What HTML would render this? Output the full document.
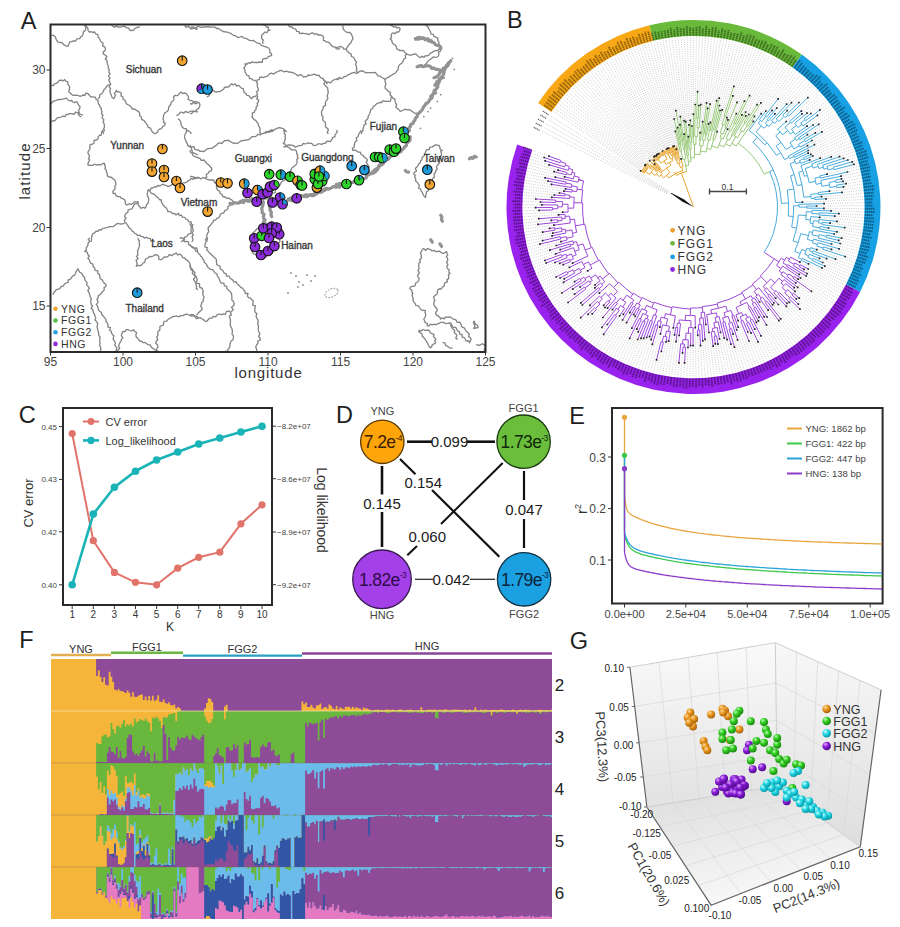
<!DOCTYPE html><html><head><meta charset="utf-8"><style>html,body{margin:0;padding:0;background:#fff;width:900px;height:927px;overflow:hidden}svg{display:block;font-family:"Liberation Sans",sans-serif}</style></head><body>
<svg width="900" height="927" viewBox="0 0 900 927">
<rect width="900" height="927" fill="#fff"/>
<text x="20.7" y="28.6" font-size="23.5" fill="#1e1e1e" text-anchor="start" >A</text>
<text x="507" y="28.2" font-size="23.5" fill="#1e1e1e" text-anchor="start" >B</text>
<text x="18.8" y="422.6" font-size="23.5" fill="#1e1e1e" text-anchor="start" >C</text>
<text x="336" y="423" font-size="23.5" fill="#1e1e1e" text-anchor="start" >D</text>
<text x="569.2" y="423.5" font-size="23.5" fill="#1e1e1e" text-anchor="start" >E</text>
<text x="19.3" y="648.2" font-size="23.5" fill="#1e1e1e" text-anchor="start" >F</text>
<text x="569.8" y="648.6" font-size="23.5" fill="#1e1e1e" text-anchor="start" >G</text>
<defs><clipPath id="mapclip"><rect x="51" y="25" width="434" height="326"/></clipPath></defs>
<g clip-path="url(#mapclip)">
<g fill="none" stroke="#838383" stroke-width="1.3" stroke-linejoin="round"><polyline points="51.3,35.3 53.7,35.4 55.5,37.0 55.9,38.9 56.9,40.5 58.0,42.0 59.7,42.5 61.6,42.4 63.0,43.7 64.3,45.2 66.0,46.0 68.0,46.2 68.9,44.1 69.7,42.0 71.6,41.7 73.5,40.8 75.5,41.2 76.9,38.9 79.7,38.7 80.5,37.1 82.1,36.0 83.0,34.5 83.3,31.9 85.5,30.3 85.8,27.7 84.7,25.3 84.9,23.4 86.3,22.0"/><polyline points="84.7,25.3 86.3,26.6 87.8,28.0 88.0,30.3 89.4,32.0 91.2,31.7 92.8,32.5 94.7,32.0 95.5,33.8 97.9,34.7 98.0,37.0 99.5,38.4 100.2,40.3 101.3,42.0 103.2,43.2 102.5,45.9 104.7,46.8 105.5,48.7 104.9,50.9 103.0,52.0 103.6,54.1 105.5,55.3 106.8,56.8 105.3,58.9 106.9,60.3 107.2,62.0 107.4,64.0 108.2,65.9 108.2,68.0 109.3,69.9 108.8,72.0 110.2,73.9 108.3,76.1 110.0,77.9 108.8,80.1 109.7,82.0 110.7,84.1 109.1,86.6 110.5,88.7 109.8,91.0 110.4,93.2 111.3,95.3 112.1,97.4 113.8,98.7 114.5,97.1 115.4,95.5 114.4,93.4 115.8,92.0 116.3,90.3 117.6,91.9 119.7,92.0 121.4,93.3 121.0,95.9 123.0,97.0 123.0,99.1 124.9,100.2 125.8,101.8 126.3,103.7 128.1,104.7 129.8,105.7 131.3,107.0 132.3,109.1 134.8,109.0 136.3,110.3 138.5,111.3 139.6,113.1 139.6,115.7 141.3,117.0 141.6,119.4 143.8,120.3 145.1,122.0 146.3,123.7 147.5,125.4 148.3,127.4 150.6,128.2 151.3,130.3 152.8,132.3 154.7,134.0"/><polyline points="154.7,134.0 156.1,133.0 157.5,132.1 158.2,130.2 159.5,129.1 161.3,128.7 162.7,126.7 164.7,125.3 165.3,123.4 163.5,122.1 163.7,120.3 163.0,118.7 163.4,116.8 163.8,114.9 164.5,113.2 166.3,112.0 167.9,110.7 168.6,109.0 168.6,106.9 170.1,105.5 170.9,103.9 171.3,102.0 173.1,100.8 174.0,99.2 173.6,96.9 174.7,95.3 176.9,95.6 178.5,94.7 179.8,93.0 181.3,92.0 182.7,93.5 184.7,93.1 186.3,93.7 187.4,95.2 188.6,96.7 188.0,99.1 189.7,100.3 191.8,100.7 193.6,101.7 194.7,103.7 196.7,103.5 198.0,102.0"/><polyline points="176.3,115.3 178.4,114.8 179.6,113.1 181.3,112.0 183.5,113.1 185.9,111.4 188.0,112.8 189.5,111.7 191.2,111.2 193.0,111.2 195.5,111.4 198.0,112.0"/><polyline points="178.0,118.7 179.6,120.0 180.6,121.5 180.9,123.5 181.3,125.3 182.4,127.3 184.0,128.6 186.3,128.7 187.1,130.4 188.9,131.3 190.5,132.2 191.3,134.0"/><polyline points="51.3,85.3 53.5,85.5 54.7,83.7 56.6,83.3 58.0,82.0 59.3,80.3 61.1,80.1 63.3,80.9 64.7,79.5 65.9,81.3 68.0,82.0 67.7,84.0 68.9,85.4 69.7,87.0 69.4,89.5 68.8,92.0 70.7,93.3 72.3,95.0 74.7,95.3 76.9,95.1 79.1,96.0 81.3,96.2 82.8,95.0 84.9,95.5 85.9,93.1 88.0,93.7 89.4,95.2 90.7,96.8 93.0,97.0 95.3,97.1 96.2,99.4 98.0,100.3 98.2,102.1 98.3,103.9 99.7,105.3 100.0,107.1 101.4,108.5 101.3,110.3 102.1,111.9 101.4,114.0 103.0,115.3 102.0,117.6 103.9,119.8 103.0,122.0 104.1,123.6 104.3,125.4 104.5,127.1 103.6,128.8 104.5,130.5 102.8,132.3 103.8,134.0"/><polyline points="98.0,98.7 99.6,97.2 99.8,94.8 101.8,93.7 103.0,92.0 103.7,90.1 105.2,88.7 106.3,87.0 107.6,85.2 109.7,84.5"/><polyline points="51.3,103.7 52.6,101.9 54.2,100.9 56.2,100.3 58.0,99.5 60.3,99.7 62.5,99.1 64.7,98.7 66.6,98.0 67.9,100.0 69.4,100.8 71.3,100.3 72.7,101.8 74.3,102.7 76.9,101.7 78.0,103.7 78.6,105.3 80.1,106.7 79.7,108.7 78.5,110.1 79.3,112.3 78.0,113.7 79.3,115.7 81.3,117.0"/><polyline points="51.3,122.0 52.7,120.6 54.9,120.8 56.1,119.1 57.5,117.6 59.5,117.6 61.3,117.0 62.8,115.9 65.0,116.6 66.1,114.5 68.0,114.3 69.7,113.7 71.8,113.6 73.9,114.4 75.8,112.0 78.0,112.8 79.6,113.9 81.3,114.5 83.0,115.3"/><polyline points="111.3,25.3 112.9,26.3 114.4,27.3 116.4,26.1 118.0,27.0 120.3,27.2 122.5,26.5 124.7,26.2 126.2,27.7 128.7,28.1 129.7,30.3 131.6,30.5 133.4,30.4 134.7,28.7 136.2,27.8 137.9,27.1 139.7,27.0"/><polyline points="184.7,25.3 185.8,27.3 188.4,26.1 189.7,27.8 191.9,27.0 193.9,27.2 195.8,29.2 198.0,28.7"/><polyline points="190.0,28.7 192.1,29.0 194.0,27.9 196.0,28.0 197.8,26.1 200.0,27.0 202.0,27.4 204.0,26.9 206.0,27.0 208.0,26.7 210.0,27.0 211.7,27.2 213.5,27.2 215.3,27.2 216.7,28.5 218.5,28.5 220.0,29.5 221.5,30.6 223.1,31.5 224.8,31.9 226.7,32.0 228.4,32.7 230.3,33.1 231.8,34.2 233.3,35.3 235.0,35.7 236.6,36.5 238.1,37.7 240.0,37.0 241.9,36.4 243.3,37.8 245.0,38.2 246.7,38.7 248.2,39.6 249.8,40.4 251.5,40.6 253.3,40.3 254.9,41.5 256.4,42.6 258.1,43.2 260.0,43.7 261.3,45.3 263.1,45.8 264.8,46.6 266.7,47.0 268.8,48.2 270.0,50.3 269.6,52.3 271.4,53.6 271.7,55.3 269.8,56.2 267.9,56.9 266.7,58.7 264.5,58.5 262.8,59.2 262.2,62.3 260.0,62.0 257.9,62.5 255.8,62.5 253.8,62.3 251.7,62.0 250.2,63.3 248.3,62.7 246.9,64.3 245.0,63.7 245.5,65.9 243.9,68.1 245.0,70.3 245.0,72.2 246.2,73.6 246.7,75.3 248.9,75.6 249.4,78.5 251.7,78.7 253.1,80.2 255.4,80.3 256.7,82.0 257.5,83.6 257.2,85.4 257.5,87.1 258.3,88.7 258.5,90.5 256.4,91.7 257.5,93.8 256.7,95.3 257.7,96.9 256.7,98.9 258.8,100.1 258.3,102.0 257.2,103.5 257.7,105.6 256.1,106.9 256.2,108.9 255.0,110.3 254.4,112.1 252.3,113.2 252.6,115.4 251.7,117.0 253.0,118.1 254.0,119.7 255.8,120.4 256.7,122.0 258.1,123.4 258.3,125.2 259.2,126.8 260.1,128.4 260.0,130.3 259.8,132.6 261.7,134.0"/><polyline points="263.3,25.3 265.4,24.8 266.4,27.2 268.3,27.0 268.2,29.2 270.0,30.3 268.2,30.4 267.0,32.6 265.0,32.0 263.3,33.7 261.7,35.3 261.7,38.7 263.3,40.0 262.5,42.1 263.3,43.7"/><polyline points="288.3,25.3 289.7,26.9 292.0,27.0 293.3,28.7 295.7,28.9 296.6,31.3 298.9,31.6 300.0,33.7 302.2,33.2 304.4,33.6 306.7,33.7 308.7,34.7 310.7,33.3 312.7,32.8 314.7,34.4 316.7,33.7 318.1,35.0 320.0,34.8 321.7,35.3 323.3,36.6 323.5,38.4 323.3,40.3 325.1,40.9 326.6,42.1 328.6,42.2 330.0,43.7 331.2,45.4 332.9,46.6 335.0,47.0 336.3,48.6 338.0,49.0 340.0,48.7"/><polyline points="256.7,82.0 257.1,79.9 259.3,79.6 259.7,77.5 261.7,77.0 263.6,77.6 265.1,76.8 266.8,76.4 268.3,75.3 269.7,73.9 271.3,73.0 273.6,74.1 275.1,72.9 276.7,72.0 278.5,71.4 280.0,70.3 282.1,70.7 284.0,71.9 286.3,71.2 288.3,72.0 290.1,71.9 291.8,72.5 293.5,72.8 295.0,73.7 296.5,74.6 298.0,75.9 300.4,74.7 302.1,75.3 303.3,77.0 305.0,76.6 306.8,76.6 308.1,75.0 310.0,75.3 312.2,74.8 314.4,74.2 316.7,75.3 318.9,75.1 320.0,77.0 321.5,78.2 323.3,78.7 324.1,80.5 326.3,81.5 326.7,83.7 327.9,81.9 330.5,83.0 331.7,81.3 333.3,80.3 334.9,79.3 336.9,79.1 338.6,78.3 340.0,77.0"/><polyline points="323.3,78.7 323.7,80.3 325.2,81.7 323.8,83.9 325.0,85.3 326.5,86.7 327.7,88.2 327.8,90.2 328.3,92.0 327.8,94.1 327.2,96.1 327.9,98.4 326.7,100.3 325.5,101.8 325.3,103.7 325.5,105.6 323.2,106.7 323.3,108.7 322.2,110.1 321.5,111.8 321.6,113.6 321.7,115.3 323.1,116.7 322.7,119.0 323.3,120.8 325.0,122.0 325.6,123.7 325.4,125.7 325.9,127.4 327.9,128.6 328.3,130.3 327.2,132.2 328.3,134.0"/><polyline points="206.7,97.0 208.8,96.0 209.8,94.1 209.4,91.3 211.7,90.3 213.5,90.5 214.9,91.7 216.7,92.0 218.4,91.7 220.2,91.5 221.7,90.3 223.5,89.5 224.5,87.4 226.7,87.0 228.9,86.8 230.1,84.9 231.7,83.7 233.1,85.0 235.2,83.8 236.4,86.1 238.3,85.3 239.9,86.6 241.3,88.1 243.3,88.7 243.6,90.6 244.1,92.4 246.1,93.5 246.7,95.3 248.9,95.6 250.1,97.4 251.7,98.7 252.9,96.9 255.1,96.5 256.7,95.3"/><polyline points="190.0,103.7 191.9,104.0 193.2,102.5 194.8,101.5 196.7,102.0 199.2,102.8 200.0,105.3 199.3,107.1 198.3,108.7 196.6,109.5 195.6,111.7 193.1,111.3 192.0,113.3 190.0,113.7"/><polyline points="265.0,134.0 266.1,132.0 269.0,132.4 270.0,130.3 271.7,130.0 273.6,130.5 275.0,129.1 276.7,128.7 278.9,127.7 281.1,128.0 283.3,128.7 285.1,130.2 286.7,132.0"/><polyline points="342.8,25.4 343.0,27.2 343.2,29.0 344.4,30.4 345.9,31.9 347.7,32.5 349.8,32.4 351.2,33.8 351.9,35.5 352.6,37.1 352.9,38.9 351.8,40.6 351.1,42.6 349.5,44.0 348.3,45.6 347.3,47.4 346.1,49.0 343.9,49.2 342.8,47.3 340.5,46.5 338.3,47.1 336.0,47.3"/><polyline points="346.1,49.0 346.9,50.8 348.3,52.0 349.5,53.2 351.2,54.1 351.3,56.5 353.7,57.3 354.6,59.2 355.3,60.8 356.6,62.2 355.4,64.3 356.3,65.9 356.5,67.7 356.9,69.3 356.3,71.3 358.0,72.7 359.4,71.4 361.1,70.9 363.0,71.0 364.5,72.1 366.2,72.9 368.1,72.7 370.6,72.6 373.2,72.7 375.3,72.5 376.7,74.1 377.9,75.9 379.9,76.1 381.6,77.2 383.4,78.2 385.0,79.4 386.5,78.1 388.5,77.4 390.1,76.1 391.9,75.0 393.7,73.9 395.7,73.0 396.8,71.0 398.2,69.6 398.2,67.5 398.8,65.6 400.2,64.2 401.9,62.9 403.1,61.3 403.6,59.2 405.6,58.1 405.2,55.4 406.9,54.1 409.2,55.0 411.5,55.1 413.7,54.1 415.9,54.0 417.3,55.4 418.6,56.9 420.5,57.5 421.9,56.2 424.0,57.4 425.4,55.6 427.2,55.8 429.2,55.0 430.3,53.1 432.3,52.4 433.8,51.2 435.4,50.6 437.4,50.7 439.0,49.0 440.7,47.3"/><polyline points="336.0,79.4 337.8,79.5 339.2,77.9 341.2,78.6 342.8,77.7 344.3,76.5 346.3,76.4 347.7,74.9 349.5,74.4 351.1,73.3 352.7,72.8 354.4,72.3 356.4,73.5 358.0,72.7"/><polyline points="385.0,79.4 385.2,81.7 385.9,83.9 385.0,86.2 385.3,88.4 386.9,89.8 388.4,91.3 390.5,92.3 390.1,94.9 391.7,96.3 391.0,97.9 390.8,99.7 390.1,101.4 387.5,101.4 385.0,101.4 383.0,100.7 381.7,102.5 379.8,102.3 378.2,103.1 376.4,103.9 375.0,105.6 373.2,106.5 372.7,108.3 370.9,109.6 370.3,111.4 369.8,113.2 369.0,115.0 368.1,116.6 367.9,118.6 366.4,120.0 365.1,121.4 366.2,123.8 364.0,124.9 363.8,126.8 363.0,128.4 363.1,130.5 361.7,132.1 361.3,134.0"/><polyline points="391.7,96.3 392.7,98.1 394.9,99.1 395.1,101.4 395.6,103.1 396.8,104.6 395.7,106.6 396.8,108.1 398.8,109.5 400.2,111.5 401.8,110.7 403.4,110.0 405.0,109.2 406.9,109.8 408.9,109.7 410.6,110.1 412.0,111.5 413.6,112.4 415.1,113.5 417.1,113.2"/><polyline points="390.1,25.4 392.1,25.6 393.4,27.1 395.4,26.5 396.8,28.0 398.7,27.4 400.2,28.8 399.6,30.6 398.5,32.1 396.7,31.9 395.3,33.7 393.3,32.9 391.7,33.8 391.1,35.5 391.6,37.5 390.1,38.9 391.7,40.2 392.1,42.4 393.4,44.0 395.4,45.1 396.3,46.9 396.8,49.0 398.5,49.6 400.0,50.6 401.9,50.3 403.6,50.7 405.0,52.7 406.9,54.1"/><polyline points="425.5,25.4 427.8,26.3 428.5,28.5 429.7,30.2 430.6,32.1 431.1,34.1 433.4,34.4 433.9,36.4 435.7,37.2 437.8,38.2 437.9,40.6 439.0,42.3 438.7,44.3 439.5,45.9 440.7,47.3 440.1,49.0 440.7,50.9 438.4,52.1 439.0,54.1 438.1,56.5 435.7,57.5 433.6,56.9 432.1,57.9 430.6,59.2 428.5,60.5 427.2,62.5 425.5,64.2 423.8,65.9 421.6,66.8 419.3,66.3 417.1,65.9"/><polyline points="103.0,130.0 101.8,131.5 101.5,133.2 101.3,135.0 99.3,135.4 98.2,136.8 98.0,139.2 96.3,140.0 94.1,140.5 94.0,143.0 92.5,144.2 90.2,144.5 89.7,146.7 90.1,148.5 89.1,150.1 88.1,151.6 88.0,153.3 89.0,154.9 89.4,156.5 88.5,158.5 89.7,160.0 88.8,161.6 88.0,163.1 88.0,165.0 90.3,165.4 92.6,165.4 94.7,164.2 96.7,165.0 98.7,164.6 100.8,164.9 102.7,163.5 104.7,163.3 104.6,165.1 105.5,166.7 104.8,168.6 106.3,170.0 106.4,171.8 107.3,173.3 107.2,175.1 108.0,176.7 109.9,177.0 111.7,177.5 113.1,178.9 114.7,180.0 115.6,182.2 115.9,184.4 114.7,186.7 115.2,188.6 113.9,190.0 112.8,191.5 113.0,193.3 115.3,193.5 116.1,195.8 118.0,196.7 120.1,196.6 121.3,198.4 123.2,198.7 124.7,200.0 125.4,201.6 125.3,203.5 126.3,205.0 127.9,204.4 129.6,203.9 131.5,204.3 133.0,203.3 134.4,201.9 136.2,201.9 138.0,201.7 138.1,203.5 138.3,205.3 139.7,206.7 141.0,208.4 143.2,207.2 144.7,208.3 146.0,206.8 146.5,204.7 148.0,203.3 148.5,201.1 148.9,198.9 148.0,196.7 147.1,194.4 147.6,192.2 148.0,190.0 150.2,190.1 151.2,188.0 153.1,187.8 154.7,186.7 156.5,187.0 157.9,185.3 159.8,186.1 161.3,185.0 163.3,184.2 164.8,185.4 166.5,185.4 168.0,186.7 169.6,185.9 171.2,185.1 172.7,184.3 174.7,185.0 176.5,185.3 177.8,183.4 179.7,183.9 181.3,183.3 183.1,182.8 185.0,182.8 186.7,182.1 188.1,180.9 189.7,180.0 191.0,178.6 193.2,179.3 194.3,177.1 196.7,178.3 198.0,176.7"/><polyline points="148.0,190.0 150.0,191.3 151.3,193.3 153.3,193.9 155.1,195.0 156.3,196.7 158.1,197.6 159.3,199.5 161.3,200.0 161.4,202.1 162.4,203.6 163.3,205.3 164.7,206.7 166.3,208.0 167.3,209.8 168.0,211.7 169.8,211.6 171.4,212.3 172.8,213.8 174.7,213.3 176.0,215.0 178.3,213.2 179.4,215.7 181.3,215.0 182.4,217.1 184.7,217.4 186.0,219.1 188.0,220.0 188.7,221.8 191.1,221.9 191.5,224.0 193.0,225.0 191.4,226.4 191.2,228.1 190.8,229.8 191.3,231.7 190.8,233.7 188.5,233.8 187.6,235.4 186.3,236.7 184.3,237.3 184.4,239.9 182.5,240.6 181.3,242.0"/><polyline points="138.0,201.7 137.4,203.6 135.0,203.6 133.9,205.0 133.0,206.7 132.0,208.8 129.9,209.3 128.0,210.0 128.0,212.1 126.0,213.2 125.2,214.9 124.7,216.7 126.1,218.1 124.4,220.3 124.8,221.9 126.3,223.3 127.6,224.9 128.4,226.8 129.7,228.3 131.2,229.3 132.0,231.0 133.6,231.9 134.7,233.3 136.4,234.0 137.7,235.6 140.0,235.1 141.3,236.7 143.1,236.6 144.5,238.1 146.5,237.2 148.0,238.3 150.2,238.3 150.8,241.1 153.4,240.3 154.7,242.0"/><polyline points="91.3,242.0 91.4,240.2 91.5,238.4 91.7,236.7 92.3,235.0 93.0,233.3 94.7,232.8 96.0,231.1 98.0,231.4 99.2,229.6 101.3,230.0 102.7,228.4 104.4,228.2 106.1,227.7 107.9,227.4 109.5,226.7 111.3,226.7 113.4,226.6 114.8,225.4 116.3,224.1 118.0,223.3 120.2,224.0 122.4,223.8 124.7,223.3"/><polyline points="186.3,130.0 186.4,132.2 185.2,134.1 184.5,136.1 184.7,138.3 185.6,140.0 186.1,142.0 187.4,143.5 187.7,145.6 189.7,146.7 191.4,148.0 191.8,150.3 192.5,152.4 194.7,153.3 196.3,154.2 198.0,155.0"/><polyline points="190.0,145.0 191.1,147.1 193.9,146.7 194.7,149.2 196.7,150.0 198.5,149.8 199.8,151.4 201.7,151.1 203.3,151.7 205.0,150.9 206.4,149.4 208.1,148.6 210.0,148.3 212.1,148.3 213.5,147.0 215.1,146.1 216.7,145.0 217.9,143.3 219.8,142.9 222.2,143.5 223.3,141.7 224.8,140.4 226.7,140.6 228.3,140.0 229.7,141.5 231.7,142.2 233.3,143.3 235.0,143.0 237.0,143.6 238.5,142.8 240.0,141.7 241.5,140.6 243.3,140.7 245.0,140.2 246.7,140.0 248.5,139.6 250.2,138.7 251.4,137.0 253.3,136.7 255.1,136.7 256.6,135.7 258.0,134.2 260.0,135.0 261.4,133.7 263.3,133.3 264.9,132.5 266.4,131.5 268.3,131.7 270.1,131.5 272.1,131.7 273.3,130.0"/><polyline points="190.0,150.0 190.4,152.3 192.2,153.5 193.0,155.5 195.0,156.7 196.7,157.2 198.3,158.0 200.0,158.3 201.1,160.4 204.0,160.0 205.2,161.8 206.7,163.3 208.1,164.4 209.4,165.6 210.5,167.0 211.7,168.3 211.5,170.6 209.1,171.4 208.3,173.3 206.3,174.4 206.7,177.0 205.0,178.3"/><polyline points="190.0,176.7 191.9,176.3 193.4,177.1 194.8,178.6 196.7,178.3 198.8,177.6 200.8,179.0 202.9,177.5 205.0,178.3 206.6,179.0 208.2,179.7 209.9,180.0 211.7,180.0 213.8,179.9 214.5,182.7 216.3,183.3 218.3,183.3 217.8,185.0 216.4,186.4 216.7,188.3 217.6,190.1 219.6,191.2 220.0,193.3 221.8,194.4 222.9,196.5 225.1,197.0 226.7,198.3 228.8,198.1 230.4,199.3 232.0,200.1 233.3,201.7 234.9,202.3 236.6,202.8 238.4,202.8 240.0,203.3 241.6,202.7 243.6,203.6 244.9,201.7 246.7,201.7 249.2,202.1 251.7,201.7"/><polyline points="283.3,130.0 284.5,131.5 284.1,133.3 285.4,134.8 285.0,136.7 285.5,138.6 284.6,140.1 284.7,141.9 283.3,143.3 285.2,144.3 286.4,146.1 288.3,147.2 290.0,148.3 291.3,149.8 293.4,149.9 295.5,149.9 296.7,151.7 296.5,153.5 297.7,154.9 297.3,156.8 298.3,158.3 296.7,159.6 297.2,161.6 296.7,163.3 295.9,165.0 294.4,166.1 292.9,167.1 291.7,168.3 290.9,170.3 290.3,172.2 288.3,173.3 287.7,175.1 286.3,176.5 285.1,178.0 285.0,180.0 283.3,180.8 281.8,181.8 280.7,183.2 280.0,185.0 278.5,186.8 276.7,188.3 275.3,189.8 275.4,192.3 273.3,193.3"/><polyline points="283.3,146.7 285.2,147.0 286.8,146.3 288.2,144.8 290.0,145.0 291.7,145.3 293.5,145.3 294.8,147.0 296.7,146.7 298.3,145.7 300.3,145.6 302.1,145.1 303.3,143.3 305.6,144.0 307.8,143.0 310.0,143.3 311.8,143.4 313.1,145.2 314.8,145.6 316.7,145.0 318.1,143.8 319.9,143.8 321.8,144.4 323.3,143.3 325.2,143.3 326.5,141.5 328.3,141.2 330.4,141.7 331.7,140.0 332.6,137.6 335.0,136.7 334.9,134.9 336.2,133.4 337.2,131.9 336.7,130.0"/><polyline points="230.0,203.3 230.2,205.5 227.8,206.4 227.9,208.5 226.7,210.0 224.7,210.7 223.8,213.0 221.7,213.3 220.2,214.4 219.8,216.4 218.7,217.9 216.7,218.3 215.8,220.0 213.6,220.2 213.1,222.3 211.7,223.3 210.8,225.0 209.4,226.3 208.1,227.8 208.3,230.0 208.7,231.8 207.4,233.4 206.9,235.0 206.7,236.8 207.5,238.6 207.0,240.3 206.7,242.0"/><polyline points="190.0,223.3 190.2,225.3 192.2,226.4 192.5,228.3 193.3,230.0 192.8,231.7 192.0,233.3 193.3,235.2 192.0,236.8 192.8,238.7 192.8,240.4 191.7,242.0"/><polyline points="361.3,130.0 360.5,131.7 359.3,133.2 358.5,134.9 358.0,136.8 356.1,137.9 357.0,140.5 355.4,141.8 354.6,143.5 354.2,145.2 354.3,147.0 352.3,148.3 352.9,150.3 354.9,150.0 356.5,150.8 358.0,152.0 360.3,152.1 361.1,154.5 363.0,155.3 364.4,157.3 366.4,158.7 367.5,160.2 366.2,162.4 367.3,163.9 368.1,165.5 369.2,167.0 367.9,169.1 368.5,170.8 369.8,172.2"/><polyline points="437.4,145.2 439.4,145.7 439.9,147.7 440.4,149.8 442.4,150.3 440.7,151.6 441.5,153.7 441.3,155.5 439.1,156.7 440.1,158.9 439.0,160.4 439.6,162.5 438.5,164.0 437.4,165.5 436.4,167.0 437.3,169.2 435.7,170.5 435.5,172.4 434.0,173.7 434.3,175.7 434.2,177.6 432.3,178.8 432.3,180.7 431.8,182.4 430.5,183.9 430.3,185.8 428.9,187.1 428.9,189.1 428.2,190.8 426.5,192.1 426.2,193.9 425.7,195.7 425.5,197.6 423.8,195.9 423.0,194.2 422.4,192.4 421.0,190.9 420.5,189.1 418.5,188.0 419.3,185.2 418.1,183.7 417.0,182.0 415.4,180.7 415.8,178.8 414.7,177.3 415.3,175.3 413.7,173.9 414.5,172.2 416.5,171.1 415.3,168.4 416.8,167.0 418.1,165.6 418.8,163.8 420.3,162.7 420.5,160.9 421.9,159.7 421.9,157.7 423.4,156.6 424.5,155.3 424.9,153.6 425.5,152.0 426.5,149.7 429.1,149.7 429.8,147.2 432.3,146.9 433.8,145.9 435.4,144.9 437.4,145.2"/><polyline points="89.7,238.0 88.2,239.4 89.9,241.6 88.1,242.9 88.0,244.7 87.4,246.4 86.1,247.9 86.4,250.1 84.7,251.3 87.2,252.1 88.0,254.7 89.4,256.1 87.9,258.2 89.3,259.7 89.7,261.3 90.7,263.2 92.9,264.1 93.0,266.6 94.7,268.0 95.1,270.3 97.8,270.9 97.9,273.4 99.7,274.7 99.7,276.7 100.2,278.6 102.0,279.7 103.0,281.3 104.4,283.3 106.3,284.7 105.8,286.5 104.0,287.7 104.3,289.9 103.0,291.3 101.5,292.8 100.2,294.5 98.3,295.6 98.0,298.0 96.9,299.5 98.1,301.6 97.5,303.2 96.3,304.7 97.5,306.2 98.2,307.9 98.3,309.9 99.7,311.3 101.4,312.6 102.0,314.8 103.5,316.3 104.7,318.0 105.9,319.4 106.0,321.5 107.3,322.9 108.0,324.7 107.8,326.9 110.5,327.6 109.6,330.1 111.3,331.3 111.6,333.1 112.5,334.6 114.0,336.0 113.2,338.1 113.4,339.9 114.7,341.3 115.4,343.0 114.8,344.9 115.6,346.5 117.0,348.1 116.3,350.0 115.4,352.3 116.3,354.7"/><polyline points="53.0,294.7 53.7,292.7 55.2,291.3 56.3,289.7 58.4,289.1 60.2,288.2 61.3,286.3 63.5,286.0 64.5,283.8 66.3,283.0 68.2,282.4 68.2,279.9 70.2,279.3 71.3,278.0 72.4,276.2 74.6,275.2 75.5,273.3 76.3,271.3 78.0,268.8 78.8,270.5 79.6,272.1 81.3,273.0 82.5,274.5 83.1,276.3 84.7,277.6 84.7,279.7 85.8,281.2 87.0,282.7 86.6,284.9 88.0,286.3 89.3,288.2 87.8,290.7 89.0,292.6 89.7,294.7 90.1,296.6 91.3,298.5 90.8,300.6 90.8,302.7 91.3,304.7 92.6,306.1 91.0,308.3 92.9,309.6 93.0,311.3 93.7,312.9 94.6,314.5 95.0,316.2 95.8,317.8 94.9,319.9 96.3,321.3 97.7,323.2 97.3,325.3 97.1,327.4 97.7,329.3 98.0,331.3 98.8,333.3 98.7,335.3 100.1,337.2 99.8,339.3 99.7,341.3 100.1,343.2 99.5,345.2 100.6,347.0 100.8,348.9 100.5,350.9 101.6,352.7 101.3,354.7"/><polyline points="138.0,238.0 138.3,239.7 139.6,241.1 139.0,243.1 139.7,244.7 139.2,246.7 138.6,248.6 137.7,250.5 137.6,252.5 138.0,254.7 136.5,256.4 138.1,258.6 136.0,260.3 137.0,262.5 136.9,264.4 136.3,266.3 137.9,265.4 140.1,265.6 141.8,264.8 143.0,263.0 144.8,262.3 145.1,260.1 146.1,258.6 148.0,258.0 149.3,256.5 151.5,256.7 153.2,256.0 154.7,254.7 157.0,255.0 158.7,256.2 158.9,259.4 161.3,259.7 162.8,258.5 164.2,257.0 166.3,257.1 168.0,256.3 169.3,254.7 171.6,255.7 173.0,254.4 174.8,253.9 176.3,253.0 177.5,254.9 180.1,254.2 181.7,255.4 182.6,257.6 184.7,258.0 185.7,259.4 187.3,260.4 188.7,261.5 189.7,263.0 190.1,264.8 190.0,266.7 190.6,268.4 191.4,270.1 193.0,271.3 192.2,273.5 194.6,275.2 195.2,277.1 193.5,279.5 194.7,281.3 195.9,282.8 195.9,284.7 196.7,286.3 196.2,288.4 198.0,289.7"/><polyline points="158.0,354.7 157.6,352.8 156.6,351.0 156.6,349.0 158.0,346.9 157.6,345.0 155.7,343.3 156.3,341.3 157.8,339.5 156.7,337.3 157.9,335.4 157.8,333.4 158.0,331.3 159.7,330.4 159.9,328.5 159.9,326.4 161.9,325.7 163.5,324.7 163.5,322.6 164.7,321.3 166.7,321.2 167.9,319.5 169.5,318.5 171.2,317.7 172.7,316.6 174.7,316.3 176.7,316.0 178.9,316.8 180.7,315.6 182.8,315.7 184.7,314.7 186.8,314.2 188.7,315.0 190.6,315.9 192.7,315.7 194.7,316.3 196.9,316.1 198.0,318.0"/><polyline points="116.3,354.7 117.8,353.3 116.6,351.0 118.4,349.8 119.7,348.4 118.6,346.2 119.1,344.5 119.8,342.9 120.9,341.4 121.3,339.7 122.9,337.8 121.3,335.3 122.0,333.3 123.0,331.3 125.0,331.7 126.2,329.7 128.0,329.7 129.6,330.5 131.2,331.0 133.3,329.7 134.7,331.3 136.6,332.5 135.8,335.0 136.2,336.8 137.6,338.2 138.9,339.6 139.7,341.3 141.7,341.1 143.0,342.7 145.0,342.4 146.5,343.6 148.0,344.7 150.4,345.0 151.3,347.2 153.0,348.4 154.7,349.7 156.7,350.5 158.4,351.6 160.3,352.5 161.3,354.7"/><polyline points="179.7,238.0 181.9,237.8 183.4,238.8 184.1,241.6 186.3,241.3 188.5,241.8 188.6,244.4 190.4,245.3 191.5,246.8 193.0,248.0 194.9,248.7 195.7,251.2 198.0,251.3"/><polyline points="206.7,238.0 205.5,239.5 206.1,241.4 205.6,243.0 205.0,244.7 204.9,246.8 207.4,247.6 206.7,250.1 208.3,251.3 209.5,252.9 210.9,254.1 212.3,255.4 213.5,256.8 215.0,258.0 216.4,259.4 216.4,261.2 216.6,262.9 216.7,264.7 218.5,265.5 220.1,266.6 220.3,269.0 222.1,269.9 223.3,271.3 224.2,273.1 226.2,273.8 226.6,276.1 229.1,276.2 230.0,278.0 231.4,279.1 232.9,280.1 233.7,281.9 236.1,281.7 236.9,283.6 238.3,284.7 239.7,285.9 240.8,287.6 242.8,288.2 243.6,290.1 245.0,291.3 245.2,293.5 248.0,293.5 247.4,296.2 248.5,297.6 250.7,298.2 251.7,299.7 253.3,300.9 253.0,303.0 252.6,305.1 255.5,305.9 255.0,308.0 254.7,310.1 255.0,312.1 256.9,313.8 256.1,316.0 256.7,318.0 257.9,319.9 258.3,321.8 257.6,324.0 258.5,325.9 258.3,328.0 258.3,330.1 258.9,332.0 260.0,333.9 258.6,336.2 260.0,338.0 260.3,340.2 257.7,341.0 258.0,343.2 256.7,344.7 255.7,346.7 256.4,348.7 256.8,350.7 257.4,352.7 256.7,354.7"/><polyline points="190.0,244.7 191.3,246.3 192.9,247.1 194.5,248.2 196.7,248.0 197.3,249.8 197.4,251.8 198.3,253.4 200.0,254.7 200.6,256.3 202.2,257.3 202.6,259.1 204.1,260.2 204.1,262.2 205.6,263.3 206.7,264.7 207.4,266.7 208.8,268.1 210.4,269.3 212.7,269.7 213.9,271.3 215.0,273.0 216.9,274.1 217.4,276.1 218.7,277.6 219.4,279.4 220.0,281.3 221.2,283.2 223.9,283.1 224.4,285.9 226.7,286.3 226.9,288.6 228.3,290.0 230.0,291.3 231.2,292.8 231.6,294.5 231.8,296.3 231.9,298.1 231.8,300.0 233.3,301.3 234.2,303.5 233.7,305.5 231.5,307.2 233.2,309.5 231.7,311.3 230.3,312.8 231.6,314.9 229.3,316.0 230.0,318.0 230.4,320.0 230.4,322.0 230.2,324.1 230.5,326.1 231.7,328.0 232.2,330.0 232.4,332.0 232.0,334.1 233.6,335.9 233.3,338.0 233.1,339.8 231.1,341.0 230.4,342.6 229.9,344.4 230.0,346.3 229.2,348.0 228.1,349.4 227.4,351.1 224.9,351.4 225.3,354.0 223.3,354.7"/><polyline points="190.0,314.7 192.0,314.6 193.8,314.9 195.0,316.6 196.2,318.5 198.3,318.0 200.4,317.7 201.9,318.8 203.5,319.5 204.8,321.1 206.7,321.3 208.1,319.8 209.5,318.2 212.0,318.0 213.3,316.3 215.6,316.9 217.3,314.7 219.4,314.0 221.7,314.7 223.2,313.8 225.4,314.3 226.3,311.6 228.0,311.2 230.0,311.3"/><polyline points="190.0,264.7 190.5,266.5 191.1,268.3 192.6,269.6 193.3,271.3 195.0,272.6 194.3,274.7 195.9,276.0 196.6,277.7 197.2,279.3 196.7,281.3 196.7,283.4 199.4,283.6 199.6,285.6 199.8,287.5 202.1,288.1 202.6,289.8 203.3,291.3 202.6,293.3 203.2,295.3 204.1,297.3 203.2,299.3 203.3,301.3 201.6,302.6 201.5,304.4 200.6,306.0 202.2,308.4 201.6,310.0 200.0,311.3 198.3,313.0 196.7,314.7"/><polyline points="422.1,249.8 423.7,248.4 425.7,250.5 427.2,248.7 428.9,249.0 430.6,249.6 432.0,250.9 434.0,250.3 435.5,251.6 437.4,251.5 439.2,251.1 440.8,252.2 442.3,253.3 444.1,253.2 446.6,251.5 446.9,253.2 447.8,254.8 446.4,256.7 447.5,258.3 447.8,260.3 446.5,262.3 448.0,264.4 446.7,266.4 447.5,268.4 449.2,269.7 448.8,272.0 450.0,273.5 448.4,274.8 448.7,276.8 448.7,278.6 446.8,279.9 447.5,281.9 445.4,282.4 444.4,283.9 444.2,286.2 442.4,287.0 441.3,289.0 438.9,289.0 437.4,290.4 437.5,292.4 437.0,294.2 435.2,295.4 433.6,296.7 434.0,298.8 434.9,300.4 433.9,302.3 433.9,304.1 434.2,305.8 435.7,307.3 437.0,308.7 437.2,310.5 435.6,312.5 435.9,314.2 437.4,315.7 439.6,316.8 440.7,319.1 442.2,317.9 444.2,318.8 445.6,316.8 447.5,317.4 449.4,316.9 451.1,317.4 452.5,318.8 454.2,319.1 456.1,320.1 457.1,322.3 459.8,322.2 461.0,324.1 461.4,326.2 462.7,327.4 464.6,328.2 465.3,329.9 466.3,331.5 467.8,332.6 469.4,333.9 468.5,336.5 470.4,337.6 471.1,339.4 470.3,341.0 469.4,342.7 468.8,340.8 466.1,341.0 465.2,339.3 464.4,337.7 462.2,337.1 462.1,334.5 459.8,334.1 459.4,331.9 457.6,330.9 456.7,329.2 455.8,327.3 453.0,327.4 452.1,325.7 450.9,324.1 449.4,323.0 447.5,323.4 445.6,323.7 444.1,322.5 442.3,322.3 440.6,322.3 439.1,323.4 437.4,323.9 435.8,324.8 434.0,324.1 432.3,324.8 430.4,324.2 429.0,325.8 427.2,325.8 427.4,323.6 425.2,322.6 424.6,320.8 423.8,319.1 424.9,317.5 425.5,315.9 425.7,314.2 425.0,312.3 425.5,310.6 423.8,310.2 421.9,310.4 420.5,308.9 419.3,307.6 418.5,305.8 416.1,305.7 415.4,303.9 414.3,302.4 413.0,300.9 413.3,298.9 412.6,297.1 412.0,295.4 412.9,293.5 411.8,292.0 412.0,290.2 409.9,288.8 410.3,287.0 412.0,286.3 413.9,286.3 415.4,285.3 415.6,283.0 417.8,282.0 418.8,280.2 419.1,278.3 417.6,276.4 418.0,274.5 419.5,272.6 417.9,270.7 419.1,268.8 418.6,266.9 418.8,265.0 418.9,263.3 420.4,261.9 419.6,259.9 421.2,258.5 421.4,256.8 421.2,254.9 420.4,253.0 421.4,251.4 422.1,249.8"/><polyline points="418.8,330.1 420.9,331.2 423.0,329.5 425.1,330.3 427.2,330.1 429.3,330.5 430.3,332.7 432.0,333.6 434.0,334.3 433.4,336.2 434.4,337.7 435.9,339.2 434.6,341.2 435.7,342.7 434.3,343.9 432.3,344.5 431.8,346.5 430.6,347.8 429.1,346.4 428.2,344.5 427.2,342.7 426.1,340.9 425.1,339.1 423.7,337.5 422.1,336.0 422.1,334.0 420.5,333.0 419.0,331.9 418.8,330.1"/><polyline points="474.5,320.8 474.6,322.9 475.7,324.4 477.8,325.5 477.9,327.5 475.8,328.0 473.7,328.4 474.8,326.6 474.3,324.6 473.4,322.6 474.5,320.8"/><polyline points="476.2,344.4 478.2,345.3 480.3,345.0 482.3,343.7 484.3,344.9 486.3,344.4 485.1,345.9 485.5,347.8 484.2,349.3 484.9,351.2 484.6,352.9"/><polyline points="442.4,342.7 444.8,342.8 445.6,345.3 447.5,346.1 448.9,347.5 450.5,348.2 452.6,347.8"/><polyline points="450.9,322.5 450.8,324.4 450.9,326.2 451.8,327.8 453.2,329.2 454.7,330.6 454.2,332.6 455.8,333.9 456.9,335.5 455.8,338.1 457.6,339.4"/><polyline points="254.0,232.0 252.6,233.3 252.6,235.1 252.9,237.1 251.3,238.3 251.0,240.0 250.4,242.1 251.5,244.0 252.1,246.0 251.3,248.1 252.0,250.0 252.2,252.3 253.5,253.9 256.0,254.5 256.8,256.4 258.0,258.0 260.0,257.4 261.9,256.6 264.0,257.4 266.0,257.0 267.3,255.4 269.2,254.6 271.3,254.1 272.5,252.3 274.0,251.0 276.0,250.0 275.4,247.4 276.3,245.8 277.1,244.0 279.0,243.0 280.0,241.5 279.5,239.5 279.8,237.8 281.3,236.4 282.7,235.0 282.0,233.0 282.0,231.2 281.9,229.4 281.2,227.8 279.7,226.6 279.0,225.0 277.0,225.3 275.5,223.6 273.4,224.5 271.6,224.5 270.0,223.0 268.4,223.8 266.5,223.4 264.9,224.2 263.4,225.2 261.9,226.4 260.0,226.0 259.1,228.1 256.8,228.8 255.5,230.5 254.0,232.0"/></g>
<g fill="none" stroke="#939393" stroke-width="3.2" stroke-linejoin="round" stroke-linecap="round"><polyline points="415.4,38.9 417.5,39.1 419.7,38.9 421.7,38.0 423.8,38.0 425.2,39.6 427.7,38.7 429.1,40.1 431.1,40.5 432.3,42.3 434.2,42.7 435.3,44.6 437.1,45.4 439.0,45.6 440.7,46.9 440.7,49.0"/><polyline points="417.1,66.8 419.1,66.1 421.1,65.5 423.2,66.7 425.2,65.9 427.2,65.9 429.1,65.8 430.7,66.7 432.0,68.5 434.0,68.0 435.5,69.2 437.4,69.3 439.0,70.0 440.7,70.1 442.4,70.7 444.1,71.0 445.0,69.1 445.7,67.2 447.5,65.9 448.6,64.2 449.3,62.3 450.9,60.9"/><polyline points="444.1,72.7 443.3,74.6 442.5,76.5 440.7,77.7 439.0,79.0 439.2,81.2 438.9,83.1 437.4,84.5 437.9,86.6 436.9,88.1 435.7,89.6 434.0,90.8 434.3,93.1 432.8,94.4 432.3,96.3 431.7,98.4 429.7,99.5 428.9,101.4 427.7,102.7 426.0,103.5 425.1,105.1 423.8,106.5 423.0,108.3 422.0,110.1 420.5,111.5 419.1,113.1 417.5,114.4 417.1,116.6 415.6,118.0 414.9,120.0 413.7,121.7 412.9,123.6 410.6,124.5 410.3,126.7 408.7,128.2 409.4,130.7 407.4,132.0 406.9,134.0"/><polyline points="230.0,203.3 232.2,204.1 234.0,202.6 236.1,203.0 238.2,203.2 240.0,201.7 241.9,200.9 243.9,200.3 245.9,200.1 248.1,201.0 250.0,200.0 251.9,198.8 254.0,199.4 256.2,200.1 257.9,197.9 260.0,198.3 262.1,198.2 264.2,197.6 266.5,198.2 268.3,196.7 270.0,197.4 271.7,198.0 273.0,199.6 274.8,199.9 276.7,200.0 278.5,199.6 279.8,201.6 281.7,201.0 283.3,201.7 285.5,201.9 287.2,201.0 288.3,199.2 290.0,198.3 292.0,197.8 293.9,197.0 295.9,196.8 297.9,196.3 300.0,196.7 301.9,195.5 304.1,196.6 305.8,194.6 308.0,195.6 310.0,195.0 311.7,194.7 313.5,194.4 315.1,193.5 317.0,193.8 318.2,191.7 320.0,191.7 321.2,189.9 323.4,190.2 324.7,188.7 326.7,188.3 328.6,189.1 330.3,188.5 331.8,187.5 333.3,186.7 335.4,186.6 336.4,184.4 338.3,184.1 340.0,183.3"/><polyline points="263.3,201.7 263.2,203.4 262.9,205.1 262.4,206.7 261.7,208.3 262.1,210.4 262.1,212.6 264.1,214.4 263.3,216.7 263.7,218.4 265.1,219.8 263.4,222.0 265.0,223.3 265.3,225.0 265.6,226.7 266.7,228.2 266.7,230.0"/><polyline points="271.7,200.0 270.7,202.0 270.3,204.1 269.4,206.0 270.0,208.3 270.2,210.5 271.4,212.4 270.9,214.6 271.7,216.7"/><polyline points="336.0,187.4 337.5,186.4 339.7,187.2 340.8,184.9 342.6,184.8 344.4,184.4 346.1,184.1 348.1,184.7 349.4,182.7 351.1,182.5 352.9,182.4 354.4,181.3 356.4,182.5 357.8,180.6 359.8,181.9 361.3,180.7 362.5,179.2 364.2,178.5 366.1,178.0 366.6,175.7 368.4,175.1 369.8,173.9 371.7,172.9 373.3,171.5 374.7,169.9 376.5,168.9 378.1,167.8 378.9,165.8 380.0,164.2 381.1,162.6 383.3,162.1 385.1,161.0 386.8,159.7 388.8,158.9 390.1,157.0 391.4,155.4 393.6,155.7 395.1,154.4 396.8,153.6 398.5,152.4 400.7,151.8 401.9,149.9 403.6,148.6 404.7,146.8 406.4,145.4 406.7,143.0 408.6,141.8 410.1,140.4 409.8,138.5 410.3,136.8"/><polyline points="405.3,170.5 406.7,172.0 408.6,172.2"/><polyline points="469.4,158.7 470.9,157.5 473.0,158.4 474.3,156.4 476.2,157.0"/><polyline points="440.7,215.3 442.0,217.1 441.4,219.4 442.4,221.2"/><polyline points="430.6,239.7 432.3,242.2"/><polyline points="439.9,243.9 441.6,246.4"/><polyline points="434.0,77.7 436.0,77.1 437.6,76.0 438.9,74.5 439.9,72.7 441.3,71.3 442.9,70.3 443.5,68.0 445.8,67.6 446.4,65.4 448.3,64.2"/><polyline points="434.8,85.3 436.0,83.8 436.8,81.7 439.0,81.1 440.4,79.1 442.4,77.7"/><polyline points="430.6,96.3 432.3,95.2 433.5,93.4 435.7,92.9"/><polyline points="415.4,38.9 417.4,37.9 419.5,37.4 421.7,38.2 423.8,38.0 425.2,39.6 427.3,39.6 428.7,41.0 430.6,41.4"/><polyline points="369.8,173.9 371.7,173.6 373.5,172.9 375.2,172.0 376.5,170.5 377.9,169.2 378.4,167.0 380.0,165.9 381.6,164.7 383.3,163.8"/><polyline points="391.7,155.3 393.3,154.1 395.2,153.9 396.8,152.8 398.5,152.0"/><polyline points="306.7,196.7 308.2,195.6 309.7,194.8 311.9,195.6 313.7,195.6 315.2,194.4 316.7,193.3 318.0,191.8 320.2,192.4 322.0,191.9 323.4,190.6 325.1,190.2 326.7,189.2"/><polyline points="290.0,200.0 292.1,200.6 294.0,199.3 296.1,199.5 297.9,197.9 300.0,198.3"/></g>
<g fill="#8a8a8a"><circle cx="291" cy="273" r="0.9"/><circle cx="296" cy="276" r="0.9"/><circle cx="299" cy="282" r="0.9"/><circle cx="303" cy="285" r="0.9"/><circle cx="307" cy="275" r="0.9"/><circle cx="311" cy="281" r="0.9"/><circle cx="315" cy="276" r="0.9"/><circle cx="288" cy="293" r="0.9"/><circle cx="298" cy="287" r="0.9"/><circle cx="452.55405405405406" cy="58.317567567567565" r="0.9"/><circle cx="454.2432432432432" cy="69.29729729729729" r="0.9"/><circle cx="447.48648648648646" cy="62.54054054054054" r="0.9"/><circle cx="440.72972972972974" cy="94.63513513513513" r="0.9"/><circle cx="437.35135135135135" cy="101.39189189189189" r="0.9"/><circle cx="430.5945945945946" cy="108.14864864864865" r="0.9"/><circle cx="428.06081081081084" cy="111.52702702702703" r="0.9"/><circle cx="423.8378378378378" cy="116.5945945945946" r="0.9"/><circle cx="420.4594594594595" cy="128.4189189189189" r="0.9"/><circle cx="450.8648648648649" cy="60.00675675675676" r="0.9"/><circle cx="444.1081081081081" cy="77.74324324324324" r="0.9"/></g>
<ellipse cx="331.5" cy="293" rx="7" ry="4" transform="rotate(-25 331.5 293)" fill="none" stroke="#8a8a8a" stroke-width="1" stroke-dasharray="1.5 1.5"/>
<text x="143.8" y="73.0" font-size="10" fill="#383838" text-anchor="middle" stroke="#383838" stroke-width="0.35">Sichuan</text>
<text x="127.2" y="148.8" font-size="10" fill="#383838" text-anchor="middle" stroke="#383838" stroke-width="0.35">Yunnan</text>
<text x="253.3" y="161.5" font-size="10" fill="#383838" text-anchor="middle" stroke="#383838" stroke-width="0.35">Guangxi</text>
<text x="327.4" y="160.9" font-size="10" fill="#383838" text-anchor="middle" stroke="#383838" stroke-width="0.35">Guangdong</text>
<text x="383.4" y="129.9" font-size="10" fill="#383838" text-anchor="middle" stroke="#383838" stroke-width="0.35">Fujian</text>
<text x="439.3" y="162.2" font-size="10" fill="#383838" text-anchor="middle" stroke="#383838" stroke-width="0.35">Taiwan</text>
<text x="199" y="205.9" font-size="10" fill="#383838" text-anchor="middle" stroke="#383838" stroke-width="0.35">Vietnam</text>
<text x="162" y="246.5" font-size="10" fill="#383838" text-anchor="middle" stroke="#383838" stroke-width="0.35">Laos</text>
<text x="297" y="249.1" font-size="10" fill="#383838" text-anchor="middle" stroke="#383838" stroke-width="0.35">Hainan</text>
<text x="144.7" y="311.5" font-size="10" fill="#383838" text-anchor="middle" stroke="#383838" stroke-width="0.35">Thailand</text>
<circle cx="182.2" cy="60.7" r="4.8" fill="#F2A531" stroke="#111" stroke-width="1.1"/>
<line x1="182.2" y1="60.7" x2="182.2" y2="55.900000000000006" stroke="#1a1a1a" stroke-width="1.1"/>
<circle cx="201.7" cy="88.7" r="4.8" fill="#8C2BD9" stroke="#111" stroke-width="1.1"/>
<path d="M201.7,88.7L201.7,83.9A4.8,4.8 0 1 1 197.8,91.5Z" fill="#1E9BDB" stroke="#1a1a1a" stroke-width="0.5"/>
<line x1="201.7" y1="88.7" x2="201.7" y2="83.9" stroke="#1a1a1a" stroke-width="1.1"/>
<circle cx="207.5" cy="89.5" r="4.8" fill="#1E9BDB" stroke="#111" stroke-width="1.1"/>
<line x1="207.5" y1="89.5" x2="207.5" y2="84.7" stroke="#1a1a1a" stroke-width="1.1"/>
<circle cx="162.4" cy="149" r="4.8" fill="#F2A531" stroke="#111" stroke-width="1.1"/>
<line x1="162.4" y1="149" x2="162.4" y2="144.2" stroke="#1a1a1a" stroke-width="1.1"/>
<circle cx="152" cy="163.6" r="4.8" fill="#F2A531" stroke="#111" stroke-width="1.1"/>
<line x1="152" y1="163.6" x2="152" y2="158.79999999999998" stroke="#1a1a1a" stroke-width="1.1"/>
<circle cx="152" cy="171.6" r="4.8" fill="#F2A531" stroke="#111" stroke-width="1.1"/>
<line x1="152" y1="171.6" x2="152" y2="166.79999999999998" stroke="#1a1a1a" stroke-width="1.1"/>
<circle cx="164" cy="170" r="4.8" fill="#F2A531" stroke="#111" stroke-width="1.1"/>
<line x1="164" y1="170" x2="164" y2="165.2" stroke="#1a1a1a" stroke-width="1.1"/>
<circle cx="164" cy="177" r="4.8" fill="#F2A531" stroke="#111" stroke-width="1.1"/>
<line x1="164" y1="177" x2="164" y2="172.2" stroke="#1a1a1a" stroke-width="1.1"/>
<circle cx="176.4" cy="181" r="4.8" fill="#F2A531" stroke="#111" stroke-width="1.1"/>
<line x1="176.4" y1="181" x2="176.4" y2="176.2" stroke="#1a1a1a" stroke-width="1.1"/>
<circle cx="180" cy="188" r="4.8" fill="#F2A531" stroke="#111" stroke-width="1.1"/>
<line x1="180" y1="188" x2="180" y2="183.2" stroke="#1a1a1a" stroke-width="1.1"/>
<circle cx="220.8" cy="182.5" r="4.8" fill="#F2A531" stroke="#111" stroke-width="1.1"/>
<line x1="220.8" y1="182.5" x2="220.8" y2="177.7" stroke="#1a1a1a" stroke-width="1.1"/>
<circle cx="227.5" cy="183.3" r="4.8" fill="#F2A531" stroke="#111" stroke-width="1.1"/>
<line x1="227.5" y1="183.3" x2="227.5" y2="178.5" stroke="#1a1a1a" stroke-width="1.1"/>
<circle cx="207.6" cy="211.6" r="4.8" fill="#F2A531" stroke="#111" stroke-width="1.1"/>
<line x1="207.6" y1="211.6" x2="207.6" y2="206.79999999999998" stroke="#1a1a1a" stroke-width="1.1"/>
<circle cx="244.2" cy="183.7" r="4.8" fill="#F2A531" stroke="#111" stroke-width="1.1"/>
<path d="M244.2,183.7L244.2,178.89999999999998A4.8,4.8 0 0 1 244.2,188.5Z" fill="#1E9BDB" stroke="#1a1a1a" stroke-width="0.5"/>
<line x1="244.2" y1="183.7" x2="244.2" y2="178.89999999999998" stroke="#1a1a1a" stroke-width="1.1"/>
<circle cx="257.5" cy="190" r="4.8" fill="#F2A531" stroke="#111" stroke-width="1.1"/>
<path d="M257.5,190L257.5,185.2A4.8,4.8 0 0 1 261.4,192.8Z" fill="#1E9BDB" stroke="#1a1a1a" stroke-width="0.5"/>
<line x1="257.5" y1="190" x2="257.5" y2="185.2" stroke="#1a1a1a" stroke-width="1.1"/>
<circle cx="269.2" cy="174.2" r="4.8" fill="#2CD42A" stroke="#111" stroke-width="1.1"/>
<line x1="269.2" y1="174.2" x2="269.2" y2="169.39999999999998" stroke="#1a1a1a" stroke-width="1.1"/>
<circle cx="280.8" cy="174.7" r="4.8" fill="#2CD42A" stroke="#111" stroke-width="1.1"/>
<path d="M280.8,174.7L280.8,169.89999999999998A4.8,4.8 0 0 1 280.8,179.5Z" fill="#1E9BDB" stroke="#1a1a1a" stroke-width="0.5"/>
<line x1="280.8" y1="174.7" x2="280.8" y2="169.89999999999998" stroke="#1a1a1a" stroke-width="1.1"/>
<circle cx="290" cy="176.7" r="4.8" fill="#2CD42A" stroke="#111" stroke-width="1.1"/>
<line x1="290" y1="176.7" x2="290" y2="171.89999999999998" stroke="#1a1a1a" stroke-width="1.1"/>
<circle cx="297.5" cy="180.8" r="4.8" fill="#F2A531" stroke="#111" stroke-width="1.1"/>
<path d="M297.5,180.8L297.5,176.0A4.8,4.8 0 1 1 294.7,184.7Z" fill="#2CD42A" stroke="#1a1a1a" stroke-width="0.5"/>
<line x1="297.5" y1="180.8" x2="297.5" y2="176.0" stroke="#1a1a1a" stroke-width="1.1"/>
<circle cx="300.8" cy="185" r="4.8" fill="#2CD42A" stroke="#111" stroke-width="1.1"/>
<line x1="300.8" y1="185" x2="300.8" y2="180.2" stroke="#1a1a1a" stroke-width="1.1"/>
<circle cx="247.5" cy="193" r="4.8" fill="#8C2BD9" stroke="#111" stroke-width="1.1"/>
<line x1="247.5" y1="193" x2="247.5" y2="188.2" stroke="#1a1a1a" stroke-width="1.1"/>
<circle cx="256.7" cy="201.7" r="4.8" fill="#8C2BD9" stroke="#111" stroke-width="1.1"/>
<line x1="256.7" y1="201.7" x2="256.7" y2="196.89999999999998" stroke="#1a1a1a" stroke-width="1.1"/>
<circle cx="262.5" cy="194.2" r="4.8" fill="#8C2BD9" stroke="#111" stroke-width="1.1"/>
<line x1="262.5" y1="194.2" x2="262.5" y2="189.39999999999998" stroke="#1a1a1a" stroke-width="1.1"/>
<circle cx="267.5" cy="192.5" r="4.8" fill="#8C2BD9" stroke="#111" stroke-width="1.1"/>
<line x1="267.5" y1="192.5" x2="267.5" y2="187.7" stroke="#1a1a1a" stroke-width="1.1"/>
<circle cx="270" cy="186.7" r="4.8" fill="#8C2BD9" stroke="#111" stroke-width="1.1"/>
<path d="M270,186.7L270,181.89999999999998A4.8,4.8 0 0 1 274.6,185.2Z" fill="#1E9BDB" stroke="#1a1a1a" stroke-width="0.5"/>
<line x1="270" y1="186.7" x2="270" y2="181.89999999999998" stroke="#1a1a1a" stroke-width="1.1"/>
<circle cx="274.2" cy="185" r="4.8" fill="#8C2BD9" stroke="#111" stroke-width="1.1"/>
<path d="M274.2,185L274.2,180.2A4.8,4.8 0 0 1 278.1,187.8Z" fill="#2CD42A" stroke="#1a1a1a" stroke-width="0.5"/>
<line x1="274.2" y1="185" x2="274.2" y2="180.2" stroke="#1a1a1a" stroke-width="1.1"/>
<circle cx="280" cy="197.5" r="4.8" fill="#8C2BD9" stroke="#111" stroke-width="1.1"/>
<path d="M280,197.5L280,192.7A4.8,4.8 0 0 1 284.6,199.0Z" fill="#1E9BDB" stroke="#1a1a1a" stroke-width="0.5"/>
<line x1="280" y1="197.5" x2="280" y2="192.7" stroke="#1a1a1a" stroke-width="1.1"/>
<circle cx="282.5" cy="204.2" r="4.8" fill="#8C2BD9" stroke="#111" stroke-width="1.1"/>
<path d="M282.5,204.2L282.5,199.39999999999998A4.8,4.8 0 0 1 287.3,204.2Z" fill="#1E9BDB" stroke="#1a1a1a" stroke-width="0.5"/>
<line x1="282.5" y1="204.2" x2="282.5" y2="199.39999999999998" stroke="#1a1a1a" stroke-width="1.1"/>
<circle cx="272.5" cy="202.5" r="4.8" fill="#8C2BD9" stroke="#111" stroke-width="1.1"/>
<line x1="272.5" y1="202.5" x2="272.5" y2="197.7" stroke="#1a1a1a" stroke-width="1.1"/>
<circle cx="296.7" cy="198.3" r="4.8" fill="#8C2BD9" stroke="#111" stroke-width="1.1"/>
<line x1="296.7" y1="198.3" x2="296.7" y2="193.5" stroke="#1a1a1a" stroke-width="1.1"/>
<circle cx="302" cy="185.5" r="4.8" fill="#2CD42A" stroke="#111" stroke-width="1.1"/>
<line x1="302" y1="185.5" x2="302" y2="180.7" stroke="#1a1a1a" stroke-width="1.1"/>
<circle cx="316.9" cy="187.6" r="4.8" fill="#F2A531" stroke="#111" stroke-width="1.1"/>
<path d="M316.9,187.6L316.9,182.79999999999998A4.8,4.8 0 0 1 321.5,186.1Z" fill="#2CD42A" stroke="#1a1a1a" stroke-width="0.5"/>
<line x1="316.9" y1="187.6" x2="316.9" y2="182.79999999999998" stroke="#1a1a1a" stroke-width="1.1"/>
<circle cx="314.8" cy="179.2" r="4.8" fill="#2CD42A" stroke="#111" stroke-width="1.1"/>
<line x1="314.8" y1="179.2" x2="314.8" y2="174.39999999999998" stroke="#1a1a1a" stroke-width="1.1"/>
<circle cx="322.2" cy="181.3" r="4.8" fill="#2CD42A" stroke="#111" stroke-width="1.1"/>
<line x1="322.2" y1="181.3" x2="322.2" y2="176.5" stroke="#1a1a1a" stroke-width="1.1"/>
<circle cx="314.8" cy="173.9" r="4.8" fill="#2CD42A" stroke="#111" stroke-width="1.1"/>
<line x1="314.8" y1="173.9" x2="314.8" y2="169.1" stroke="#1a1a1a" stroke-width="1.1"/>
<circle cx="324.3" cy="176" r="4.8" fill="#2CD42A" stroke="#111" stroke-width="1.1"/>
<path d="M324.3,176L324.3,171.2A4.8,4.8 0 0 1 327.1,179.9Z" fill="#1E9BDB" stroke="#1a1a1a" stroke-width="0.5"/>
<line x1="324.3" y1="176" x2="324.3" y2="171.2" stroke="#1a1a1a" stroke-width="1.1"/>
<circle cx="320" cy="170.7" r="4.8" fill="#F2A531" stroke="#111" stroke-width="1.1"/>
<path d="M320,170.7L320,165.89999999999998A4.8,4.8 0 0 1 322.8,174.6Z" fill="#1E9BDB" stroke="#1a1a1a" stroke-width="0.5"/>
<line x1="320" y1="170.7" x2="320" y2="165.89999999999998" stroke="#1a1a1a" stroke-width="1.1"/>
<circle cx="318" cy="184" r="4.8" fill="#2CD42A" stroke="#111" stroke-width="1.1"/>
<line x1="318" y1="184" x2="318" y2="179.2" stroke="#1a1a1a" stroke-width="1.1"/>
<circle cx="319" cy="176.5" r="4.8" fill="#2CD42A" stroke="#111" stroke-width="1.1"/>
<line x1="319" y1="176.5" x2="319" y2="171.7" stroke="#1a1a1a" stroke-width="1.1"/>
<circle cx="346.4" cy="184" r="4.8" fill="#2CD42A" stroke="#111" stroke-width="1.1"/>
<line x1="346.4" y1="184" x2="346.4" y2="179.2" stroke="#1a1a1a" stroke-width="1.1"/>
<circle cx="359" cy="180.2" r="4.8" fill="#2CD42A" stroke="#111" stroke-width="1.1"/>
<path d="M359,180.2L359,175.39999999999998A4.8,4.8 0 0 1 362.9,177.4Z" fill="#1E9BDB" stroke="#1a1a1a" stroke-width="0.5"/>
<line x1="359" y1="180.2" x2="359" y2="175.39999999999998" stroke="#1a1a1a" stroke-width="1.1"/>
<circle cx="351.7" cy="166" r="4.8" fill="#1E9BDB" stroke="#111" stroke-width="1.1"/>
<line x1="351.7" y1="166" x2="351.7" y2="161.2" stroke="#1a1a1a" stroke-width="1.1"/>
<circle cx="364.4" cy="170" r="4.8" fill="#1E9BDB" stroke="#111" stroke-width="1.1"/>
<line x1="364.4" y1="170" x2="364.4" y2="165.2" stroke="#1a1a1a" stroke-width="1.1"/>
<circle cx="375" cy="157" r="4.8" fill="#2CD42A" stroke="#111" stroke-width="1.1"/>
<line x1="375" y1="157" x2="375" y2="152.2" stroke="#1a1a1a" stroke-width="1.1"/>
<circle cx="379.2" cy="157" r="4.8" fill="#2CD42A" stroke="#111" stroke-width="1.1"/>
<line x1="379.2" y1="157" x2="379.2" y2="152.2" stroke="#1a1a1a" stroke-width="1.1"/>
<circle cx="382.3" cy="158" r="4.8" fill="#2CD42A" stroke="#111" stroke-width="1.1"/>
<path d="M382.3,158L382.3,153.2A4.8,4.8 0 0 1 383.8,162.6Z" fill="#1E9BDB" stroke="#1a1a1a" stroke-width="0.5"/>
<line x1="382.3" y1="158" x2="382.3" y2="153.2" stroke="#1a1a1a" stroke-width="1.1"/>
<circle cx="389.7" cy="149.6" r="4.8" fill="#2CD42A" stroke="#111" stroke-width="1.1"/>
<line x1="389.7" y1="149.6" x2="389.7" y2="144.79999999999998" stroke="#1a1a1a" stroke-width="1.1"/>
<circle cx="394" cy="151.7" r="4.8" fill="#2CD42A" stroke="#111" stroke-width="1.1"/>
<line x1="394" y1="151.7" x2="394" y2="146.89999999999998" stroke="#1a1a1a" stroke-width="1.1"/>
<circle cx="396" cy="148.6" r="4.8" fill="#2CD42A" stroke="#111" stroke-width="1.1"/>
<line x1="396" y1="148.6" x2="396" y2="143.79999999999998" stroke="#1a1a1a" stroke-width="1.1"/>
<circle cx="403.4" cy="131.7" r="4.8" fill="#2CD42A" stroke="#111" stroke-width="1.1"/>
<path d="M403.4,131.7L403.4,126.89999999999999A4.8,4.8 0 0 1 406.2,135.6Z" fill="#1E9BDB" stroke="#1a1a1a" stroke-width="0.5"/>
<line x1="403.4" y1="131.7" x2="403.4" y2="126.89999999999999" stroke="#1a1a1a" stroke-width="1.1"/>
<circle cx="404.5" cy="138" r="4.8" fill="#2CD42A" stroke="#111" stroke-width="1.1"/>
<line x1="404.5" y1="138" x2="404.5" y2="133.2" stroke="#1a1a1a" stroke-width="1.1"/>
<circle cx="427.3" cy="169.7" r="4.8" fill="#1E9BDB" stroke="#111" stroke-width="1.1"/>
<line x1="427.3" y1="169.7" x2="427.3" y2="164.89999999999998" stroke="#1a1a1a" stroke-width="1.1"/>
<circle cx="429.8" cy="184.4" r="4.8" fill="#F2A531" stroke="#111" stroke-width="1.1"/>
<line x1="429.8" y1="184.4" x2="429.8" y2="179.6" stroke="#1a1a1a" stroke-width="1.1"/>
<circle cx="137.2" cy="292.7" r="4.8" fill="#1E9BDB" stroke="#111" stroke-width="1.1"/>
<line x1="137.2" y1="292.7" x2="137.2" y2="287.9" stroke="#1a1a1a" stroke-width="1.1"/>
<circle cx="254.2" cy="238.3" r="4.8" fill="#8C2BD9" stroke="#111" stroke-width="1.1"/>
<line x1="254.2" y1="238.3" x2="254.2" y2="233.5" stroke="#1a1a1a" stroke-width="1.1"/>
<circle cx="255" cy="247" r="4.8" fill="#8C2BD9" stroke="#111" stroke-width="1.1"/>
<line x1="255" y1="247" x2="255" y2="242.2" stroke="#1a1a1a" stroke-width="1.1"/>
<circle cx="261" cy="255" r="4.8" fill="#8C2BD9" stroke="#111" stroke-width="1.1"/>
<line x1="261" y1="255" x2="261" y2="250.2" stroke="#1a1a1a" stroke-width="1.1"/>
<circle cx="268" cy="251" r="4.8" fill="#8C2BD9" stroke="#111" stroke-width="1.1"/>
<line x1="268" y1="251" x2="268" y2="246.2" stroke="#1a1a1a" stroke-width="1.1"/>
<circle cx="274.4" cy="246" r="4.8" fill="#8C2BD9" stroke="#111" stroke-width="1.1"/>
<line x1="274.4" y1="246" x2="274.4" y2="241.2" stroke="#1a1a1a" stroke-width="1.1"/>
<circle cx="279.2" cy="234.2" r="4.8" fill="#8C2BD9" stroke="#111" stroke-width="1.1"/>
<line x1="279.2" y1="234.2" x2="279.2" y2="229.39999999999998" stroke="#1a1a1a" stroke-width="1.1"/>
<circle cx="261.7" cy="235.8" r="4.8" fill="#2CD42A" stroke="#111" stroke-width="1.1"/>
<line x1="261.7" y1="235.8" x2="261.7" y2="231.0" stroke="#1a1a1a" stroke-width="1.1"/>
<circle cx="263.3" cy="228.3" r="4.8" fill="#8C2BD9" stroke="#111" stroke-width="1.1"/>
<line x1="263.3" y1="228.3" x2="263.3" y2="223.5" stroke="#1a1a1a" stroke-width="1.1"/>
<circle cx="271.7" cy="226.7" r="4.8" fill="#8C2BD9" stroke="#111" stroke-width="1.1"/>
<line x1="271.7" y1="226.7" x2="271.7" y2="221.89999999999998" stroke="#1a1a1a" stroke-width="1.1"/>
<circle cx="276.7" cy="227.5" r="4.8" fill="#8C2BD9" stroke="#111" stroke-width="1.1"/>
<line x1="276.7" y1="227.5" x2="276.7" y2="222.7" stroke="#1a1a1a" stroke-width="1.1"/>
<circle cx="271.7" cy="233.3" r="4.8" fill="#8C2BD9" stroke="#111" stroke-width="1.1"/>
<line x1="271.7" y1="233.3" x2="271.7" y2="228.5" stroke="#1a1a1a" stroke-width="1.1"/>
<circle cx="269" cy="238" r="4.8" fill="#8C2BD9" stroke="#111" stroke-width="1.1"/>
<line x1="269" y1="238" x2="269" y2="233.2" stroke="#1a1a1a" stroke-width="1.1"/>
</g>
<rect x="50.5" y="24.5" width="435" height="327.5" fill="none" stroke="#2a2a2a" stroke-width="2"/>
<line x1="50.5" y1="352" x2="50.5" y2="355.5" stroke="#333" stroke-width="1"/>
<text x="50.5" y="365.5" font-size="12" fill="#444" text-anchor="middle" >95</text>
<line x1="123.0" y1="352" x2="123.0" y2="355.5" stroke="#333" stroke-width="1"/>
<text x="123.0" y="365.5" font-size="12" fill="#444" text-anchor="middle" >100</text>
<line x1="195.5" y1="352" x2="195.5" y2="355.5" stroke="#333" stroke-width="1"/>
<text x="195.5" y="365.5" font-size="12" fill="#444" text-anchor="middle" >105</text>
<line x1="268.0" y1="352" x2="268.0" y2="355.5" stroke="#333" stroke-width="1"/>
<text x="268.0" y="365.5" font-size="12" fill="#444" text-anchor="middle" >110</text>
<line x1="340.5" y1="352" x2="340.5" y2="355.5" stroke="#333" stroke-width="1"/>
<text x="340.5" y="365.5" font-size="12" fill="#444" text-anchor="middle" >115</text>
<line x1="413.0" y1="352" x2="413.0" y2="355.5" stroke="#333" stroke-width="1"/>
<text x="413.0" y="365.5" font-size="12" fill="#444" text-anchor="middle" >120</text>
<line x1="485.5" y1="352" x2="485.5" y2="355.5" stroke="#333" stroke-width="1"/>
<text x="485.5" y="365.5" font-size="12" fill="#444" text-anchor="middle" >125</text>
<line x1="46.5" y1="306" x2="50.5" y2="306" stroke="#333" stroke-width="1"/>
<text x="45.5" y="310.3" font-size="12" fill="#444" text-anchor="end" >15</text>
<line x1="46.5" y1="227.5" x2="50.5" y2="227.5" stroke="#333" stroke-width="1"/>
<text x="45.5" y="231.8" font-size="12" fill="#444" text-anchor="end" >20</text>
<line x1="46.5" y1="148.5" x2="50.5" y2="148.5" stroke="#333" stroke-width="1"/>
<text x="45.5" y="152.8" font-size="12" fill="#444" text-anchor="end" >25</text>
<line x1="46.5" y1="70" x2="50.5" y2="70" stroke="#333" stroke-width="1"/>
<text x="45.5" y="74.3" font-size="12" fill="#444" text-anchor="end" >30</text>
<text x="268.5" y="378" font-size="15" fill="#333" text-anchor="middle" letter-spacing="0.8">longitude</text>
<text x="0" y="0" font-size="15" fill="#333" text-anchor="middle" letter-spacing="1.1" transform="translate(30 171) rotate(-90)">latitude</text>
<circle cx="55.5" cy="308.8" r="2.3" fill="#F2A531"/>
<text x="61" y="312.6" font-size="10.5" fill="#333" text-anchor="start" letter-spacing="0.6">YNG</text>
<circle cx="55.5" cy="320.5" r="2.3" fill="#5DBB4A"/>
<text x="61" y="324.3" font-size="10.5" fill="#333" text-anchor="start" letter-spacing="0.6">FGG1</text>
<circle cx="55.5" cy="332.2" r="2.3" fill="#2A9FDD"/>
<text x="61" y="336.0" font-size="10.5" fill="#333" text-anchor="start" letter-spacing="0.6">FGG2</text>
<circle cx="55.5" cy="343.9" r="2.3" fill="#8C2BD9"/>
<text x="61" y="347.7" font-size="10.5" fill="#333" text-anchor="start" letter-spacing="0.6">HNG</text>
<path d="M538.1,103.0 A187.0,187.0 0 0 1 649.5,25.2 L653.3,40.8 A171.0,171.0 0 0 0 551.4,111.9 Z" fill="#F7A814"/>
<path d="M649.5,25.2 A187.0,187.0 0 0 1 801.8,54.6 L792.6,67.6 A171.0,171.0 0 0 0 653.3,40.8 Z" fill="#69BA3A"/>
<path d="M801.8,54.6 A187.0,187.0 0 0 1 860.1,291.9 L845.9,284.6 A171.0,171.0 0 0 0 792.6,67.6 Z" fill="#17A0E4"/>
<path d="M860.1,291.9 A187.0,187.0 0 0 1 517.2,144.6 L532.3,149.9 A171.0,171.0 0 0 0 845.9,284.6 Z" fill="#9A22EE"/>
<path d="M551.8,110.3L544.3,105.1M553.6,107.8L545.8,102.2M555.4,105.3L547.5,99.5M557.3,102.8L549.1,96.6M559.2,100.4L551.6,94.4M561.1,98.0L553.2,91.5M563.1,95.6L557.7,91.0M565.1,93.3L558.6,87.6M567.2,91.0L559.6,84.0M569.3,88.8L562.6,82.4M571.4,86.5L564.2,79.4M573.6,84.4L568.4,79.1M575.8,82.2L569.9,76.0M578.1,80.1L572.8,74.3M580.4,78.1L574.5,71.4M582.7,76.1L576.9,69.2M585.1,74.1L580.6,68.6M587.5,72.2L582.7,66.1M589.9,70.3L585.1,63.9M592.4,68.5L586.4,60.2M594.9,66.7L589.4,58.7M597.5,64.9L593.2,58.6M600.0,63.2L594.7,55.0M602.6,61.6L598.7,55.2M605.3,59.9L600.5,52.1M607.9,58.4L604.2,51.9M610.6,56.9L607.2,50.7M613.3,55.4L608.6,46.5M616.1,54.0L612.6,47.1M618.8,52.6L615.4,45.6M621.6,51.3L617.2,41.8M624.4,50.0L620.4,40.8M627.2,48.8L624.2,41.4M630.1,47.6L626.3,38.0M633.0,46.5L629.8,38.2M635.9,45.5L632.7,36.6M638.8,44.5L636.3,37.1M641.7,43.5L638.6,33.7M644.7,42.6L642.0,33.6M647.6,41.7L644.8,31.7M650.6,41.0L648.1,31.1M653.6,40.2L651.7,32.4M656.6,39.5L654.8,31.4M659.6,38.9L658.1,31.4M662.6,38.3L661.3,30.9M665.7,37.8L664.5,30.6M668.7,37.3L667.6,29.3M671.8,36.9L670.6,27.8M674.8,36.5L674.1,29.5M677.9,36.2L677.1,26.9M681.0,36.0L680.4,27.8M684.1,35.8L683.6,27.7M687.1,35.6L686.8,25.8M690.2,35.5L690.1,26.9M693.3,35.5L693.3,27.4M696.4,35.5L696.5,26.8M699.5,35.6L699.8,26.1M702.6,35.7L702.9,28.5M705.6,35.9L706.4,25.5M708.7,36.2L709.3,29.1M711.8,36.5L712.8,26.9M714.8,36.8L716.1,27.0M717.9,37.2L718.9,30.3M720.9,37.7L722.5,28.1M724.0,38.2L725.4,30.1M727.0,38.8L728.8,30.0M730.0,39.4L731.5,32.6M733.0,40.1L734.7,33.1M736.0,40.9L737.9,33.5M739.0,41.6L741.7,31.7M742.0,42.5L744.1,35.1M744.9,43.4L747.8,34.2M747.8,44.3L751.1,34.6M750.8,45.3L754.2,35.6M753.7,46.4L756.5,38.7M756.5,47.5L759.6,39.8M759.4,48.7L762.8,40.5M762.2,49.9L766.1,41.0M765.0,51.1L768.1,44.4M767.8,52.4L772.0,43.8M770.6,53.8L775.0,45.1M773.3,55.2L778.0,46.4M776.1,56.7L779.5,50.4M778.7,58.2L783.9,49.2M781.4,59.7L785.2,53.5M784.0,61.3L788.4,54.4M786.6,63.0L791.6,55.3M789.2,64.7L794.9,56.2M791.8,66.4L796.5,59.7M794.3,68.2L800.3,59.9M796.7,70.1L802.1,62.9M799.2,71.9L804.2,65.6M801.6,73.9L806.7,67.6M804.0,75.8L808.9,70.0M806.3,77.8L811.1,72.4M808.6,79.9L813.7,74.3M810.9,82.0L817.3,75.1M813.1,84.1L820.4,76.6M815.3,86.3L820.7,80.9M817.5,88.5L822.6,83.5M819.6,90.7L827.3,83.6M821.6,93.0L828.3,87.1M823.7,95.3L830.1,89.9M825.7,97.7L831.7,92.7M827.6,100.1L834.7,94.4M829.5,102.5L837.3,96.5M831.4,105.0L838.3,99.9M833.2,107.5L840.1,102.6M834.9,110.0L840.9,105.9M836.7,112.6L845.2,106.9M838.3,115.1L844.3,111.3M840.0,117.8L847.4,113.2M841.5,120.4L850.1,115.4M843.1,123.1L849.6,119.4M844.6,125.8L853.0,121.3M846.0,128.5L855.2,123.8M847.4,131.3L855.6,127.2M848.7,134.0L857.5,129.9M850.0,136.8L856.7,133.8M851.2,139.7L859.1,136.3M852.4,142.5L859.4,139.7M853.5,145.4L862.8,141.8M854.6,148.3L862.2,145.5M855.7,151.2L863.8,148.4M856.6,154.1L866.6,150.9M857.6,157.0L867.1,154.1M858.4,160.0L868.5,157.1M859.3,163.0L867.6,160.8M860.0,166.0L868.5,163.9M860.7,169.0L870.0,166.8M861.4,172.0L869.9,170.2M862.0,175.0L869.9,173.5M862.5,178.0L870.8,176.6M863.0,181.1L870.5,179.9M863.5,184.1L871.7,183.0M863.9,187.2L874.2,186.0M864.2,190.2L874.5,189.2M864.5,193.3L873.6,192.6M864.7,196.4L873.4,195.9M864.8,199.5L873.0,199.1M864.9,202.6L872.3,202.4M865.0,205.6L872.9,205.6M865.0,208.7L874.7,208.8M864.9,211.8L875.0,212.1M864.8,214.9L873.1,215.3M864.6,218.0L874.4,218.6M864.4,221.0L874.1,221.8M864.1,224.1L873.5,225.0M863.8,227.2L873.1,228.3M863.4,230.2L873.0,231.5M863.0,233.3L871.1,234.5M862.5,236.3L871.8,237.9M861.9,239.4L869.8,240.9M861.3,242.4L869.8,244.2M860.6,245.4L870.1,247.6M859.9,248.4L869.1,250.7M859.2,251.4L866.9,253.5M858.3,254.3L868.2,257.2M857.5,257.3L866.3,260.0M856.5,260.2L865.1,263.0M855.5,263.2L862.2,265.5M854.5,266.1L862.9,269.1M853.4,268.9L860.8,271.8M852.3,271.8L860.9,275.3M851.1,274.7L859.0,278.1M849.8,277.5L858.8,281.5M848.6,280.3L856.9,284.2M847.2,283.1L856.0,287.4M845.8,285.8L853.1,289.6M844.4,288.5L852.5,292.9M842.9,291.2L851.2,295.9M841.4,293.9L849.9,298.9M839.8,296.5L846.8,300.8M838.1,299.2L846.5,304.5M836.5,301.7L844.8,307.3M834.7,304.3L842.5,309.6M833.0,306.8L841.4,312.9M831.1,309.3L839.4,315.5M829.3,311.8L836.3,317.2M827.4,314.2L834.3,319.7M825.4,316.6L831.3,321.4M823.4,318.9L831.0,325.4M821.4,321.3L829.1,328.1M819.3,323.5L825.7,329.4M817.2,325.8L824.0,332.3M815.1,328.0L821.8,334.7M812.9,330.1L819.5,337.0M810.6,332.3L815.8,337.8M808.4,334.4L814.9,341.6M806.0,336.4L812.0,343.2M803.7,338.4L809.7,345.6M801.3,340.4L806.7,347.0M798.9,342.3L804.6,349.5M796.5,344.2L802.3,351.9M794.0,346.0L799.4,353.5M791.5,347.8L796.9,355.6M788.9,349.5L792.9,355.4M786.3,351.2L790.4,357.6M783.7,352.8L788.2,360.1M781.1,354.4L785.8,362.4M778.4,356.0L782.3,362.7M775.7,357.5L780.2,365.7M773.0,358.9L777.3,367.1M770.3,360.4L773.5,366.7M767.5,361.7L771.2,369.5M764.7,363.0L768.0,370.1M761.9,364.3L764.8,370.9M759.1,365.5L761.9,372.4M756.2,366.6L759.2,374.2M753.3,367.7L756.0,374.9M750.4,368.8L753.0,376.0M747.5,369.8L749.7,376.5M744.6,370.7L747.1,379.0M741.6,371.6L744.0,379.6M738.7,372.4L741.1,381.3M735.7,373.2L737.9,382.0M732.7,374.0L734.5,381.6M729.7,374.6L731.8,384.6M726.6,375.3L728.0,382.1M723.6,375.8L725.1,384.1M720.6,376.3L721.8,384.2M717.5,376.8L718.7,385.2M714.5,377.2L715.4,384.6M711.4,377.6L712.4,387.4M708.3,377.9L709.1,386.1M705.3,378.1L705.8,385.2M702.2,378.3L702.7,387.4M699.1,378.4L699.4,385.7M696.0,378.5L696.2,387.4M692.9,378.5L692.9,386.7M689.9,378.5L689.7,387.5M686.8,378.4L686.4,388.7M683.7,378.2L683.1,388.1M680.6,378.0L680.0,386.5M677.6,377.8L676.6,387.6M674.5,377.4L673.5,386.6M671.4,377.1L670.4,385.3M668.4,376.6L667.3,384.1M665.3,376.2L663.8,385.1M662.3,375.6L660.7,384.5M659.3,375.0L657.2,385.2M656.2,374.4L654.0,384.5M653.2,373.7L651.1,382.6M650.3,373.0L648.2,380.9M647.3,372.2L644.6,381.9M644.3,371.3L642.3,378.0M641.4,370.4L639.1,377.4M638.4,369.4L635.6,377.9M635.5,368.4L632.4,377.0M632.6,367.3L630.0,374.3M629.8,366.2L626.3,374.8M626.9,365.0L623.0,374.4M624.1,363.8L620.7,371.4M621.3,362.6L617.7,370.3M618.5,361.2L615.1,368.2M615.7,359.9L612.1,367.0M613.0,358.4L608.1,367.6M610.3,357.0L606.2,364.2M607.6,355.4L602.4,364.4M605.0,353.9L599.7,362.6M602.3,352.3L597.5,360.0M599.7,350.6L595.4,357.2M597.2,348.9L591.3,357.5M594.6,347.1L589.6,354.3M592.1,345.3L587.1,352.2M589.7,343.5L584.7,349.9M587.2,341.6L580.7,349.8M584.8,339.7L579.3,346.4M582.5,337.7L577.3,343.8M580.1,335.7L574.4,342.2M577.8,333.6L572.8,339.1M575.6,331.5L569.3,338.2M573.3,329.4L567.4,335.5M571.2,327.2L565.4,332.8M569.0,325.0L562.0,331.7M566.9,322.7L559.6,329.4M564.9,320.4L559.6,325.1M562.8,318.1L556.1,323.8M560.9,315.7L554.7,320.8M558.9,313.3L550.9,319.7M557.0,310.9L549.3,316.8M555.2,308.4L548.9,313.1M553.4,305.9L546.9,310.5M551.6,303.4L545.4,307.6M549.9,300.8L541.2,306.5M548.3,298.2L541.5,302.5M546.7,295.6L538.8,300.3M545.1,292.9L537.6,297.3M543.6,290.3L535.5,294.8M542.1,287.6L534.0,291.8M540.7,284.8L532.1,289.2M539.3,282.1L532.6,285.3M538.0,279.3L529.2,283.3M536.7,276.5L529.3,279.7M535.5,273.6L527.3,277.1M534.3,270.8L526.7,273.8M533.2,267.9L525.7,270.8M532.1,265.0L523.8,268.0M531.1,262.1L522.9,264.9M530.1,259.2L522.3,261.7M529.2,256.2L520.0,259.0M528.4,253.3L519.6,255.7M527.6,250.3L520.7,252.1M526.8,247.3L519.1,249.2M526.1,244.3L517.7,246.2M525.5,241.3L515.5,243.3M524.9,238.3L514.9,240.1M524.3,235.2L515.6,236.7M523.9,232.2L516.9,233.2M523.4,229.1L513.8,230.4M523.1,226.1L514.6,227.0M522.7,223.0L513.8,223.8M522.5,219.9L513.0,220.6M522.3,216.9L513.1,217.4M522.1,213.8L513.5,214.1M522.0,210.7L511.9,210.9M522.0,207.6L513.7,207.6M522.0,204.5L513.6,204.4M522.1,201.4L512.1,201.1M522.2,198.4L514.5,198.0M522.4,195.3L514.4,194.7M522.6,192.2L512.8,191.4M522.9,189.1L515.7,188.4M523.3,186.1L513.4,184.9M523.7,183.0L514.3,181.7M524.1,180.0L515.7,178.6M524.7,176.9L516.8,175.5M525.2,173.9L515.7,172.0M525.8,170.9L515.9,168.7M526.5,167.9L519.2,166.2M527.3,164.9L518.8,162.8M528.0,161.9L519.4,159.6M528.9,158.9L520.5,156.5M529.8,156.0L522.0,153.6M530.7,153.1L523.6,150.7M531.7,150.1L523.2,147.1" stroke="#000" stroke-opacity="0.42" stroke-width="1.9" stroke-dasharray="1.5 0.45"/>
<path d="M539.6,130.3L533.3,127.1M541.6,126.3L535.5,123.0M543.8,122.3L537.7,118.9M546.1,118.4L540.1,114.8M548.4,114.6L542.5,110.8" stroke="#666" stroke-width="1.3" stroke-dasharray="1.2 0.6"/>
<path d="M762.4,112.1L793.4,69.4M767.1,109.4L795.8,71.3M779.3,97.3L798.3,73.1M773.3,108.7L800.7,75.0M778.1,106.6L803.0,77.0M776.2,112.3L805.3,79.0M788.0,102.7L807.6,81.0M792.8,101.2L809.9,83.1M788.6,109.3L812.1,85.2M800.3,101.1L814.2,87.3M809.3,96.3L816.4,89.5M787.7,120.1L818.5,91.7M802.8,109.7L820.5,94.0M803.5,112.6L822.5,96.3M808.5,111.8L824.5,98.6M812.4,112.2L826.4,101.0M821.4,108.7L828.3,103.4M819.0,114.1L830.1,105.9M808.7,124.9L831.9,108.3M814.7,123.9L833.7,110.8M820.3,123.3L835.4,113.4M809.2,133.6L837.1,115.9M817.1,131.7L838.7,118.5M823.7,130.8L840.2,121.2M813.7,139.5L841.8,123.8M809.3,144.7L843.2,126.5M816.3,143.8L844.7,129.2M810.1,149.6L846.0,131.9M810.0,152.3L847.4,134.7M812.7,153.6L848.6,137.5M814.7,155.3L849.9,140.3M811.5,159.1L851.0,143.1M822.1,157.5L852.2,145.9M833.2,156.1L853.2,148.8M841.4,156.1L854.2,151.7M845.6,157.7L855.2,154.6M849.8,159.4L856.1,157.5M854.2,161.2L857.0,160.4M855.9,163.9L857.8,163.4M829.0,173.6L858.6,166.3M849.4,171.5L859.3,169.3M843.1,175.8L859.9,172.3M843.4,178.5L860.5,175.3M845.0,181.0L861.1,178.3M848.1,183.4L861.5,181.3M845.5,186.5L862.0,184.3M831.4,191.0L862.4,187.4M844.1,192.2L862.7,190.4M823.7,196.6L863.0,193.4M828.0,198.7L863.2,196.5M804.5,202.1L863.3,199.5M826.2,203.6L863.4,202.6M818.7,206.0L863.5,205.7M825.9,208.3L863.5,208.7M833.2,210.9L863.4,211.8M841.0,213.8L863.3,214.8M836.8,216.2L863.2,217.9M821.7,217.5L862.9,220.9M839.0,221.6L862.7,224.0M832.1,223.4L862.3,227.0M846.7,228.0L861.9,230.0M830.6,228.3L861.5,233.1M839.0,232.2L861.0,236.1M836.1,234.4L860.4,239.1M843.6,238.6L859.8,242.1M840.7,240.8L859.2,245.1M842.3,244.0L858.5,248.0M833.4,244.5L857.7,251.0M841.0,249.4L856.9,253.9M833.4,249.9L856.0,256.9M847.2,257.2L855.1,259.8M818.7,250.4L854.1,262.7M837.5,259.8L853.1,265.5M828.5,259.3L852.0,268.4M821.4,259.2L850.9,271.2M824.5,263.3L849.7,274.1M826.7,267.0L848.5,276.9M823.9,268.6L847.2,279.6M810.3,264.8L845.9,282.4M553.3,176.8L527.3,171.2M562.7,176.4L528.0,168.2M552.2,171.2L528.7,165.3M556.1,169.6L529.5,162.3M547.2,164.3L530.3,159.4M543.2,160.2L531.2,156.4M542.2,156.9L532.1,153.5M547.1,155.5L533.1,150.6M561.9,190.8L524.8,186.3M563.5,188.7L525.2,183.2M549.5,184.0L525.6,180.2M546.1,180.8L526.1,177.2M543.2,177.4L526.7,174.2M560.7,212.3L523.6,213.7M537.1,210.4L523.5,210.7M533.5,207.6L523.5,207.6M539.8,204.8L523.5,204.6M538.4,202.0L523.6,201.5M533.7,198.9L523.7,198.4M549.7,197.2L523.9,195.4M552.3,194.8L524.1,192.3M557.4,192.8L524.4,189.3M559.0,242.1L529.0,249.9M538.0,244.6L528.3,247.0M540.6,241.1L527.6,244.0M550.1,236.3L526.9,241.0M550.8,233.5L526.3,238.0M540.7,232.5L525.8,235.0M547.6,228.7L525.3,232.0M551.8,225.4L524.9,228.9M536.0,224.6L524.6,225.9M549.3,220.5L524.2,222.9M536.7,218.9L524.0,219.8M556.5,214.9L523.8,216.8M570.7,264.1L539.3,278.6M561.5,265.5L538.1,275.9M557.9,264.2L536.9,273.1M553.1,263.3L535.7,270.2M544.3,263.7L534.6,267.4M542.9,261.1L533.5,264.5M553.8,254.4L532.5,261.6M558.3,250.2L531.6,258.7M547.9,250.6L530.7,255.8M554.3,246.0L529.8,252.9M586.0,271.9L547.9,294.8M561.8,283.3L546.4,292.2M562.5,279.8L544.9,289.5M558.3,278.9L543.4,286.8M554.2,277.9L542.0,284.1M567.7,268.3L540.6,281.4M580.8,306.3L566.0,319.4M579.3,304.1L564.0,317.1M593.3,289.2L562.0,314.8M593.5,286.0L560.1,312.4M566.5,303.7L558.2,310.0M573.0,295.4L556.4,307.5M578.5,288.2L554.6,305.1M571.0,290.2L552.9,302.5M560.2,294.1L551.2,300.0M572.8,282.8L549.5,297.4M606.3,309.6L583.4,336.5M603.6,309.0L581.1,334.5M602.3,306.8L578.8,332.5M590.9,315.3L576.6,330.4M586.8,315.7L574.4,328.3M579.4,319.1L572.2,326.1M588.3,306.7L570.1,323.9M597.9,294.4L568.0,321.7M621.5,321.7L603.1,351.0M622.3,316.0L600.6,349.3M618.4,317.6L598.0,347.6M602.5,336.0L595.5,345.9M606.2,326.1L593.0,344.1M600.7,328.9L590.6,342.3M611.2,311.2L588.1,340.4M601.7,319.0L585.8,338.5M634.3,318.3L613.7,357.1M632.8,316.3L611.0,355.6M625.6,324.4L608.4,354.1M628.8,314.3L605.7,352.6M648.9,338.5L638.9,368.0M646.0,339.3L636.0,367.0M642.9,340.2L633.2,365.9M640.2,340.2L630.3,364.8M636.9,341.3L627.5,363.7M637.4,333.6L624.7,362.5M636.0,330.9L621.9,361.2M628.7,340.2L619.2,359.9M630.9,329.9L616.4,358.5M673.1,329.8L665.6,374.7M668.3,343.1L662.6,374.2M665.6,343.9L659.6,373.6M660.9,353.4L656.6,372.9M656.1,361.8L653.6,372.3M659.9,335.9L650.6,371.5M659.3,329.1L647.7,370.7M651.8,346.2L644.7,369.9M650.6,341.5L641.8,369.0M695.3,329.7L696.0,377.0M693.0,347.7L693.0,377.0M690.5,347.6L689.9,377.0M687.9,349.5L686.8,376.9M684.5,364.9L683.8,376.7M682.4,354.8L680.7,376.5M678.8,364.8L677.7,376.3M678.9,337.5L674.7,376.0M675.8,343.6L671.6,375.6M674.3,336.9L668.6,375.2M706.0,326.5L711.3,376.1M705.2,341.4L708.2,376.4M702.8,342.9L705.2,376.6M700.6,347.7L702.1,376.8M697.8,337.3L699.1,376.9M738.9,329.0L752.8,366.3M737.4,331.9L749.9,367.4M738.2,341.7L747.0,368.4M733.8,336.1L744.1,369.3M735.0,349.1L741.2,370.2M731.4,346.0L738.3,371.0M727.6,341.6L735.3,371.8M724.7,340.1L732.3,372.5M721.0,334.5L729.4,373.2M719.9,341.0L726.4,373.8M718.3,346.1L723.4,374.4M715.7,345.8L720.3,374.9M713.5,348.1L717.3,375.3M709.2,334.4L714.3,375.7M768.2,318.6L788.1,348.3M765.3,318.6L785.5,349.9M767.5,326.6L782.9,351.6M760.1,319.1L780.3,353.2M759.4,322.7L777.7,354.7M757.4,324.0L775.0,356.2M761.9,337.7L772.3,357.6M755.6,331.0L769.6,359.0M758.9,343.6L766.9,360.4M751.9,334.9L764.1,361.7M748.7,333.8L761.3,362.9M749.7,342.9L758.5,364.1M738.9,322.5L755.7,365.2M773.9,306.4L800.4,339.2M781.9,320.5L798.0,341.1M780.0,322.2L795.6,343.0M769.3,311.8L793.1,344.8M760.8,303.7L790.6,346.5M795.8,288.9L826.2,313.3M796.6,292.7L824.3,315.6M800.7,299.4L822.3,318.0M797.8,300.2L820.3,320.3M799.8,305.5L818.2,322.5M801.4,310.6L816.1,324.7M790.8,303.8L814.0,326.9M788.3,304.8L811.8,329.1M787.7,307.7L809.6,331.2M777.0,299.6L807.4,333.2M779.6,306.0L805.1,335.3M775.3,304.5L802.7,337.3M801.7,263.0L844.5,285.1M810.0,270.0L843.1,287.8M805.8,270.3L841.6,290.5M808.8,274.7L840.1,293.1M807.8,277.0L838.5,295.8M800.9,275.4L836.9,298.4M802.3,279.1L835.2,300.9M799.9,280.3L833.5,303.4M813.1,292.6L831.7,305.9M797.4,284.2L829.9,308.4M799.3,288.6L828.1,310.9M754.5,119.7L790.9,67.7M746.7,114.1L778.0,59.5M749.8,112.8L780.6,61.0M758.2,102.9L783.2,62.6M761.9,101.2L785.8,64.3M755.6,114.7L788.4,65.9M737.2,111.7L764.4,52.5M745.3,99.3L767.2,53.8M750.4,93.9L769.9,55.1M742.9,113.0L772.6,56.5M746.6,110.2L775.3,58.0M734.5,84.4L747.4,45.8M733.5,94.0L750.3,46.8M727.7,115.8L753.1,47.8M728.7,118.0L756.0,48.9M737.8,100.6L758.8,50.0M728.4,127.3L761.6,51.2M720.6,108.5L738.6,43.1M722.7,107.9L741.5,43.9M717.8,129.7L744.5,44.8M710.8,120.4L726.7,40.3M717.1,98.8L729.7,40.9M719.7,96.2L732.7,41.6M720.0,103.5L735.6,42.3M700.3,130.6L708.6,37.7M702.9,119.7L711.6,38.0M706.8,100.8L714.6,38.3M708.0,106.4L717.7,38.7M710.5,102.3L720.7,39.2M708.9,121.8L723.7,39.7M693.4,112.1L693.3,37.0M695.3,102.5L696.4,37.0M697.6,89.7L699.4,37.1M699.0,103.5L702.5,37.2M700.9,102.7L705.5,37.4M688.2,134.7L681.1,37.5M688.9,122.9L684.1,37.3M690.2,118.4L687.2,37.1M691.9,124.0L690.3,37.0M683.9,132.1L672.0,38.4M683.8,118.7L675.0,38.0M685.5,119.6L678.0,37.7M674.9,129.4L653.9,41.7M673.7,117.0L656.9,41.0M677.1,125.7L659.9,40.4M675.5,108.7L662.9,39.8M679.6,122.6L665.9,39.3M680.0,114.7L668.9,38.8M639.0,169.8L553.1,111.2M639.7,168.8L554.8,108.7M640.4,167.9L556.6,106.2M641.1,166.9L558.5,103.7M641.8,166.0L560.3,101.3M642.5,165.0L562.3,98.9M643.3,164.1L564.2,96.6M644.1,163.2L566.2,94.3M644.9,162.4L568.3,92.0M645.7,161.5L570.4,89.8M649.0,163.1L572.5,87.6M651.3,163.8L574.7,85.4M648.4,159.1L576.9,83.3M653.2,162.7L579.1,81.3M650.0,157.4L581.4,79.2M652.8,158.9L583.7,77.2M651.8,155.9L586.0,75.3M652.7,155.1L588.4,73.4M653.6,154.4L590.8,71.5M655.1,154.4L593.3,69.7M655.6,153.0L595.8,67.9M656.5,152.3L598.3,66.2M657.7,151.9L600.8,64.5M658.5,151.0L603.4,62.8M659.5,150.4L606.0,61.2M660.6,149.8L608.7,59.7M661.6,149.2L611.3,58.2M662.6,148.7L614.0,56.7M663.7,148.1L616.7,55.3M664.8,147.6L619.5,54.0M665.8,147.1L622.2,52.7M666.9,146.6L625.0,51.4M668.0,146.1L627.8,50.2M669.1,145.7L630.7,49.0M670.2,145.2L633.5,47.9M671.3,144.8L636.4,46.9M672.4,144.4L639.3,45.9M673.6,144.1L642.2,44.9M675.7,147.2L645.1,44.0M675.9,143.5L648.0,43.2M680.5,156.8L651.0,42.4M666.7,193.6L541.4,131.1M667.0,192.9L543.4,127.2M667.4,192.2L545.5,123.3M667.8,191.5L547.8,119.4M668.2,190.9L550.1,115.7" stroke="#9a9a9a" stroke-width="0.55" stroke-dasharray="0.9 1.4" fill="none"/>
<path d="M644.1,173.3L640.6,170.9M644.6,172.3L641.3,170.0M645.2,171.4L642.0,169.0M644.6,172.3A60.0,60.0 0 0 1 645.2,171.4M644.9,171.9L644.9,171.9M645.8,170.6L642.7,168.1M644.9,171.9A60.0,60.0 0 0 1 645.8,170.6M645.4,171.2L645.4,171.2M646.5,169.7L643.4,167.2M645.4,171.2A60.0,60.0 0 0 1 646.5,169.7M645.9,170.4L645.9,170.4M647.2,168.9L644.1,166.3M647.9,168.0L644.8,165.4M647.2,168.9A60.0,60.0 0 0 1 647.9,168.0M647.5,168.4L647.5,168.4M645.9,170.4A60.0,60.0 0 0 1 647.5,168.4M646.8,169.5L646.7,169.4M644.1,173.3A59.8,59.8 0 0 1 646.8,169.5M649.5,174.4L645.4,171.4M649.8,168.3L645.6,164.6M650.5,167.5L646.4,163.7M649.8,168.3A58.4,58.4 0 0 1 650.5,167.5M652.8,170.3L650.1,167.9M649.5,174.4A54.8,54.8 0 0 1 652.8,170.3M654.9,175.4L651.1,172.3M655.7,171.0L647.1,162.9M656.4,170.4L650.4,164.5M655.7,171.0A52.2,52.2 0 0 1 656.4,170.4M657.7,172.3L656.0,170.7M654.9,175.4A49.8,49.8 0 0 1 657.7,172.3M659.4,176.6L656.3,173.9M658.2,170.9L652.7,165.2M658.9,170.3L649.7,160.6M658.2,170.9A50.5,50.5 0 0 1 658.9,170.3M660.2,172.3L658.5,170.6M661.1,171.4L654.5,164.2M660.2,172.3A48.1,48.1 0 0 1 661.1,171.4M662.3,173.6L660.7,171.9M659.4,176.6A45.7,45.7 0 0 1 662.3,173.6M663.6,177.8L660.8,175.1M660.2,169.1L651.3,158.9M660.9,168.5L654.1,160.4M660.2,169.1A50.5,50.5 0 0 1 660.9,168.5M662.7,171.2L660.5,168.8M655.6,160.5L653.0,157.4M656.4,159.8L653.9,156.7M657.3,159.2L654.9,156.0M656.4,159.8A60.0,60.0 0 0 1 657.3,159.2M656.8,159.5L656.8,159.5M655.6,160.5A60.0,60.0 0 0 1 656.8,159.5M656.6,160.5L656.2,160.0M658.1,158.5L656.3,156.0M659.0,157.9L656.7,154.6M659.9,157.3L657.7,154.0M659.0,157.9A60.0,60.0 0 0 1 659.9,157.3M659.5,157.6L659.5,157.6M660.8,156.7L658.8,153.6M659.5,157.6A60.0,60.0 0 0 1 660.8,156.7M660.1,157.1L660.1,157.1M658.1,158.5A60.0,60.0 0 0 1 660.1,157.1M659.5,158.4L659.1,157.8M656.6,160.5A59.3,59.3 0 0 1 659.5,158.4M660.8,163.2L658.1,159.4M661.7,156.1L659.6,152.7M662.6,155.6L660.6,152.1M661.7,156.1A60.0,60.0 0 0 1 662.6,155.6M662.2,155.8L662.2,155.8M663.6,155.0L661.6,151.5M662.2,155.8A60.0,60.0 0 0 1 663.6,155.0M662.9,155.4L662.9,155.4M664.5,154.5L662.6,151.0M662.9,155.4A60.0,60.0 0 0 1 664.5,154.5M663.7,154.9L663.7,154.9M665.4,154.0L663.6,150.4M663.7,154.9A60.0,60.0 0 0 1 665.4,154.0M667.1,159.1L664.6,154.4M660.8,163.2A54.7,54.7 0 0 1 667.1,159.1M666.1,164.4L663.9,161.0M666.4,153.5L664.6,149.9M667.4,153.0L665.6,149.4M666.4,153.5A60.0,60.0 0 0 1 667.4,153.0M667.4,154.3L666.9,153.2M668.9,153.7L666.7,148.9M667.4,154.3A58.8,58.8 0 0 1 668.9,153.7M670.6,159.1L668.1,154.0M669.7,153.0L667.7,148.4M670.7,152.6L668.8,148.0M669.7,153.0A59.0,59.0 0 0 1 670.7,152.6M671.6,155.9L670.2,152.8M672.9,155.3L669.8,147.5M671.6,155.9A55.6,55.6 0 0 1 672.9,155.3M673.2,157.9L672.3,155.6M670.6,159.1A53.1,53.1 0 0 1 673.2,157.9M672.9,160.7L671.9,158.5M666.1,164.4A50.6,50.6 0 0 1 672.9,160.7M671.0,165.4L669.4,162.5M662.7,171.2A47.2,47.2 0 0 1 671.0,165.4M669.8,172.6L666.7,168.1M663.6,177.8A41.8,41.8 0 0 1 669.8,172.6M669.0,177.9L666.6,175.1M676.0,160.6L670.9,147.1M675.3,155.9L672.0,146.7M676.2,155.6L673.1,146.3M675.3,155.9A54.2,54.2 0 0 1 676.2,155.6M677.3,160.2L675.7,155.8M676.0,160.6A49.6,49.6 0 0 1 677.3,160.2M677.8,163.7L676.6,160.4M678.2,158.6L674.2,146.0M677.6,153.5L676.3,149.2M678.6,153.2L676.4,145.4M677.6,153.5A55.8,55.8 0 0 1 678.6,153.2M679.5,158.2L678.1,153.3M678.2,158.6A50.7,50.7 0 0 1 679.5,158.2M680.2,162.9L678.8,158.4M677.8,163.7A46.1,46.1 0 0 1 680.2,162.9M680.4,167.5L679.0,163.3M683.1,166.7L681.0,158.8M680.4,167.5A41.6,41.6 0 0 1 683.1,166.7M682.8,170.5L681.7,167.1M669.0,177.9A38.0,38.0 0 0 1 682.8,170.5M676.4,175.3L674.6,171.8M676.4,175.3A36.0,36.0 0 0 1 686.7,171.6M693.5,207.0L681.4,173.1" stroke="#E8A530" stroke-width="1.0" fill="none"/>
<path d="M738.2,143.1L753.4,121.4M764.2,174.1L769.7,171.6M738.2,143.1A78.0,78.0 0 0 1 764.2,174.1M734.3,135.8L745.7,115.8M744.1,122.3L748.7,114.5M745.6,123.2L757.1,104.6M744.1,122.3A98.6,98.6 0 0 1 745.6,123.2M740.3,130.1L744.8,122.8M746.1,125.7L760.9,102.9M747.6,126.6L754.5,116.3M746.1,125.7A96.9,96.9 0 0 1 747.6,126.6M743.1,131.9L746.8,126.1M740.3,130.1A90.0,90.0 0 0 1 743.1,131.9M737.5,137.7L741.7,131.0M734.3,135.8A82.1,82.1 0 0 1 737.5,137.7M731.9,143.3L735.9,136.7M736.1,146.0L738.2,143.1M731.9,143.3A74.4,74.4 0 0 1 736.1,146.0M728.9,129.9L736.4,113.6M733.7,123.5L744.4,101.2M735.2,124.2L749.5,95.7M733.7,123.5A92.7,92.7 0 0 1 735.2,124.2M730.9,130.9L734.4,123.9M728.9,129.9A84.8,84.8 0 0 1 730.9,130.9M726.1,138.5L729.9,130.4M731.2,135.3L742.0,114.8M732.5,136.0L745.7,112.0M731.2,135.3A81.1,81.1 0 0 1 732.5,136.0M729.4,140.2L731.9,135.6M726.1,138.5A75.8,75.8 0 0 1 729.4,140.2M725.5,143.8L727.7,139.3M730.1,146.4L731.9,143.3M725.5,143.8A70.8,70.8 0 0 1 730.1,146.4M723.9,115.9L733.8,86.3M725.6,116.5L732.8,95.9M723.9,115.9A96.0,96.0 0 0 1 725.6,116.5M721.9,124.4L724.8,116.2M724.1,125.2L727.0,117.7M721.9,124.4A87.3,87.3 0 0 1 724.1,125.2M720.1,132.9L723.0,124.8M724.9,127.6L727.9,119.8M726.3,128.2L737.0,102.4M724.9,127.6A85.3,85.3 0 0 1 726.3,128.2M723.1,134.0L725.6,127.9M720.1,132.9A78.8,78.8 0 0 1 723.1,134.0M720.0,137.7L721.6,133.4M723.2,139.0L727.6,129.1M720.0,137.7A74.2,74.2 0 0 1 723.2,139.0M719.0,144.8L721.6,138.3M723.8,147.0L725.5,143.8M719.0,144.8A67.2,67.2 0 0 1 723.8,147.0M714.7,130.1L720.1,110.5M716.0,130.5L722.1,109.8M714.7,130.1A79.7,79.7 0 0 1 716.0,130.5M712.8,139.3L715.3,130.3M714.6,139.9L717.2,131.6M712.8,139.3A70.3,70.3 0 0 1 714.6,139.9M711.7,146.1L713.7,139.6M717.6,148.1L719.0,144.8M711.7,146.1A63.6,63.6 0 0 1 717.6,148.1M708.7,130.7L710.4,122.4M710.1,131.0L716.7,100.7M708.7,130.7A77.8,77.8 0 0 1 710.1,131.0M707.5,139.7L709.4,130.9M711.6,130.4L719.3,98.1M713.0,130.7L719.5,105.5M711.6,130.4A78.7,78.7 0 0 1 713.0,130.7M710.0,140.2L712.3,130.6M707.5,139.7A68.8,68.8 0 0 1 710.0,140.2M706.8,148.5L708.7,139.9M710.7,149.5L711.7,146.1M706.8,148.5A60.0,60.0 0 0 1 710.7,149.5M699.4,140.6L700.1,132.6M700.6,140.7L702.6,121.7M699.4,140.6A66.6,66.6 0 0 1 700.6,140.7M699.5,145.7L700.0,140.7M702.7,133.8L706.6,102.8M704.0,134.0L707.7,108.3M702.7,133.8A73.8,73.8 0 0 1 704.0,134.0M702.5,140.2L703.3,133.9M705.1,135.2L710.2,104.2M706.4,135.4L708.5,123.8M705.1,135.2A72.7,72.7 0 0 1 706.4,135.4M704.9,140.6L705.8,135.3M702.5,140.2A67.4,67.4 0 0 1 704.9,140.6M702.8,146.1L703.7,140.4M699.5,145.7A61.6,61.6 0 0 1 702.8,146.1M700.5,151.0L701.2,145.9M706.0,152.0L706.8,148.5M700.5,151.0A56.4,56.4 0 0 1 706.0,152.0M693.4,144.4L693.4,114.1M694.7,136.3L695.2,104.5M696.6,118.7L697.5,91.7M698.2,118.8L698.9,105.5M696.6,118.7A88.4,88.4 0 0 1 698.2,118.8M697.0,127.7L697.4,118.7M699.1,127.8L700.8,104.7M697.0,127.7A79.4,79.4 0 0 1 699.1,127.8M697.5,136.5L698.0,127.7M694.7,136.3A70.7,70.7 0 0 1 697.5,136.5M695.8,144.5L696.1,136.4M693.4,144.4A62.6,62.6 0 0 1 695.8,144.5M694.4,154.2L694.6,144.4M700.1,154.6L700.5,151.0M694.4,154.2A52.8,52.8 0 0 1 700.1,154.6M689.3,149.7L688.4,136.7M689.9,142.4L689.0,124.9M690.9,137.8L690.3,120.4M692.2,137.7L692.0,126.0M690.9,137.8A69.3,69.3 0 0 1 692.2,137.7M691.7,142.3L691.6,137.8M689.9,142.4A64.7,64.7 0 0 1 691.7,142.3M691.1,149.6L690.8,142.4M689.3,149.7A57.5,57.5 0 0 1 691.1,149.6M690.7,157.9L690.2,149.6M694.4,157.8L694.4,154.2M690.7,157.9A49.2,49.2 0 0 1 694.4,157.8M687.0,156.1L684.2,134.1M687.0,147.8L684.0,120.6M688.1,147.7L685.7,121.6M687.0,147.8A59.6,59.6 0 0 1 688.1,147.7M688.4,155.9L687.6,147.7M687.0,156.1A51.3,51.3 0 0 1 688.4,155.9M688.3,161.7L687.7,156.0M690.9,161.5L690.7,157.9M688.3,161.7A45.6,45.6 0 0 1 690.9,161.5M680.2,151.4L675.4,131.3M679.9,145.1L674.1,119.0M681.0,144.9L677.5,127.6M679.9,145.1A63.4,63.4 0 0 1 681.0,144.9M681.7,151.1L680.4,145.0M680.2,151.4A57.2,57.2 0 0 1 681.7,151.1M682.8,159.4L681.0,151.2M681.5,141.2L675.9,110.6M682.6,141.0L680.0,124.6M681.5,141.2A66.9,66.9 0 0 1 682.6,141.0M683.6,149.7L682.0,141.1M685.1,149.5L680.3,116.6M683.6,149.7A58.1,58.1 0 0 1 685.1,149.5M685.8,158.8L684.3,149.6M682.8,159.4A48.8,48.8 0 0 1 685.8,158.8M685.6,165.8L684.3,159.1M688.7,165.3L688.3,161.7M685.6,165.8A42.0,42.0 0 0 1 688.7,165.3M686.7,171.6L685.6,165.8" stroke="#98C97A" stroke-width="1.0" fill="none"/>
<path d="M749.1,130.4L761.2,113.7M759.4,119.6L765.9,111.0M764.8,115.9L778.1,98.9M766.4,117.2L772.0,110.3M764.8,115.9A115.6,115.6 0 0 1 766.4,117.2M761.7,121.5L765.6,116.6M759.4,119.6A109.4,109.4 0 0 1 761.7,121.5M758.3,123.4L760.5,120.5M767.0,119.7L776.8,108.1M768.6,121.0L774.9,113.8M767.0,119.7A114.2,114.2 0 0 1 768.6,121.0M765.3,123.3L767.8,120.3M771.6,120.8L786.6,104.2M776.2,119.0L791.4,102.7M782.9,115.2L787.2,110.7M787.0,114.4L798.9,102.5M788.6,116.1L807.9,97.6M787.0,114.4A131.6,131.6 0 0 1 788.6,116.1M785.3,117.6L787.8,115.2M782.9,115.2A128.1,128.1 0 0 1 785.3,117.6M778.9,121.6L784.1,116.4M776.2,119.0A120.8,120.8 0 0 1 778.9,121.6M774.5,123.4L777.5,120.3M771.6,120.8A116.4,116.4 0 0 1 774.5,123.4M768.9,126.5L773.0,122.1M765.3,123.3A110.2,110.2 0 0 1 768.9,126.5M764.1,128.2L767.1,124.9M758.3,123.4A105.8,105.8 0 0 1 764.1,128.2M756.1,131.9L761.3,125.8M777.7,129.3L786.2,121.5M789.4,121.7L801.3,111.1M790.9,123.4L802.0,113.9M789.4,121.7A128.4,128.4 0 0 1 790.9,123.4M784.9,127.2L790.2,122.6M794.7,123.3L807.0,113.1M804.3,118.7L810.8,113.5M805.8,120.7L819.9,109.9M804.3,118.7A141.7,141.7 0 0 1 805.8,120.7M800.8,123.0L805.1,119.7M803.0,125.9L817.4,115.3M800.8,123.0A136.3,136.3 0 0 1 803.0,125.9M798.0,127.5L801.9,124.5M794.7,123.3A131.3,131.3 0 0 1 798.0,127.5M791.4,129.3L796.4,125.4M795.3,134.5L807.1,126.1M791.4,129.3A125.0,125.0 0 0 1 795.3,134.5M790.4,134.1L793.4,131.9M784.9,127.2A121.3,121.3 0 0 1 790.4,134.1M782.5,134.8L787.7,130.6M777.7,129.3A114.6,114.6 0 0 1 782.5,134.8M775.8,135.8L780.1,132.0M794.5,137.7L813.0,125.0M798.6,137.7L818.7,124.4M799.8,139.6L807.5,134.7M798.6,137.7A125.9,125.9 0 0 1 799.8,139.6M796.3,140.5L799.2,138.6M794.5,137.7A122.5,122.5 0 0 1 796.3,140.5M790.1,142.7L795.4,139.1M804.0,139.7L815.4,132.8M805.2,141.7L822.0,131.8M804.0,139.7A129.4,129.4 0 0 1 805.2,141.7M798.4,144.4L804.6,140.7M800.1,147.2L812.0,140.5M798.4,144.4A122.2,122.2 0 0 1 800.1,147.2M793.9,148.9L799.2,145.8M790.1,142.7A116.1,116.1 0 0 1 793.9,148.9M785.9,149.5L792.1,145.7M775.8,135.8A108.8,108.8 0 0 1 785.9,149.5M776.2,146.1L781.1,142.5M788.3,156.1L807.6,145.7M793.4,155.6L814.5,144.7M794.3,157.4L808.3,150.5M793.4,155.6A112.4,112.4 0 0 1 794.3,157.4M789.6,158.6L793.9,156.5M788.3,156.1A107.6,107.6 0 0 1 789.6,158.6M784.6,159.6L788.9,157.3M776.2,146.1A102.7,102.7 0 0 1 784.6,159.6M776.5,155.3L780.6,152.7M756.1,131.9A97.8,97.8 0 0 1 776.5,155.3M764.9,144.8L767.2,142.8M749.1,130.4A94.7,94.7 0 0 1 764.9,144.8M752.9,142.1L757.4,137.2M794.2,159.7L808.2,153.1M803.4,157.7L810.9,154.4M804.2,159.7L812.9,156.0M803.4,157.7A120.4,120.4 0 0 1 804.2,159.7M799.6,160.6L803.8,158.7M800.8,163.5L809.6,159.9M799.6,160.6A115.8,115.8 0 0 1 800.8,163.5M796.1,163.8L800.2,162.0M794.2,159.7A111.3,111.3 0 0 1 796.1,163.8M790.2,163.9L795.2,161.7M800.9,165.7L820.2,158.2M811.7,163.9L831.3,156.8M817.5,164.3L839.5,156.7M822.7,165.1L843.7,158.3M827.1,166.3L847.8,160.0M833.4,167.1L852.3,161.8M834.1,169.7L853.9,164.4M833.4,167.1A145.5,145.5 0 0 1 834.1,169.7M828.1,169.9L833.8,168.4M827.1,166.3A139.6,139.6 0 0 1 828.1,169.9M823.9,169.2L827.6,168.1M822.7,165.1A135.8,135.8 0 0 1 823.9,169.2M818.9,168.5L823.3,167.2M817.5,164.3A131.2,131.2 0 0 1 818.9,168.5M813.1,168.1L818.2,166.4M811.7,163.9A125.8,125.8 0 0 1 813.1,168.1M805.2,168.5L812.4,166.0M819.8,175.9L827.0,174.1M820.3,178.1L847.5,172.0M819.8,175.9A130.1,130.1 0 0 1 820.3,178.1M814.9,178.2L820.1,177.0M820.8,180.4L841.2,176.2M835.4,180.1L841.4,178.9M835.8,182.6L843.1,181.4M835.4,180.1A144.4,144.4 0 0 1 835.8,182.6M829.1,182.5L835.6,181.3M836.5,185.1L846.1,183.7M836.9,187.7L843.6,186.8M836.5,185.1A144.7,144.7 0 0 1 836.9,187.7M829.9,187.4L836.7,186.4M829.1,182.5A137.8,137.8 0 0 1 829.9,187.4M821.9,186.2L829.5,184.9M820.8,180.4A130.1,130.1 0 0 1 821.9,186.2M816.1,184.3L821.4,183.3M814.9,178.2A124.7,124.7 0 0 1 816.1,184.3M809.2,182.6L815.5,181.3M805.2,168.5A118.2,118.2 0 0 1 809.2,182.6M804.4,176.3L807.4,175.5M800.9,165.7A115.0,115.0 0 0 1 804.4,176.3M798.7,172.3L802.7,171.0M818.3,192.5L829.4,191.2M818.5,194.7L842.1,192.4M818.3,192.5A125.6,125.6 0 0 1 818.5,194.7M810.8,194.4L818.4,193.6M814.5,197.3L821.7,196.7M814.7,199.5L826.0,198.8M814.5,197.3A121.4,121.4 0 0 1 814.7,199.5M811.1,198.6L814.6,198.4M810.8,194.4A117.9,117.9 0 0 1 811.1,198.6M803.8,197.2L811.0,196.5M798.7,172.3A110.8,110.8 0 0 1 803.8,197.2M797.2,185.6L802.0,184.6M790.2,163.9A105.9,105.9 0 0 1 797.2,185.6M790.6,175.8L794.3,174.5M795.4,202.5L802.5,202.2M790.6,175.8A102.0,102.0 0 0 1 795.4,202.5M787.3,190.2L793.9,189.0M798.9,204.3L824.2,203.6M806.7,206.1L816.7,206.0M806.7,208.1L823.9,208.3M806.7,206.1A113.2,113.2 0 0 1 806.7,208.1M799.0,207.1L806.7,207.1M798.9,204.3A105.5,105.5 0 0 1 799.0,207.1M793.7,205.8L799.0,205.7M812.1,210.3L831.2,210.9M819.3,212.8L839.0,213.7M819.1,215.0L834.8,216.1M819.3,212.8A125.9,125.9 0 0 1 819.1,215.0M811.9,213.5L819.2,213.9M812.1,210.3A118.6,118.6 0 0 1 811.9,213.5M806.3,211.7L812.0,211.9M810.8,216.6L819.7,217.4M818.9,219.6L837.0,221.4M822.3,222.3L830.2,223.2M822.0,224.6L844.8,227.7M822.3,222.3A129.7,129.7 0 0 1 822.0,224.6M818.5,222.9L822.1,223.4M818.9,219.6A126.0,126.0 0 0 1 818.5,222.9M813.5,220.7L818.7,221.3M819.8,226.6L828.6,228.0M819.5,228.9L837.0,231.9M819.8,226.6A127.8,127.8 0 0 1 819.5,228.9M812.6,226.6L819.6,227.7M813.5,220.7A120.7,120.7 0 0 1 812.6,226.6M810.1,223.2L813.1,223.6M810.8,216.6A117.7,117.7 0 0 1 810.1,223.2M805.7,219.4L810.5,219.9M806.3,211.7A112.9,112.9 0 0 1 805.7,219.4M798.5,215.0L806.1,215.5M813.1,230.0L834.2,234.0M826.7,235.1L841.7,238.2M826.2,237.5L838.8,240.4M826.7,235.1A136.2,136.2 0 0 1 826.2,237.5M819.2,234.7L826.5,236.3M818.4,238.1L840.3,243.5M819.2,234.7A128.7,128.7 0 0 1 818.4,238.1M812.0,234.8L818.8,236.4M813.1,230.0A121.8,121.8 0 0 1 812.0,234.8M809.4,231.7L812.6,232.4M813.5,239.1L831.5,244.0M817.9,242.7L839.1,248.8M823.5,246.9L831.4,249.3M822.7,249.2L845.3,256.6M823.5,246.9A136.0,136.0 0 0 1 822.7,249.2M816.9,246.1L823.1,248.0M817.9,242.7A129.4,129.4 0 0 1 816.9,246.1M812.4,242.9L817.4,244.4M813.5,239.1A124.2,124.2 0 0 1 812.4,242.9M807.4,239.4L813.0,241.0M809.4,231.7A118.5,118.5 0 0 1 807.4,239.4M800.8,233.7L808.5,235.6M810.6,247.6L816.8,249.7M812.9,250.8L835.6,259.1M812.1,252.9L826.6,258.6M812.9,250.8A127.2,127.2 0 0 1 812.1,252.9M809.4,250.7L812.5,251.9M810.6,247.6A123.9,123.9 0 0 1 809.4,250.7M807.0,248.1L810.0,249.2M809.3,254.3L819.5,258.4M813.1,258.4L822.7,262.5M812.2,260.5L824.8,266.2M813.1,258.4A130.2,130.2 0 0 1 812.2,260.5M807.9,257.4L812.6,259.4M809.3,254.3A125.0,125.0 0 0 1 807.9,257.4M804.7,254.1L808.6,255.8M807.0,248.1A120.7,120.7 0 0 1 804.7,254.1M801.9,249.5L805.9,251.1M802.2,258.4L822.1,267.8M801.3,260.3L808.5,263.9M802.2,258.4A120.2,120.2 0 0 1 801.3,260.3M798.3,257.7L801.7,259.4M801.9,249.5A116.4,116.4 0 0 1 798.3,257.7M794.8,251.3L800.2,253.6M800.8,233.7A110.6,110.6 0 0 1 794.8,251.3M793.1,240.9L798.2,242.6M798.5,215.0A105.3,105.3 0 0 1 793.1,240.9M791.7,227.1L796.6,228.1M793.7,205.8A100.2,100.2 0 0 1 791.7,227.1M788.3,216.0L793.3,216.5M787.3,190.2A95.3,95.3 0 0 1 788.3,216.0M781.4,203.4L788.7,203.0M752.9,142.1A88.0,88.0 0 0 1 781.4,203.4M769.7,171.6L773.3,169.9M769.7,171.6A84.0,84.0 0 0 1 764.2,252.4" stroke="#4AABDC" stroke-width="1.0" fill="none"/>
<path d="M578.1,182.2L555.2,177.2M573.4,178.9L564.7,176.8M566.2,174.8L554.1,171.7M566.8,172.5L558.0,170.1M566.2,174.8A131.3,131.3 0 0 1 566.8,172.5M571.3,174.9L566.5,173.6M568.2,170.4L549.1,164.8M564.6,166.9L545.1,160.8M560.0,162.8L544.1,157.5M560.8,160.4L548.9,156.2M560.0,162.8A140.6,140.6 0 0 1 560.8,160.4M565.8,163.4L560.4,161.6M564.6,166.9A135.0,135.0 0 0 1 565.8,163.4M569.4,166.5L565.2,165.1M568.2,170.4A130.5,130.5 0 0 1 569.4,166.5M572.7,169.7L568.8,168.5M571.3,174.9A126.4,126.4 0 0 1 572.7,169.7M574.9,173.1L572.0,172.3M573.4,178.9A123.4,123.4 0 0 1 574.9,173.1M579.3,177.3L574.1,176.0M578.1,182.2A118.0,118.0 0 0 1 579.3,177.3M582.6,180.7L578.7,179.7M572.0,192.1L563.9,191.1M572.3,189.9L565.5,188.9M572.0,192.1A122.4,122.4 0 0 1 572.3,189.9M576.7,191.6L572.2,191.0M571.3,187.5L551.4,184.3M565.8,184.3L548.1,181.1M566.2,182.0L545.2,177.8M565.8,184.3A129.7,129.7 0 0 1 566.2,182.0M571.9,184.2L566.0,183.1M571.3,187.5A123.7,123.7 0 0 1 571.9,184.2M577.4,186.9L571.6,185.9M576.7,191.6A117.9,117.9 0 0 1 577.4,186.9M581.8,189.9L577.0,189.2M583.6,180.9L578.7,179.7M581.8,189.9A113.0,113.0 0 0 1 583.6,180.9M568.1,212.0L562.7,212.2M552.6,210.0L539.1,210.3M552.6,207.5L535.5,207.6M552.6,210.0A140.9,140.9 0 0 1 552.6,207.5M557.8,208.7L552.6,208.8M557.8,205.0L541.8,204.8M557.8,208.7A135.7,135.7 0 0 1 557.8,205.0M562.3,206.9L557.8,206.9M555.6,202.5L540.4,202.0M555.7,200.1L535.7,199.0M555.6,202.5A137.9,137.9 0 0 1 555.7,200.1M562.4,201.6L555.7,201.3M562.3,206.9A131.2,131.2 0 0 1 562.4,201.6M568.0,204.3L562.3,204.2M568.1,212.0A125.5,125.5 0 0 1 568.0,204.3M573.8,208.1L568.0,208.2M569.6,198.5L551.7,197.3M564.7,195.9L554.3,195.0M564.9,193.5L559.4,193.0M564.7,195.9A129.3,129.3 0 0 1 564.9,193.5M569.9,195.2L564.8,194.7M569.6,198.5A124.2,124.2 0 0 1 569.9,195.2M574.2,197.2L569.7,196.9M573.8,208.1A119.7,119.7 0 0 1 574.2,197.2M581.6,202.9L573.8,202.7M582.8,190.1L581.8,189.9M581.6,202.9A112.0,112.0 0 0 1 582.8,190.1M567.1,240.0L561.0,241.6M560.7,239.1L539.9,244.1M560.2,236.7L542.5,240.6M560.7,239.1A136.6,136.6 0 0 1 560.2,236.7M566.3,236.6L560.4,237.9M567.1,240.0A130.6,130.6 0 0 1 566.3,236.6M573.2,236.7L566.7,238.3M565.9,233.0L552.0,235.9M562.1,231.4L552.8,233.1M554.9,230.1L542.6,232.2M554.5,227.6L549.5,228.4M554.9,230.1A140.5,140.5 0 0 1 554.5,227.6M561.5,227.8L554.7,228.9M562.1,231.4A133.6,133.6 0 0 1 561.5,227.8M565.2,229.0L561.8,229.6M565.9,233.0A130.2,130.2 0 0 1 565.2,229.0M571.8,229.9L565.5,231.0M573.2,236.7A123.9,123.9 0 0 1 571.8,229.9M576.6,232.4L572.4,233.3M570.3,223.0L553.8,225.2M558.0,222.2L538.0,224.4M557.7,219.7L551.3,220.3M558.0,222.2A136.4,136.4 0 0 1 557.7,219.7M562.0,220.5L557.8,220.9M561.7,217.0L538.7,218.7M562.0,220.5A132.1,132.1 0 0 1 561.7,217.0M565.3,218.4L561.9,218.7M565.0,214.4L558.5,214.8M565.3,218.4A128.7,128.7 0 0 1 565.0,214.4M569.6,216.1L565.1,216.4M570.3,223.0A124.2,124.2 0 0 1 569.6,216.1M574.5,219.1L569.9,219.6M576.6,232.4A119.6,119.6 0 0 1 574.5,219.1M583.9,224.4L575.3,225.8M582.6,203.0L581.6,202.9M583.9,224.4A111.0,111.0 0 0 1 582.6,203.0M587.9,256.1L572.5,263.2M570.5,261.5L563.3,264.7M569.5,259.3L559.7,263.4M570.5,261.5A134.6,134.6 0 0 1 569.5,259.3M573.4,258.9L570.0,260.4M567.2,257.6L554.9,262.5M562.3,256.9L546.1,263.0M561.4,254.5L544.8,260.5M562.3,256.9A140.4,140.4 0 0 1 561.4,254.5M565.9,254.2L561.9,255.7M567.2,257.6A136.0,136.0 0 0 1 565.9,254.2M571.4,254.0L566.5,255.9M573.4,258.9A130.8,130.8 0 0 1 571.4,254.0M576.2,254.9L572.4,256.5M573.5,247.7L555.7,253.8M576.2,254.9A126.7,126.7 0 0 1 573.5,247.7M579.2,249.7L574.8,251.3M570.8,246.2L560.2,249.6M570.1,244.0L549.8,250.1M570.8,246.2A128.8,128.8 0 0 1 570.1,244.0M573.8,244.0L570.4,245.1M572.9,240.8L556.2,245.5M573.8,244.0A125.3,125.3 0 0 1 572.9,240.8M576.4,241.5L573.3,242.4M579.2,249.7A122.0,122.0 0 0 1 576.4,241.5M583.0,243.9L577.7,245.6M587.9,256.1A116.5,116.5 0 0 1 583.0,243.9M591.3,247.7L585.3,250.0M584.9,224.3L583.9,224.4M591.3,247.7A110.0,110.0 0 0 1 584.9,224.3M592.0,268.2L587.7,270.8M581.3,272.0L563.5,282.3M574.7,273.0L564.2,278.8M568.0,273.8L560.1,278.0M566.8,271.5L556.0,277.0M568.0,273.8A142.2,142.2 0 0 1 566.8,271.5M572.9,269.8L567.4,272.7M574.7,273.0A135.9,135.9 0 0 1 572.9,269.8M579.3,268.4L573.8,271.4M581.3,272.0A129.7,129.7 0 0 1 579.3,268.4M585.0,267.6L580.2,270.2M581.8,261.4L569.5,267.4M585.0,267.6A124.2,124.2 0 0 1 581.8,261.4M588.4,261.9L583.4,264.5M592.0,268.2A118.6,118.6 0 0 1 588.4,261.9M598.5,260.4L590.1,265.1M592.2,247.3L591.3,247.7M598.5,260.4A109.0,109.0 0 0 1 592.2,247.3M600.1,289.4L582.3,305.0M598.6,287.7L580.9,302.8M600.1,289.4A124.6,124.6 0 0 1 598.6,287.7M602.7,285.6L599.3,288.5M600.6,283.1L594.8,287.9M602.7,285.6A120.1,120.1 0 0 1 600.6,283.1M604.7,281.8L601.7,284.4M600.1,280.8L595.1,284.8M585.9,288.9L568.1,302.5M584.5,287.0L574.6,294.2M585.9,288.9A135.2,135.2 0 0 1 584.5,287.0M590.8,283.7L585.2,287.9M588.8,280.9L580.2,287.0M590.8,283.7A128.2,128.2 0 0 1 588.8,280.9M592.3,280.5L589.8,282.3M585.9,280.1L572.7,289.1M581.1,280.5L561.9,293.0M579.8,278.4L574.5,281.7M581.1,280.5A134.3,134.3 0 0 1 579.8,278.4M583.9,277.2L580.4,279.5M585.9,280.1A130.1,130.1 0 0 1 583.9,277.2M589.1,275.9L584.9,278.7M592.3,280.5A125.1,125.1 0 0 1 589.1,275.9M595.6,274.8L590.6,278.3M600.1,280.8A119.1,119.1 0 0 1 595.6,274.8M600.2,276.1L597.8,277.9M604.7,281.8A116.1,116.1 0 0 1 600.2,276.1M608.8,274.0L602.4,279.0M599.3,259.9L598.5,260.4M608.8,274.0A108.0,108.0 0 0 1 599.3,259.9M616.1,298.0L607.6,308.1M609.8,302.0L604.9,307.5M608.1,300.4L603.7,305.3M609.8,302.0A126.6,126.6 0 0 1 608.1,300.4M611.2,298.7L609.0,301.2M596.4,309.5L592.3,313.9M594.6,307.7L588.2,314.3M596.4,309.5A141.2,141.2 0 0 1 594.6,307.7M600.0,304.0L595.5,308.6M597.4,301.4L580.8,317.7M600.0,304.0A134.7,134.7 0 0 1 597.4,301.4M602.4,299.0L598.7,302.7M599.5,296.1L589.8,305.3M602.4,299.0A129.5,129.5 0 0 1 599.5,296.1M605.4,293.1L600.9,297.5M611.2,298.7A123.2,123.2 0 0 1 605.4,293.1M610.9,293.3L608.3,296.0M616.1,298.0A119.5,119.5 0 0 1 610.9,293.3M617.4,291.3L613.5,295.7M609.7,283.6L599.4,293.1M617.4,291.3A113.6,113.6 0 0 1 609.7,283.6M618.1,282.9L613.4,287.6M609.5,273.3L608.8,274.0M618.1,282.9A107.0,107.0 0 0 1 609.5,273.3M633.0,303.3L622.6,320.0M631.3,302.2L623.4,314.4M633.0,303.3A113.7,113.7 0 0 1 631.3,302.2M633.9,300.1L632.2,302.8M624.7,308.4L619.6,315.9M616.6,316.1L603.6,334.4M614.6,314.7L607.4,324.5M616.6,316.1A133.5,133.5 0 0 1 614.6,314.7M619.2,310.3L615.6,315.4M616.5,308.2L601.9,327.3M619.2,310.3A127.2,127.2 0 0 1 616.5,308.2M620.6,305.5L617.8,309.3M624.7,308.4A122.5,122.5 0 0 1 620.6,305.5M625.9,302.4L622.6,307.0M617.3,303.5L612.4,309.7M615.6,302.1L603.0,317.5M617.3,303.5A123.0,123.0 0 0 1 615.6,302.1M620.2,298.1L616.4,302.8M625.9,302.4A117.0,117.0 0 0 1 620.2,298.1M626.9,295.2L623.0,300.3M633.9,300.1A110.5,110.5 0 0 1 626.9,295.2M632.9,294.0L630.3,297.7M618.8,282.2L618.1,282.9M632.9,294.0A106.0,106.0 0 0 1 618.8,282.2M639.3,308.9L635.3,316.5M637.5,307.9L633.8,314.6M639.3,308.9A115.4,115.4 0 0 1 637.5,307.9M640.3,305.0L638.4,308.4M635.4,307.4L626.6,322.7M633.6,306.3L629.8,312.6M635.4,307.4A116.0,116.0 0 0 1 633.6,306.3M636.8,303.0L634.5,306.9M640.3,305.0A111.5,111.5 0 0 1 636.8,303.0M641.7,298.4L638.5,304.0M633.5,293.2L632.9,294.0M641.7,298.4A105.0,105.0 0 0 1 633.5,293.2M656.7,315.7L649.6,336.6M652.5,321.2L646.6,337.5M650.5,320.4L643.6,338.4M652.5,321.2A121.3,121.3 0 0 1 650.5,320.4M653.7,314.7L651.5,320.8M656.7,315.7A114.8,114.8 0 0 1 653.7,314.7M657.1,309.8L655.2,315.2M648.5,319.4L640.9,338.4M645.2,321.6L637.7,339.5M643.1,320.8L638.3,331.8M645.2,321.6A124.4,124.4 0 0 1 643.1,320.8M645.5,318.1L644.2,321.2M648.5,319.4A121.1,121.1 0 0 1 645.5,318.1M648.2,315.9L647.0,318.8M641.3,319.5L636.8,329.1M639.3,318.5L629.6,338.4M641.3,319.5A124.0,124.0 0 0 1 639.3,318.5M642.9,313.5L640.3,319.0M648.2,315.9A117.9,117.9 0 0 1 642.9,313.5M647.1,311.1L645.5,314.7M641.8,308.6L631.9,328.2M647.1,311.1A114.0,114.0 0 0 1 641.8,308.6M646.6,305.4L644.5,309.9M657.1,309.8A109.0,109.0 0 0 1 646.6,305.4M653.7,303.1L651.8,307.7M642.2,297.5L641.7,298.4M653.7,303.1A104.0,104.0 0 0 1 642.2,297.5M675.4,315.8L673.4,327.8M670.4,331.7L668.7,341.1M667.0,336.9L666.0,341.9M663.4,342.3L661.3,351.5M661.0,341.7L656.6,359.8M663.4,342.3A138.6,138.6 0 0 1 661.0,341.7M663.6,336.1L662.2,342.0M667.0,336.9A132.5,132.5 0 0 1 663.6,336.1M666.5,331.0L665.3,336.5M670.4,331.7A126.9,126.9 0 0 1 666.5,331.0M669.5,326.3L668.5,331.4M662.8,324.8L660.4,333.9M669.5,326.3A121.7,121.7 0 0 1 662.8,324.8M667.7,318.9L666.1,325.6M661.4,321.6L659.9,327.2M658.1,325.4L652.4,344.3M655.9,324.7L651.2,339.6M658.1,325.4A123.6,123.6 0 0 1 655.9,324.7M658.3,320.7L657.0,325.1M661.4,321.6A119.0,119.0 0 0 1 658.3,320.7M661.1,317.1L659.9,321.2M667.7,318.9A114.8,114.8 0 0 1 661.1,317.1M665.5,313.7L664.4,318.1M675.4,315.8A110.3,110.3 0 0 1 665.5,313.7M671.9,307.7L670.4,314.9M654.1,302.2L653.7,303.1M671.9,307.7A103.0,103.0 0 0 1 654.1,302.2M695.1,315.6L695.3,327.7M693.1,327.7L693.1,345.7M690.8,333.3L690.6,345.6M688.3,339.9L688.0,347.5M685.5,347.2L684.6,362.9M683.0,347.0L682.5,352.8M685.5,347.2A140.4,140.4 0 0 1 683.0,347.0M684.4,344.1L684.2,347.1M680.7,343.8L678.9,362.8M684.4,344.1A137.4,137.4 0 0 1 680.7,343.8M682.9,339.6L682.6,344.0M688.3,339.9A133.0,133.0 0 0 1 682.9,339.6M686.0,333.1L685.6,339.8M690.8,333.3A126.3,126.3 0 0 1 686.0,333.1M688.6,327.6L688.4,333.2M693.1,327.7A120.7,120.7 0 0 1 688.6,327.6M691.0,320.7L690.9,327.7M680.5,323.5L679.2,335.5M677.9,327.6L676.0,341.7M675.7,327.3L674.6,334.9M677.9,327.6A121.6,121.6 0 0 1 675.7,327.3M677.4,323.1L676.8,327.4M680.5,323.5A117.2,117.2 0 0 1 677.4,323.1M679.4,319.9L678.9,323.3M691.0,320.7A113.8,113.8 0 0 1 679.4,319.9M685.6,315.3L685.2,320.5M695.1,315.6A108.6,108.6 0 0 1 685.6,315.3M690.5,309.0L690.3,315.6M672.2,306.7L671.9,307.7M690.5,309.0A102.0,102.0 0 0 1 672.2,306.7M704.5,312.2L705.8,324.5M703.1,317.8L705.0,339.4M701.6,324.6L702.7,340.9M699.7,330.0L700.5,345.7M697.5,330.1L697.7,335.3M699.7,330.0A123.2,123.2 0 0 1 697.5,330.1M698.4,324.8L698.6,330.1M701.6,324.6A117.9,117.9 0 0 1 698.4,324.8M699.6,318.1L700.0,324.7M703.1,317.8A111.3,111.3 0 0 1 699.6,318.1M701.0,312.5L701.4,318.0M704.5,312.2A105.7,105.7 0 0 1 701.0,312.5M702.4,307.6L702.8,312.3M690.6,308.0L690.5,309.0M702.4,307.6A101.0,101.0 0 0 1 690.6,308.0M733.7,315.1L738.2,327.1M731.8,315.8L736.8,330.0M733.7,315.1A115.3,115.3 0 0 1 731.8,315.8M730.9,310.4L732.7,315.4M731.8,322.3L737.6,339.8M731.4,328.6L733.2,334.2M729.2,329.3L734.5,347.1M731.4,328.6A127.4,127.4 0 0 1 729.2,329.3M728.6,323.3L730.3,329.0M731.8,322.3A121.5,121.5 0 0 1 728.6,323.3M728.2,316.4L730.2,322.8M724.8,321.7L730.9,344.1M722.7,322.3L727.2,339.7M724.8,321.7A118.9,118.9 0 0 1 722.7,322.3M722.7,317.9L723.8,322.0M728.2,316.4A114.7,114.7 0 0 1 722.7,317.9M724.1,312.6L725.4,317.2M730.9,310.4A110.0,110.0 0 0 1 724.1,312.6M725.8,306.1L727.5,311.6M719.2,316.6L724.3,338.1M718.3,321.8L720.6,332.5M717.2,327.5L719.5,339.0M716.5,335.9L718.0,344.1M714.2,336.3L715.4,343.8M716.5,335.9A130.9,130.9 0 0 1 714.2,336.3M714.5,331.4L715.3,336.1M711.2,331.9L713.2,346.1M714.5,331.4A126.2,126.2 0 0 1 711.2,331.9M712.4,328.4L712.9,331.7M717.2,327.5A122.9,122.9 0 0 1 712.4,328.4M713.9,322.6L714.8,328.0M718.3,321.8A117.4,117.4 0 0 1 713.9,322.6M715.1,317.4L716.1,322.2M719.2,316.6A112.5,112.5 0 0 1 715.1,317.4M716.3,312.9L717.2,317.0M706.8,314.5L709.0,332.5M716.3,312.9A108.4,108.4 0 0 1 706.8,314.5M710.9,309.8L711.5,313.8M725.8,306.1A104.3,104.3 0 0 1 710.9,309.8M717.4,304.1L718.4,308.2M702.3,306.6L702.4,307.6M717.4,304.1A100.0,100.0 0 0 1 702.3,306.6M754.3,297.8L767.1,317.0M754.7,302.1L764.3,316.9M755.5,307.2L766.5,324.9M753.7,308.3L759.1,317.4M755.5,307.2A117.8,117.8 0 0 1 753.7,308.3M752.2,303.7L754.6,307.7M754.7,302.1A113.1,113.1 0 0 1 752.2,303.7M751.4,299.7L753.5,302.9M754.3,297.8A109.3,109.3 0 0 1 751.4,299.7M750.9,295.7L752.9,298.7M750.0,306.2L758.4,320.9M748.3,307.2L756.5,322.3M750.0,306.2A114.2,114.2 0 0 1 748.3,307.2M746.7,302.3L749.2,306.7M752.3,319.3L761.0,335.9M750.2,320.3L754.7,329.2M752.3,319.3A126.8,126.8 0 0 1 750.2,320.3M749.6,316.5L751.3,319.8M748.6,322.2L758.0,341.8M746.5,323.2L751.1,333.1M748.6,322.2A127.7,127.7 0 0 1 746.5,323.2M745.6,318.5L747.6,322.7M749.6,316.5A123.1,123.1 0 0 1 745.6,318.5M746.0,314.2L747.6,317.5M742.8,320.3L747.9,332.0M740.7,321.1L748.9,341.0M742.8,320.3A123.5,123.5 0 0 1 740.7,321.1M740.1,316.9L741.7,320.7M746.0,314.2A119.4,119.4 0 0 1 740.1,316.9M741.6,312.5L743.1,315.6M735.9,314.9L738.2,320.7M741.6,312.5A115.9,115.9 0 0 1 735.9,314.9M736.1,307.4L738.8,313.7M746.7,302.3A109.1,109.1 0 0 1 736.1,307.4M740.0,301.9L741.5,305.0M750.9,295.7A105.7,105.7 0 0 1 740.0,301.9M742.2,293.2L745.5,299.0M717.1,303.1L717.4,304.1M742.2,293.2A99.0,99.0 0 0 1 717.1,303.1M758.8,287.7L772.6,304.9M766.7,301.0L780.7,318.9M765.0,302.3L778.8,320.6M766.7,301.0A119.1,119.1 0 0 1 765.0,302.3M762.5,297.2L765.9,301.6M760.0,299.0L768.1,310.2M762.5,297.2A113.5,113.5 0 0 1 760.0,299.0M758.4,294.3L761.2,298.1M755.7,296.3L759.6,302.0M758.4,294.3A108.8,108.8 0 0 1 755.7,296.3M754.1,291.3L757.1,295.3M758.8,287.7A103.8,103.8 0 0 1 754.1,291.3M752.9,284.9L756.5,289.5M741.7,292.3L742.2,293.2M752.9,284.9A98.0,98.0 0 0 1 741.7,292.3M784.0,279.5L794.3,287.7M785.7,283.6L795.1,291.4M793.4,293.1L799.2,298.1M791.9,294.9L796.3,298.9M793.4,293.1A131.9,131.9 0 0 1 791.9,294.9M787.7,289.7L792.6,294.0M790.4,296.8L798.4,304.1M788.8,298.5L800.0,309.2M790.4,296.8A132.1,132.1 0 0 1 788.8,298.5M784.7,293.0L789.6,297.6M787.7,289.7A125.4,125.4 0 0 1 784.7,293.0M782.1,287.6L786.2,291.3M785.7,283.6A119.8,119.8 0 0 1 782.1,287.6M781.0,283.1L783.9,285.6M784.0,279.5A116.0,116.0 0 0 1 781.0,283.1M778.9,278.3L782.5,281.3M779.7,292.8L789.4,302.4M778.1,294.3L786.9,303.4M779.7,292.8A121.6,121.6 0 0 1 778.1,294.3M776.0,290.6L778.9,293.5M773.7,292.8L786.3,306.3M776.0,290.6A117.4,117.4 0 0 1 773.7,292.8M770.6,287.2L774.8,291.7M778.9,278.3A111.2,111.2 0 0 1 770.6,287.2M770.7,279.0L774.9,282.9M766.5,287.9L775.7,298.1M769.5,294.4L778.3,304.5M767.9,295.7L774.0,303.0M769.5,294.4A115.8,115.8 0 0 1 767.9,295.7M764.3,289.9L768.7,295.1M766.5,287.9A109.0,109.0 0 0 1 764.3,289.9M763.2,286.4L765.4,288.9M770.7,279.0A105.6,105.6 0 0 1 763.2,286.4M761.0,276.6L767.0,282.8M752.3,284.1L752.9,284.9M761.0,276.6A97.0,97.0 0 0 1 752.3,284.1M790.5,257.2L799.9,262.1M800.4,264.8L808.3,269.0M799.3,266.7L804.1,269.4M800.4,264.8A121.5,121.5 0 0 1 799.3,266.7M794.8,262.9L799.9,265.7M793.3,265.6L807.0,273.7M794.8,262.9A115.7,115.7 0 0 1 793.3,265.6M788.4,261.0L794.0,264.3M790.5,257.2A109.2,109.2 0 0 1 788.4,261.0M786.2,257.4L789.4,259.1M787.7,264.7L806.1,276.0M786.6,266.4L799.2,274.4M787.7,264.7A110.5,110.5 0 0 1 786.6,266.4M783.0,262.9L787.2,265.5M786.2,257.4A105.5,105.5 0 0 1 783.0,262.9M781.2,258.1L784.7,260.2M782.6,266.1L800.7,278.0M794.1,276.3L798.2,279.2M792.8,278.1L811.5,291.4M794.1,276.3A122.2,122.2 0 0 1 792.8,278.1M788.9,274.0L793.5,277.2M787.0,276.5L795.8,283.0M788.9,274.0A116.5,116.5 0 0 1 787.0,276.5M783.0,271.7L788.0,275.3M780.9,274.5L797.7,287.4M783.0,271.7A110.4,110.4 0 0 1 780.9,274.5M779.2,271.0L782.0,273.1M782.6,266.1A106.9,106.9 0 0 1 779.2,271.0M776.5,265.4L780.9,268.5M781.2,258.1A101.5,101.5 0 0 1 776.5,265.4M774.3,258.9L778.9,261.8M760.4,275.9L761.0,276.6M774.3,258.9A96.0,96.0 0 0 1 760.4,275.9M764.2,252.4L774.3,258.9" stroke="#9C48D8" stroke-width="1.0" fill="none"/>
<path d="M760.4,113.7h1.7M765.0,111.0h1.7M777.3,98.9h1.7M771.2,110.3h1.7M775.9,108.1h1.7M774.0,113.8h1.7M785.8,104.2h1.7M790.6,102.7h1.7M786.4,110.7h1.7M798.0,102.5h1.7M807.0,97.6h1.7M785.4,121.5h1.7M800.5,111.1h1.7M801.1,113.9h1.7M806.1,113.1h1.7M810.0,113.5h1.7M819.0,109.9h1.7M816.6,115.3h1.7M806.2,126.1h1.7M812.2,125.0h1.7M817.8,124.4h1.7M806.6,134.7h1.7M814.5,132.8h1.7M821.1,131.8h1.7M811.1,140.5h1.7M806.7,145.7h1.7M813.6,144.7h1.7M807.4,150.5h1.7M807.3,153.1h1.7M810.0,154.4h1.7M812.0,156.0h1.7M808.8,159.9h1.7M819.4,158.2h1.7M830.4,156.8h1.7M838.7,156.7h1.7M842.8,158.3h1.7M847.0,160.0h1.7M851.4,161.8h1.7M853.1,164.4h1.7M826.2,174.1h1.7M846.6,172.0h1.7M840.3,176.2h1.7M840.6,178.9h1.7M842.2,181.4h1.7M845.3,183.7h1.7M842.7,186.8h1.7M828.6,191.2h1.7M841.2,192.4h1.7M820.8,196.7h1.7M825.2,198.8h1.7M801.6,202.2h1.7M823.3,203.6h1.7M815.8,206.0h1.7M823.1,208.3h1.7M830.4,210.9h1.7M838.1,213.7h1.7M834.0,216.1h1.7M818.8,217.4h1.7M836.1,221.4h1.7M829.3,223.2h1.7M843.9,227.7h1.7M827.8,228.0h1.7M836.2,231.9h1.7M833.3,234.0h1.7M840.8,238.2h1.7M837.9,240.4h1.7M839.5,243.5h1.7M830.7,244.0h1.7M838.2,248.8h1.7M830.6,249.3h1.7M844.4,256.6h1.7M816.0,249.7h1.7M834.7,259.1h1.7M825.8,258.6h1.7M818.7,258.4h1.7M821.8,262.5h1.7M824.0,266.2h1.7M821.2,267.8h1.7M807.7,263.9h1.7M554.4,177.2h1.7M563.8,176.8h1.7M553.3,171.7h1.7M557.2,170.1h1.7M548.3,164.8h1.7M544.3,160.8h1.7M543.3,157.5h1.7M548.1,156.2h1.7M563.0,191.1h1.7M564.7,188.9h1.7M550.6,184.3h1.7M547.2,181.1h1.7M544.3,177.8h1.7M561.8,212.2h1.7M538.2,210.3h1.7M534.7,207.6h1.7M540.9,204.8h1.7M539.6,202.0h1.7M534.9,199.0h1.7M550.9,197.3h1.7M553.4,195.0h1.7M558.6,193.0h1.7M560.1,241.6h1.7M539.1,244.1h1.7M541.7,240.6h1.7M551.2,235.9h1.7M551.9,233.1h1.7M541.8,232.2h1.7M548.7,228.4h1.7M553.0,225.2h1.7M537.1,224.4h1.7M550.4,220.3h1.7M537.9,218.7h1.7M557.7,214.8h1.7M571.7,263.2h1.7M562.4,264.7h1.7M558.9,263.4h1.7M554.1,262.5h1.7M545.3,263.0h1.7M544.0,260.5h1.7M554.8,253.8h1.7M559.4,249.6h1.7M549.0,250.1h1.7M555.4,245.5h1.7M586.8,270.8h1.7M562.7,282.3h1.7M563.4,278.8h1.7M559.2,278.0h1.7M555.2,277.0h1.7M568.6,267.4h1.7M581.5,305.0h1.7M580.0,302.8h1.7M594.0,287.9h1.7M594.2,284.8h1.7M567.2,302.5h1.7M573.7,294.2h1.7M579.3,287.0h1.7M571.8,289.1h1.7M561.0,293.0h1.7M573.7,281.7h1.7M606.7,308.1h1.7M604.1,307.5h1.7M602.8,305.3h1.7M591.4,313.9h1.7M587.3,314.3h1.7M579.9,317.7h1.7M589.0,305.3h1.7M598.5,293.1h1.7M621.7,320.0h1.7M622.5,314.4h1.7M618.7,315.9h1.7M602.8,334.4h1.7M606.5,324.5h1.7M601.1,327.3h1.7M611.6,309.7h1.7M602.1,317.5h1.7M634.4,316.5h1.7M632.9,314.6h1.7M625.7,322.7h1.7M629.0,312.6h1.7M648.7,336.6h1.7M645.8,337.5h1.7M642.8,338.4h1.7M640.1,338.4h1.7M636.8,339.5h1.7M637.4,331.8h1.7M636.0,329.1h1.7M628.8,338.4h1.7M631.0,328.2h1.7M672.5,327.8h1.7M667.8,341.1h1.7M665.2,341.9h1.7M660.5,351.5h1.7M655.7,359.8h1.7M659.6,333.9h1.7M659.0,327.2h1.7M651.5,344.3h1.7M650.3,339.6h1.7M694.4,327.7h1.7M692.2,345.7h1.7M689.7,345.6h1.7M687.1,347.5h1.7M683.7,362.9h1.7M681.7,352.8h1.7M678.1,362.8h1.7M678.3,335.5h1.7M675.2,341.7h1.7M673.7,334.9h1.7M705.0,324.5h1.7M704.2,339.4h1.7M701.9,340.9h1.7M699.7,345.7h1.7M696.9,335.3h1.7M737.4,327.1h1.7M735.9,330.0h1.7M736.7,339.8h1.7M732.3,334.2h1.7M733.6,347.1h1.7M730.1,344.1h1.7M726.3,339.7h1.7M723.4,338.1h1.7M719.7,332.5h1.7M718.7,339.0h1.7M717.1,344.1h1.7M714.5,343.8h1.7M712.3,346.1h1.7M708.1,332.5h1.7M766.3,317.0h1.7M763.4,316.9h1.7M765.6,324.9h1.7M758.2,317.4h1.7M757.6,320.9h1.7M755.6,322.3h1.7M760.1,335.9h1.7M753.9,329.2h1.7M757.2,341.8h1.7M750.2,333.1h1.7M747.0,332.0h1.7M748.1,341.0h1.7M737.3,320.7h1.7M771.8,304.9h1.7M779.8,318.9h1.7M778.0,320.6h1.7M767.3,310.2h1.7M758.8,302.0h1.7M793.4,287.7h1.7M794.2,291.4h1.7M798.4,298.1h1.7M795.5,298.9h1.7M797.5,304.1h1.7M799.1,309.2h1.7M788.5,302.4h1.7M786.1,303.4h1.7M785.5,306.3h1.7M774.8,298.1h1.7M777.5,304.5h1.7M773.1,303.0h1.7M799.1,262.1h1.7M807.4,269.0h1.7M803.2,269.4h1.7M806.2,273.7h1.7M805.3,276.0h1.7M798.4,274.4h1.7M799.8,278.0h1.7M797.4,279.2h1.7M810.6,291.4h1.7M795.0,283.0h1.7M796.9,287.4h1.7M752.5,121.4h1.7M744.9,115.8h1.7M747.9,114.5h1.7M756.3,104.6h1.7M760.0,102.9h1.7M753.6,116.3h1.7M735.5,113.6h1.7M743.6,101.2h1.7M748.7,95.7h1.7M741.1,114.8h1.7M744.8,112.0h1.7M733.0,86.3h1.7M732.0,95.9h1.7M726.1,117.7h1.7M727.1,119.8h1.7M736.2,102.4h1.7M726.7,129.1h1.7M719.2,110.5h1.7M721.3,109.8h1.7M716.3,131.6h1.7M709.5,122.4h1.7M715.8,100.7h1.7M718.4,98.1h1.7M718.6,105.5h1.7M699.3,132.6h1.7M701.8,121.7h1.7M705.7,102.8h1.7M706.8,108.3h1.7M709.3,104.2h1.7M707.7,123.8h1.7M692.5,114.1h1.7M694.4,104.5h1.7M696.7,91.7h1.7M698.0,105.5h1.7M699.9,104.7h1.7M687.5,136.7h1.7M688.1,124.9h1.7M689.4,120.4h1.7M691.1,126.0h1.7M683.3,134.1h1.7M683.2,120.6h1.7M684.9,121.6h1.7M674.5,131.3h1.7M673.3,119.0h1.7M676.7,127.6h1.7M675.0,110.6h1.7M679.1,124.6h1.7M679.5,116.6h1.7M639.8,170.9h1.7M644.0,165.4h1.7M644.7,164.6h1.7M648.9,160.6h1.7M653.7,164.2h1.7M653.2,160.4h1.7M653.1,156.7h1.7M654.0,156.0h1.7M655.4,156.0h1.7M655.9,154.6h1.7M656.8,154.0h1.7M657.9,153.6h1.7M661.7,151.0h1.7M665.8,148.9h1.7M666.9,148.4h1.7M667.9,148.0h1.7M672.2,146.3h1.7M673.3,146.0h1.7M675.5,149.2h1.7M680.2,158.8h1.7" stroke="#222" stroke-width="1.7" fill="none"/>
<polygon points="693.5,207.0 684.1,199.4 671.6,192.9 670.3,193.1 682.6,201.8" fill="#111"/>
<path d="M709.5,191.5H746.4M709.5,188.5V194.5M746.4,188.5V194.5" stroke="#444" stroke-width="1.3" fill="none"/>
<text x="727.5" y="189.5" font-size="8.5" fill="#333" text-anchor="middle" >0.1</text>
<circle cx="672.6" cy="230.3" r="2.4" fill="#F0A030"/>
<text x="677.5" y="234.60000000000002" font-size="12" fill="#333" text-anchor="start" letter-spacing="0.9">YNG</text>
<circle cx="672.6" cy="243.3" r="2.4" fill="#6DB840"/>
<text x="677.5" y="247.60000000000002" font-size="12" fill="#333" text-anchor="start" letter-spacing="0.9">FGG1</text>
<circle cx="672.6" cy="256.9" r="2.4" fill="#1E9FDD"/>
<text x="677.5" y="261.2" font-size="12" fill="#333" text-anchor="start" letter-spacing="0.9">FGG2</text>
<circle cx="672.6" cy="269.5" r="2.4" fill="#8C2BE0"/>
<text x="677.5" y="273.8" font-size="12" fill="#333" text-anchor="start" letter-spacing="0.9">HNG</text>
<rect x="63" y="408" width="209" height="197" fill="none" stroke="#2a2a2a" stroke-width="2"/>
<line x1="59" y1="426.5" x2="63" y2="426.5" stroke="#333" stroke-width="1"/>
<text x="57" y="429.5" font-size="8" fill="#444" text-anchor="end" >0.45</text>
<line x1="59" y1="479.4" x2="63" y2="479.4" stroke="#333" stroke-width="1"/>
<text x="57" y="482.4" font-size="8" fill="#444" text-anchor="end" >0.43</text>
<line x1="59" y1="531.8" x2="63" y2="531.8" stroke="#333" stroke-width="1"/>
<text x="57" y="534.8" font-size="8" fill="#444" text-anchor="end" >0.42</text>
<line x1="59" y1="584.8" x2="63" y2="584.8" stroke="#333" stroke-width="1"/>
<text x="57" y="587.8" font-size="8" fill="#444" text-anchor="end" >0.40</text>
<line x1="272" y1="426.2" x2="276" y2="426.2" stroke="#333" stroke-width="1"/>
<text x="277" y="429.2" font-size="8" fill="#444" text-anchor="start" >&#8722;8.2e+07</text>
<line x1="272" y1="478.7" x2="276" y2="478.7" stroke="#333" stroke-width="1"/>
<text x="277" y="481.7" font-size="8" fill="#444" text-anchor="start" >&#8722;8.6e+07</text>
<line x1="272" y1="532" x2="276" y2="532" stroke="#333" stroke-width="1"/>
<text x="277" y="535" font-size="8" fill="#444" text-anchor="start" >&#8722;8.9e+07</text>
<line x1="272" y1="584.7" x2="276" y2="584.7" stroke="#333" stroke-width="1"/>
<text x="277" y="587.7" font-size="8" fill="#444" text-anchor="start" >&#8722;9.2e+07</text>
<line x1="72.2" y1="605" x2="72.2" y2="609" stroke="#333" stroke-width="1"/>
<text x="72.2" y="618" font-size="10" fill="#333" text-anchor="middle" >1</text>
<line x1="93.3" y1="605" x2="93.3" y2="609" stroke="#333" stroke-width="1"/>
<text x="93.3" y="618" font-size="10" fill="#333" text-anchor="middle" >2</text>
<line x1="114.4" y1="605" x2="114.4" y2="609" stroke="#333" stroke-width="1"/>
<text x="114.4" y="618" font-size="10" fill="#333" text-anchor="middle" >3</text>
<line x1="135.5" y1="605" x2="135.5" y2="609" stroke="#333" stroke-width="1"/>
<text x="135.5" y="618" font-size="10" fill="#333" text-anchor="middle" >4</text>
<line x1="156.6" y1="605" x2="156.6" y2="609" stroke="#333" stroke-width="1"/>
<text x="156.6" y="618" font-size="10" fill="#333" text-anchor="middle" >5</text>
<line x1="177.7" y1="605" x2="177.7" y2="609" stroke="#333" stroke-width="1"/>
<text x="177.7" y="618" font-size="10" fill="#333" text-anchor="middle" >6</text>
<line x1="198.7" y1="605" x2="198.7" y2="609" stroke="#333" stroke-width="1"/>
<text x="198.7" y="618" font-size="10" fill="#333" text-anchor="middle" >7</text>
<line x1="219.8" y1="605" x2="219.8" y2="609" stroke="#333" stroke-width="1"/>
<text x="219.8" y="618" font-size="10" fill="#333" text-anchor="middle" >8</text>
<line x1="240.9" y1="605" x2="240.9" y2="609" stroke="#333" stroke-width="1"/>
<text x="240.9" y="618" font-size="10" fill="#333" text-anchor="middle" >9</text>
<line x1="262.0" y1="605" x2="262.0" y2="609" stroke="#333" stroke-width="1"/>
<text x="262.0" y="618" font-size="10" fill="#333" text-anchor="middle" >10</text>
<text x="170" y="631" font-size="12" fill="#333" text-anchor="middle" >K</text>
<text x="0" y="0" font-size="13" fill="#333" text-anchor="middle" transform="translate(33 503) rotate(-90)">CV error</text>
<text x="0" y="0" font-size="14" fill="#333" text-anchor="middle" transform="translate(317 510) rotate(90)">Log likelihood</text>
<polyline points="72.2,433.5 93.3,540.7 114.4,572.4 135.5,582.3 156.6,584.8 177.7,568.2 198.7,557.3 219.8,552.2 240.9,523.8 262.0,504.8" fill="none" stroke="#E0736A" stroke-width="2"/>
<circle cx="72.2" cy="433.5" r="3.6" fill="#E0736A"/>
<circle cx="93.3" cy="540.7" r="3.6" fill="#E0736A"/>
<circle cx="114.4" cy="572.4" r="3.6" fill="#E0736A"/>
<circle cx="135.5" cy="582.3" r="3.6" fill="#E0736A"/>
<circle cx="156.6" cy="584.8" r="3.6" fill="#E0736A"/>
<circle cx="177.7" cy="568.2" r="3.6" fill="#E0736A"/>
<circle cx="198.7" cy="557.3" r="3.6" fill="#E0736A"/>
<circle cx="219.8" cy="552.2" r="3.6" fill="#E0736A"/>
<circle cx="240.9" cy="523.8" r="3.6" fill="#E0736A"/>
<circle cx="262.0" cy="504.8" r="3.6" fill="#E0736A"/>
<polyline points="72.2,584.8 93.3,514.1 114.4,487.3 135.5,471.2 156.6,460 177.7,452 198.7,444 219.8,438.1 240.9,432 262.0,426.2" fill="none" stroke="#1AB3B8" stroke-width="2.6"/>
<circle cx="72.2" cy="584.8" r="3.8" fill="#1AB3B8"/>
<circle cx="93.3" cy="514.1" r="3.8" fill="#1AB3B8"/>
<circle cx="114.4" cy="487.3" r="3.8" fill="#1AB3B8"/>
<circle cx="135.5" cy="471.2" r="3.8" fill="#1AB3B8"/>
<circle cx="156.6" cy="460" r="3.8" fill="#1AB3B8"/>
<circle cx="177.7" cy="452" r="3.8" fill="#1AB3B8"/>
<circle cx="198.7" cy="444" r="3.8" fill="#1AB3B8"/>
<circle cx="219.8" cy="438.1" r="3.8" fill="#1AB3B8"/>
<circle cx="240.9" cy="432" r="3.8" fill="#1AB3B8"/>
<circle cx="262.0" cy="426.2" r="3.8" fill="#1AB3B8"/>
<line x1="83" y1="421.5" x2="99" y2="421.5" stroke="#E0736A" stroke-width="2"/><circle cx="91" cy="421.5" r="3.4" fill="#E0736A"/>
<line x1="83" y1="440.4" x2="99" y2="440.4" stroke="#1AB3B8" stroke-width="2.6"/><circle cx="91" cy="440.4" r="3.6" fill="#1AB3B8"/>
<text x="105.5" y="425.5" font-size="11" fill="#333" text-anchor="start" >CV error</text>
<text x="105.5" y="444.5" font-size="11" fill="#333" text-anchor="start" >Log_likelihood</text>
<line x1="407" y1="441.7" x2="432" y2="441.7" stroke="#111" stroke-width="2.6"/>
<line x1="467" y1="441.7" x2="495" y2="441.7" stroke="#111" stroke-width="2.6"/>
<line x1="382" y1="466" x2="382" y2="494.5" stroke="#111" stroke-width="2.6"/>
<line x1="382" y1="512" x2="382" y2="547" stroke="#111" stroke-width="2.6"/>
<line x1="524" y1="471" x2="524" y2="500" stroke="#111" stroke-width="2.2"/>
<line x1="524" y1="519" x2="524" y2="548" stroke="#111" stroke-width="2.2"/>
<line x1="400" y1="459" x2="415.5" y2="474.3" stroke="#111" stroke-width="2.2"/>
<line x1="432" y1="490" x2="499.3" y2="556.7" stroke="#111" stroke-width="2.2"/>
<line x1="502.7" y1="463" x2="441" y2="524" stroke="#111" stroke-width="2"/>
<line x1="417" y1="546" x2="407.3" y2="555.3" stroke="#111" stroke-width="2"/>
<line x1="415" y1="579.3" x2="433" y2="579.3" stroke="#222" stroke-width="1.2"/>
<line x1="470" y1="579.3" x2="495" y2="579.3" stroke="#222" stroke-width="1.2"/>
<text x="449.5" y="447.2" font-size="15" fill="#1a1a1a" text-anchor="middle" >0.099</text>
<text x="423.3" y="488.4" font-size="15" fill="#1a1a1a" text-anchor="middle" >0.154</text>
<text x="382" y="509.1" font-size="15" fill="#1a1a1a" text-anchor="middle" >0.145</text>
<text x="524" y="515.3" font-size="15" fill="#1a1a1a" text-anchor="middle" >0.047</text>
<text x="427.3" y="542.2" font-size="15" fill="#1a1a1a" text-anchor="middle" >0.060</text>
<text x="451.3" y="584.8" font-size="15" fill="#1a1a1a" text-anchor="middle" >0.042</text>
<circle cx="382.3" cy="441.8" r="21.7" fill="#FFA50A" stroke="#5a3800" stroke-width="1.3"/>
<text x="382.8" y="448.1" font-size="17.5" fill="#3a2200" text-anchor="middle" letter-spacing="-0.6">7.2e<tspan font-size="8.5" dy="-7.5">-4</tspan></text>
<text x="382.3" y="415" font-size="11" fill="#444" text-anchor="middle" >YNG</text>
<circle cx="523.6" cy="441.7" r="26.7" fill="#6BBD3C" stroke="#1a3a10" stroke-width="1.3"/>
<text x="524.1" y="448.0" font-size="17.5" fill="#102808" text-anchor="middle" letter-spacing="-0.6">1.73e<tspan font-size="8.5" dy="-7.5">-3</tspan></text>
<text x="523.6" y="412" font-size="11" fill="#444" text-anchor="middle" >FGG1</text>
<circle cx="382" cy="579.3" r="29.3" fill="#A340E8" stroke="#3a1a50" stroke-width="1.3"/>
<text x="382.5" y="585.5999999999999" font-size="17.5" fill="#2e0a4a" text-anchor="middle" letter-spacing="-0.6">1.82e<tspan font-size="8.5" dy="-7.5">-3</tspan></text>
<text x="382" y="619" font-size="11" fill="#444" text-anchor="middle" >HNG</text>
<circle cx="524.1" cy="579.3" r="26.7" fill="#1BA0E2" stroke="#103040" stroke-width="1.3"/>
<text x="524.6" y="585.5999999999999" font-size="17.5" fill="#0a2438" text-anchor="middle" letter-spacing="-0.6">1.79e<tspan font-size="8.5" dy="-7.5">-3</tspan></text>
<text x="524.1" y="618" font-size="11" fill="#444" text-anchor="middle" >FGG2</text>
<rect x="612" y="408" width="270.6" height="195.5" fill="none" stroke="#2a2a2a" stroke-width="2"/>
<line x1="608" y1="457" x2="612" y2="457" stroke="#333" stroke-width="1"/>
<text x="606" y="461.5" font-size="12" fill="#444" text-anchor="end" >0.3</text>
<line x1="608" y1="508.6" x2="612" y2="508.6" stroke="#333" stroke-width="1"/>
<text x="606" y="513.1" font-size="12" fill="#444" text-anchor="end" >0.2</text>
<line x1="608" y1="560" x2="612" y2="560" stroke="#333" stroke-width="1"/>
<text x="606" y="564.5" font-size="12" fill="#444" text-anchor="end" >0.1</text>
<line x1="624.5" y1="603.5" x2="624.5" y2="607.5" stroke="#333" stroke-width="1"/>
<text x="624.5" y="617.5" font-size="11" fill="#444" text-anchor="middle" >0.0e+00</text>
<line x1="685.8" y1="603.5" x2="685.8" y2="607.5" stroke="#333" stroke-width="1"/>
<text x="685.8" y="617.5" font-size="11" fill="#444" text-anchor="middle" >2.5e+04</text>
<line x1="747.3" y1="603.5" x2="747.3" y2="607.5" stroke="#333" stroke-width="1"/>
<text x="747.3" y="617.5" font-size="11" fill="#444" text-anchor="middle" >5.0e+04</text>
<line x1="808.9" y1="603.5" x2="808.9" y2="607.5" stroke="#333" stroke-width="1"/>
<text x="808.9" y="617.5" font-size="11" fill="#444" text-anchor="middle" >7.5e+04</text>
<line x1="870.2" y1="603.5" x2="870.2" y2="607.5" stroke="#333" stroke-width="1"/>
<text x="870.2" y="617.5" font-size="11" fill="#444" text-anchor="middle" >1.0e+05</text>
<text x="0" y="0" font-size="15" fill="#333" text-anchor="middle" transform="translate(587 509) rotate(-90)">r<tspan font-size="9" dy="-6">2</tspan></text>
<polyline points="624.5,417.3 624.50,495.0 624.50,495.0 624.52,495.2 624.54,495.4 624.58,495.8 624.63,496.3 624.69,497.0 624.76,497.7 624.85,498.5 624.96,499.4 625.08,500.4 625.21,501.4 625.36,502.4 625.53,503.4 625.71,504.5 625.91,505.5 626.12,506.4 626.36,507.3 626.61,508.2 626.87,509.0 627.15,509.8 627.46,510.4 627.77,511.1 628.11,511.6 628.46,512.2 628.84,512.6 629.23,513.1 629.64,513.5 630.06,513.8 630.51,514.2 630.98,514.5 631.46,514.8 631.97,515.2 632.49,515.5 633.03,515.8 633.59,516.1 634.17,516.4 634.77,516.7 635.40,517.0 636.04,517.3 636.70,517.6 637.38,517.9 638.08,518.2 638.80,518.5 639.54,518.8 640.30,519.1 641.09,519.5 641.89,519.8 642.72,520.1 643.56,520.4 644.43,520.8 645.31,521.1 646.22,521.4 647.15,521.7 648.10,522.1 649.08,522.4 650.07,522.7 651.09,523.1 652.12,523.4 653.18,523.7 654.26,524.0 655.36,524.4 656.49,524.7 657.63,525.0 658.80,525.3 659.99,525.7 661.20,526.0 662.44,526.3 663.70,526.6 664.97,526.9 666.28,527.2 667.60,527.5 668.95,527.8 670.32,528.2 671.71,528.5 673.12,528.8 674.56,529.0 676.02,529.3 677.51,529.6 679.01,529.9 680.54,530.2 682.09,530.5 683.67,530.8 685.27,531.0 686.89,531.3 688.54,531.6 690.21,531.8 691.90,532.1 693.62,532.4 695.36,532.6 697.12,532.9 698.91,533.1 700.72,533.4 702.55,533.6 704.41,533.8 706.29,534.1 708.20,534.3 710.13,534.5 712.08,534.8 714.06,535.0 716.06,535.2 718.09,535.4 720.14,535.7 722.21,535.9 724.31,536.1 726.44,536.3 728.58,536.5 730.76,536.7 732.95,536.9 735.18,537.1 737.42,537.3 739.69,537.5 741.99,537.6 744.31,537.8 746.65,538.0 749.02,538.2 751.42,538.4 753.84,538.5 756.28,538.7 758.75,538.9 761.25,539.0 763.76,539.2 766.31,539.4 768.88,539.5 771.47,539.7 774.09,539.8 776.74,540.0 779.41,540.1 782.11,540.3 784.83,540.4 787.58,540.6 790.35,540.7 793.15,540.9 795.97,541.0 798.82,541.1 801.69,541.3 804.59,541.4 807.52,541.5 810.47,541.6 813.45,541.8 816.45,541.9 819.48,542.0 822.54,542.1 825.62,542.2 828.73,542.4 831.86,542.5 835.02,542.6 838.20,542.7 841.41,542.8 844.65,542.9 847.92,543.0 851.21,543.1 854.52,543.2 857.86,543.3 861.23,543.4 864.63,543.5 868.05,543.6 871.50,543.7 874.97,543.8 878.47,543.9 882.00,544.0" fill="none" stroke="#E8A640" stroke-width="1.3" stroke-linejoin="round"/>
<polyline points="624.5,455.3 624.50,535.0 624.50,535.0 624.52,535.1 624.54,535.2 624.58,535.3 624.63,535.5 624.69,535.7 624.76,536.0 624.85,536.4 624.96,536.7 625.08,537.2 625.21,537.6 625.36,538.1 625.53,538.6 625.71,539.2 625.91,539.8 626.12,540.4 626.36,541.0 626.61,541.6 626.87,542.3 627.15,542.9 627.46,543.5 627.77,544.2 628.11,544.8 628.46,545.4 628.84,546.0 629.23,546.5 629.64,547.1 630.06,547.6 630.51,548.1 630.98,548.6 631.46,549.1 631.97,549.5 632.49,550.0 633.03,550.4 633.59,550.7 634.17,551.1 634.77,551.4 635.40,551.8 636.04,552.1 636.70,552.4 637.38,552.7 638.08,553.0 638.80,553.3 639.54,553.5 640.30,553.8 641.09,554.1 641.89,554.3 642.72,554.6 643.56,554.8 644.43,555.0 645.31,555.3 646.22,555.5 647.15,555.8 648.10,556.0 649.08,556.3 650.07,556.5 651.09,556.7 652.12,557.0 653.18,557.2 654.26,557.5 655.36,557.7 656.49,558.0 657.63,558.2 658.80,558.4 659.99,558.7 661.20,558.9 662.44,559.2 663.70,559.4 664.97,559.7 666.28,559.9 667.60,560.2 668.95,560.4 670.32,560.6 671.71,560.9 673.12,561.1 674.56,561.4 676.02,561.6 677.51,561.8 679.01,562.1 680.54,562.3 682.09,562.6 683.67,562.8 685.27,563.0 686.89,563.3 688.54,563.5 690.21,563.7 691.90,564.0 693.62,564.2 695.36,564.4 697.12,564.6 698.91,564.9 700.72,565.1 702.55,565.3 704.41,565.5 706.29,565.7 708.20,565.9 710.13,566.2 712.08,566.4 714.06,566.6 716.06,566.8 718.09,567.0 720.14,567.2 722.21,567.4 724.31,567.6 726.44,567.8 728.58,568.0 730.76,568.2 732.95,568.4 735.18,568.6 737.42,568.8 739.69,569.0 741.99,569.1 744.31,569.3 746.65,569.5 749.02,569.7 751.42,569.9 753.84,570.0 756.28,570.2 758.75,570.4 761.25,570.6 763.76,570.7 766.31,570.9 768.88,571.1 771.47,571.2 774.09,571.4 776.74,571.5 779.41,571.7 782.11,571.9 784.83,572.0 787.58,572.2 790.35,572.3 793.15,572.5 795.97,572.6 798.82,572.8 801.69,572.9 804.59,573.0 807.52,573.2 810.47,573.3 813.45,573.5 816.45,573.6 819.48,573.7 822.54,573.9 825.62,574.0 828.73,574.1 831.86,574.3 835.02,574.4 838.20,574.5 841.41,574.6 844.65,574.8 847.92,574.9 851.21,575.0 854.52,575.1 857.86,575.2 861.23,575.3 864.63,575.5 868.05,575.6 871.50,575.7 874.97,575.8 878.47,575.9 882.00,576.0" fill="none" stroke="#3DC84B" stroke-width="1.3" stroke-linejoin="round"/>
<polyline points="624.5,455.3 624.50,532.0 624.50,532.0 624.52,532.1 624.54,532.2 624.58,532.3 624.63,532.5 624.69,532.7 624.76,533.0 624.85,533.4 624.96,533.7 625.08,534.2 625.21,534.6 625.36,535.1 625.53,535.6 625.71,536.2 625.91,536.8 626.12,537.4 626.36,538.0 626.61,538.6 626.87,539.3 627.15,539.9 627.46,540.5 627.77,541.2 628.11,541.8 628.46,542.4 628.84,543.0 629.23,543.5 629.64,544.1 630.06,544.6 630.51,545.1 630.98,545.6 631.46,546.1 631.97,546.5 632.49,547.0 633.03,547.4 633.59,547.7 634.17,548.1 634.77,548.4 635.40,548.8 636.04,549.1 636.70,549.4 637.38,549.7 638.08,550.0 638.80,550.3 639.54,550.5 640.30,550.8 641.09,551.1 641.89,551.3 642.72,551.6 643.56,551.8 644.43,552.0 645.31,552.3 646.22,552.5 647.15,552.8 648.10,553.0 649.08,553.3 650.07,553.5 651.09,553.7 652.12,554.0 653.18,554.2 654.26,554.5 655.36,554.7 656.49,555.0 657.63,555.2 658.80,555.4 659.99,555.7 661.20,555.9 662.44,556.2 663.70,556.4 664.97,556.7 666.28,556.9 667.60,557.2 668.95,557.4 670.32,557.6 671.71,557.9 673.12,558.1 674.56,558.4 676.02,558.6 677.51,558.8 679.01,559.1 680.54,559.3 682.09,559.6 683.67,559.8 685.27,560.0 686.89,560.3 688.54,560.5 690.21,560.7 691.90,561.0 693.62,561.2 695.36,561.4 697.12,561.6 698.91,561.9 700.72,562.1 702.55,562.3 704.41,562.5 706.29,562.7 708.20,562.9 710.13,563.2 712.08,563.4 714.06,563.6 716.06,563.8 718.09,564.0 720.14,564.2 722.21,564.4 724.31,564.6 726.44,564.8 728.58,565.0 730.76,565.2 732.95,565.4 735.18,565.6 737.42,565.8 739.69,566.0 741.99,566.1 744.31,566.3 746.65,566.5 749.02,566.7 751.42,566.9 753.84,567.0 756.28,567.2 758.75,567.4 761.25,567.6 763.76,567.7 766.31,567.9 768.88,568.1 771.47,568.2 774.09,568.4 776.74,568.5 779.41,568.7 782.11,568.9 784.83,569.0 787.58,569.2 790.35,569.3 793.15,569.5 795.97,569.6 798.82,569.8 801.69,569.9 804.59,570.0 807.52,570.2 810.47,570.3 813.45,570.5 816.45,570.6 819.48,570.7 822.54,570.9 825.62,571.0 828.73,571.1 831.86,571.3 835.02,571.4 838.20,571.5 841.41,571.6 844.65,571.8 847.92,571.9 851.21,572.0 854.52,572.1 857.86,572.2 861.23,572.3 864.63,572.5 868.05,572.6 871.50,572.7 874.97,572.8 878.47,572.9 882.00,573.0" fill="none" stroke="#2AA3D9" stroke-width="1.3" stroke-linejoin="round"/>
<polyline points="624.5,468.7 624.50,552.0 624.50,552.0 624.52,552.1 624.54,552.2 624.58,552.4 624.63,552.7 624.69,553.0 624.76,553.4 624.85,553.9 624.96,554.4 625.08,555.0 625.21,555.6 625.36,556.3 625.53,556.9 625.71,557.6 625.91,558.3 626.12,559.1 626.36,559.8 626.61,560.5 626.87,561.2 627.15,561.8 627.46,562.5 627.77,563.1 628.11,563.6 628.46,564.2 628.84,564.7 629.23,565.2 629.64,565.6 630.06,566.0 630.51,566.4 630.98,566.8 631.46,567.1 631.97,567.4 632.49,567.7 633.03,568.0 633.59,568.2 634.17,568.4 634.77,568.7 635.40,568.9 636.04,569.1 636.70,569.3 637.38,569.5 638.08,569.7 638.80,569.9 639.54,570.1 640.30,570.3 641.09,570.4 641.89,570.6 642.72,570.8 643.56,571.0 644.43,571.2 645.31,571.4 646.22,571.6 647.15,571.8 648.10,572.0 649.08,572.2 650.07,572.4 651.09,572.6 652.12,572.8 653.18,573.0 654.26,573.2 655.36,573.4 656.49,573.6 657.63,573.8 658.80,574.0 659.99,574.3 661.20,574.5 662.44,574.7 663.70,574.9 664.97,575.1 666.28,575.3 667.60,575.5 668.95,575.7 670.32,575.9 671.71,576.1 673.12,576.3 674.56,576.5 676.02,576.7 677.51,576.9 679.01,577.1 680.54,577.3 682.09,577.5 683.67,577.7 685.27,577.9 686.89,578.1 688.54,578.3 690.21,578.5 691.90,578.7 693.62,578.9 695.36,579.1 697.12,579.3 698.91,579.5 700.72,579.7 702.55,579.9 704.41,580.1 706.29,580.3 708.20,580.4 710.13,580.6 712.08,580.8 714.06,581.0 716.06,581.2 718.09,581.3 720.14,581.5 722.21,581.7 724.31,581.8 726.44,582.0 728.58,582.2 730.76,582.4 732.95,582.5 735.18,582.7 737.42,582.8 739.69,583.0 741.99,583.2 744.31,583.3 746.65,583.5 749.02,583.6 751.42,583.8 753.84,583.9 756.28,584.1 758.75,584.2 761.25,584.4 763.76,584.5 766.31,584.7 768.88,584.8 771.47,584.9 774.09,585.1 776.74,585.2 779.41,585.3 782.11,585.5 784.83,585.6 787.58,585.7 790.35,585.9 793.15,586.0 795.97,586.1 798.82,586.2 801.69,586.4 804.59,586.5 807.52,586.6 810.47,586.7 813.45,586.8 816.45,587.0 819.48,587.1 822.54,587.2 825.62,587.3 828.73,587.4 831.86,587.5 835.02,587.6 838.20,587.7 841.41,587.8 844.65,587.9 847.92,588.0 851.21,588.1 854.52,588.2 857.86,588.3 861.23,588.4 864.63,588.5 868.05,588.6 871.50,588.7 874.97,588.8 878.47,588.9 882.00,589.0" fill="none" stroke="#8C3CC9" stroke-width="1.3" stroke-linejoin="round"/>
<circle cx="624.5" cy="417.3" r="2.6" fill="#E8A640"/><circle cx="624.5" cy="455.3" r="2.6" fill="#3DC84B"/><circle cx="624.5" cy="468.7" r="2.6" fill="#8C3CC9"/>
<line x1="787" y1="428.5" x2="802" y2="428.5" stroke="#E8A640" stroke-width="2"/>
<text x="805.5" y="431.8" font-size="9.5" fill="#444" text-anchor="start" >YNG: 1862 bp</text>
<line x1="787" y1="443.5" x2="802" y2="443.5" stroke="#3DC84B" stroke-width="2"/>
<text x="805.5" y="446.8" font-size="9.5" fill="#444" text-anchor="start" >FGG1: 422 bp</text>
<line x1="787" y1="458.5" x2="802" y2="458.5" stroke="#2AA3D9" stroke-width="2"/>
<text x="805.5" y="461.8" font-size="9.5" fill="#444" text-anchor="start" >FGG2: 447 bp</text>
<line x1="787" y1="473.5" x2="802" y2="473.5" stroke="#8C3CC9" stroke-width="2"/>
<text x="805.5" y="476.8" font-size="9.5" fill="#444" text-anchor="start" >HNG: 138 bp</text>
<rect x="51" y="659" width="501" height="52" fill="#8D4B98"/>
<polygon points="51,711 51.0,659.0 52.8,659.0 52.8,659.0 54.6,659.0 54.6,659.0 56.4,659.0 56.4,659.0 58.2,659.0 58.2,659.0 60.0,659.0 60.0,659.0 61.8,659.0 61.8,659.0 63.6,659.0 63.6,659.0 65.4,659.0 65.4,659.0 67.2,659.0 67.2,659.0 69.0,659.0 69.0,659.0 70.8,659.0 70.8,659.0 72.6,659.0 72.6,659.0 74.4,659.0 74.4,659.0 76.2,659.0 76.2,659.0 78.0,659.0 78.0,659.0 79.8,659.0 79.8,659.0 81.6,659.0 81.6,659.0 83.4,659.0 83.4,659.0 85.2,659.0 85.2,659.0 87.0,659.0 87.0,659.0 88.8,659.0 88.8,659.0 90.6,659.0 90.6,659.0 92.4,659.0 92.4,659.0 94.3,659.0 94.3,659.0 96.1,659.0 96.1,676.0 97.9,676.0 97.9,670.2 99.7,670.2 99.7,676.9 101.5,676.9 101.5,682.1 103.3,682.1 103.3,677.2 105.1,677.2 105.1,684.7 106.9,684.7 106.9,685.4 108.7,685.4 108.7,671.8 110.5,671.8 110.5,676.8 112.3,676.8 112.3,682.0 114.1,682.0 114.1,689.5 115.9,689.5 115.9,690.4 117.7,690.4 117.7,689.0 119.5,689.0 119.5,690.9 121.3,690.9 121.3,691.0 123.1,691.0 123.1,691.9 124.9,691.9 124.9,693.1 126.7,693.1 126.7,690.5 128.5,690.5 128.5,692.8 130.3,692.8 130.3,696.7 132.1,696.7 132.1,692.3 133.9,692.3 133.9,696.7 135.7,696.7 135.7,697.1 137.5,697.1 137.5,695.7 139.3,695.7 139.3,694.7 141.1,694.7 141.1,694.6 142.9,694.6 142.9,699.9 144.7,699.9 144.7,696.4 146.5,696.4 146.5,700.2 148.3,700.2 148.3,696.1 150.1,696.1 150.1,700.6 151.9,700.6 151.9,695.7 153.7,695.7 153.7,700.8 155.5,700.8 155.5,699.8 157.3,699.8 157.3,695.2 159.1,695.2 159.1,701.8 160.9,701.8 160.9,701.9 162.7,701.9 162.7,699.6 164.5,699.6 164.5,702.8 166.3,702.8 166.3,703.7 168.1,703.7 168.1,702.3 169.9,702.3 169.9,705.1 171.7,705.1 171.7,705.4 173.5,705.4 173.5,704.6 175.3,704.6 175.3,708.6 177.2,708.6 177.2,707.0 179.0,707.0 179.0,708.2 180.8,708.2 180.8,711.0 182.6,711.0 182.6,711.0 184.4,711.0 184.4,711.0 186.2,711.0 186.2,711.0 188.0,711.0 188.0,711.0 189.8,711.0 189.8,711.0 191.6,711.0 191.6,711.0 193.4,711.0 193.4,711.0 195.2,711.0 195.2,711.0 197.0,711.0 197.0,711.0 198.8,711.0 198.8,711.0 200.6,711.0 200.6,711.0 202.4,711.0 202.4,711.0 204.2,711.0 204.2,708.2 206.0,708.2 206.0,702.9 207.8,702.9 207.8,698.3 209.6,698.3 209.6,699.1 211.4,699.1 211.4,701.9 213.2,701.9 213.2,711.0 215.0,711.0 215.0,711.0 216.8,711.0 216.8,711.0 218.6,711.0 218.6,711.0 220.4,711.0 220.4,711.0 222.2,711.0 222.2,711.0 224.0,711.0 224.0,706.6 225.8,706.6 225.8,704.7 227.6,704.7 227.6,711.0 229.4,711.0 229.4,711.0 231.2,711.0 231.2,711.0 233.0,711.0 233.0,711.0 234.8,711.0 234.8,711.0 236.6,711.0 236.6,711.0 238.4,711.0 238.4,711.0 240.2,711.0 240.2,711.0 242.0,711.0 242.0,711.0 243.8,711.0 243.8,711.0 245.6,711.0 245.6,711.0 247.4,711.0 247.4,711.0 249.2,711.0 249.2,711.0 251.0,711.0 251.0,711.0 252.8,711.0 252.8,711.0 254.6,711.0 254.6,711.0 256.4,711.0 256.4,711.0 258.2,711.0 258.2,711.0 260.1,711.0 260.1,711.0 261.9,711.0 261.9,711.0 263.7,711.0 263.7,711.0 265.5,711.0 265.5,711.0 267.3,711.0 267.3,711.0 269.1,711.0 269.1,711.0 270.9,711.0 270.9,711.0 272.7,711.0 272.7,711.0 274.5,711.0 274.5,711.0 276.3,711.0 276.3,711.0 278.1,711.0 278.1,711.0 279.9,711.0 279.9,711.0 281.7,711.0 281.7,711.0 283.5,711.0 283.5,711.0 285.3,711.0 285.3,711.0 287.1,711.0 287.1,711.0 288.9,711.0 288.9,711.0 290.7,711.0 290.7,711.0 292.5,711.0 292.5,711.0 294.3,711.0 294.3,711.0 296.1,711.0 296.1,711.0 297.9,711.0 297.9,711.0 299.7,711.0 299.7,711.0 301.5,711.0 301.5,701.4 303.3,701.4 303.3,704.2 305.1,704.2 305.1,702.4 306.9,702.4 306.9,707.0 308.7,707.0 308.7,706.9 310.5,706.9 310.5,704.7 312.3,704.7 312.3,707.6 314.1,707.6 314.1,708.4 315.9,708.4 315.9,705.4 317.7,705.4 317.7,705.2 319.5,705.2 319.5,703.5 321.3,703.5 321.3,708.9 323.1,708.9 323.1,707.6 324.9,707.6 324.9,707.1 326.7,707.1 326.7,708.5 328.5,708.5 328.5,704.5 330.3,704.5 330.3,705.9 332.1,705.9 332.1,708.6 333.9,708.6 333.9,709.3 335.7,709.3 335.7,706.1 337.5,706.1 337.5,709.4 339.3,709.4 339.3,707.4 341.1,707.4 341.1,708.2 342.9,708.2 342.9,709.3 344.8,709.3 344.8,706.7 346.6,706.7 346.6,706.9 348.4,706.9 348.4,706.8 350.2,706.8 350.2,708.6 352.0,708.6 352.0,706.8 353.8,706.8 353.8,708.6 355.6,708.6 355.6,707.3 357.4,707.3 357.4,708.2 359.2,708.2 359.2,708.4 361.0,708.4 361.0,709.9 362.8,709.9 362.8,707.6 364.6,707.6 364.6,708.5 366.4,708.5 366.4,708.6 368.2,708.6 368.2,709.4 370.0,709.4 370.0,710.2 371.8,710.2 371.8,710.5 373.6,710.5 373.6,710.0 375.4,710.0 375.4,709.7 377.2,709.7 377.2,709.8 379.0,709.8 379.0,710.3 380.8,710.3 380.8,709.7 382.6,709.7 382.6,710.4 384.4,710.4 384.4,709.8 386.2,709.8 386.2,709.5 388.0,709.5 388.0,709.8 389.8,709.8 389.8,710.0 391.6,710.0 391.6,709.4 393.4,709.4 393.4,710.1 395.2,710.1 395.2,710.2 397.0,710.2 397.0,710.0 398.8,710.0 398.8,709.5 400.6,709.5 400.6,709.4 402.4,709.4 402.4,710.4 404.2,710.4 404.2,710.2 406.0,710.2 406.0,710.1 407.8,710.1 407.8,710.0 409.6,710.0 409.6,709.5 411.4,709.5 411.4,710.0 413.2,710.0 413.2,710.5 415.0,710.5 415.0,710.5 416.8,710.5 416.8,709.9 418.6,709.9 418.6,710.4 420.4,710.4 420.4,707.3 422.2,707.3 422.2,710.3 424.0,710.3 424.0,710.5 425.8,710.5 425.8,710.0 427.7,710.0 427.7,709.8 429.5,709.8 429.5,709.4 431.3,709.4 431.3,710.3 433.1,710.3 433.1,709.5 434.9,709.5 434.9,709.7 436.7,709.7 436.7,710.2 438.5,710.2 438.5,709.7 440.3,709.7 440.3,709.8 442.1,709.8 442.1,710.1 443.9,710.1 443.9,709.5 445.7,709.5 445.7,709.4 447.5,709.4 447.5,710.4 449.3,710.4 449.3,709.8 451.1,709.8 451.1,710.1 452.9,710.1 452.9,709.5 454.7,709.5 454.7,709.4 456.5,709.4 456.5,709.8 458.3,709.8 458.3,709.7 460.1,709.7 460.1,709.8 461.9,709.8 461.9,710.3 463.7,710.3 463.7,709.4 465.5,709.4 465.5,709.9 467.3,709.9 467.3,710.2 469.1,710.2 469.1,709.5 470.9,709.5 470.9,710.5 472.7,710.5 472.7,709.9 474.5,709.9 474.5,707.3 476.3,707.3 476.3,710.5 478.1,710.5 478.1,710.4 479.9,710.4 479.9,709.6 481.7,709.6 481.7,710.4 483.5,710.4 483.5,709.7 485.3,709.7 485.3,709.7 487.1,709.7 487.1,710.0 488.9,710.0 488.9,710.5 490.7,710.5 490.7,709.9 492.5,709.9 492.5,709.7 494.3,709.7 494.3,709.9 496.1,709.9 496.1,709.9 497.9,709.9 497.9,710.1 499.7,710.1 499.7,709.5 501.5,709.5 501.5,709.5 503.3,709.5 503.3,709.9 505.1,709.9 505.1,710.3 506.9,710.3 506.9,710.0 508.7,710.0 508.7,710.5 510.6,710.5 510.6,709.9 512.4,709.9 512.4,709.6 514.2,709.6 514.2,710.0 516.0,710.0 516.0,710.5 517.8,710.5 517.8,710.1 519.6,710.1 519.6,709.4 521.4,709.4 521.4,710.0 523.2,710.0 523.2,710.0 525.0,710.0 525.0,709.5 526.8,709.5 526.8,710.2 528.6,710.2 528.6,709.8 530.4,709.8 530.4,710.4 532.2,710.4 532.2,710.6 534.0,710.6 534.0,710.3 535.8,710.3 535.8,710.2 537.6,710.2 537.6,709.8 539.4,709.8 539.4,709.7 541.2,709.7 541.2,709.9 543.0,709.9 543.0,710.3 544.8,710.3 544.8,710.0 546.6,710.0 546.6,710.1 548.4,710.1 548.4,710.4 550.2,710.4 550.2,709.8 552.0,709.8 552,711" fill="#F5B43A"/>
<rect x="51" y="711" width="501" height="52" fill="#F5B43A"/>
<polygon points="51,763 51.0,763.0 52.8,763.0 52.8,763.0 54.6,763.0 54.6,763.0 56.4,763.0 56.4,763.0 58.2,763.0 58.2,763.0 60.0,763.0 60.0,763.0 61.8,763.0 61.8,763.0 63.6,763.0 63.6,763.0 65.4,763.0 65.4,763.0 67.2,763.0 67.2,763.0 69.0,763.0 69.0,763.0 70.8,763.0 70.8,763.0 72.6,763.0 72.6,763.0 74.4,763.0 74.4,763.0 76.2,763.0 76.2,763.0 78.0,763.0 78.0,763.0 79.8,763.0 79.8,763.0 81.6,763.0 81.6,763.0 83.4,763.0 83.4,763.0 85.2,763.0 85.2,763.0 87.0,763.0 87.0,763.0 88.8,763.0 88.8,763.0 90.6,763.0 90.6,763.0 92.4,763.0 92.4,763.0 94.3,763.0 94.3,763.0 96.1,763.0 96.1,743.0 97.9,743.0 97.9,743.9 99.7,743.9 99.7,743.9 101.5,743.9 101.5,736.2 103.3,736.2 103.3,735.1 105.1,735.1 105.1,734.5 106.9,734.5 106.9,737.4 108.7,737.4 108.7,736.6 110.5,736.6 110.5,723.0 112.3,723.0 112.3,729.3 114.1,729.3 114.1,733.5 115.9,733.5 115.9,726.4 117.7,726.4 117.7,725.4 119.5,725.4 119.5,727.7 121.3,727.7 121.3,723.7 123.1,723.7 123.1,720.3 124.9,720.3 124.9,726.5 126.7,726.5 126.7,724.0 128.5,724.0 128.5,725.6 130.3,725.6 130.3,723.6 132.1,723.6 132.1,726.6 133.9,726.6 133.9,718.6 135.7,718.6 135.7,722.5 137.5,722.5 137.5,721.3 139.3,721.3 139.3,719.0 141.1,719.0 141.1,719.9 142.9,719.9 142.9,721.0 144.7,721.0 144.7,718.5 146.5,718.5 146.5,720.9 148.3,720.9 148.3,722.8 150.1,722.8 150.1,731.2 151.9,731.2 151.9,717.6 153.7,717.6 153.7,718.3 155.5,718.3 155.5,716.5 157.3,716.5 157.3,718.6 159.1,718.6 159.1,721.0 160.9,721.0 160.9,728.1 162.7,728.1 162.7,717.0 164.5,717.0 164.5,717.3 166.3,717.3 166.3,717.4 168.1,717.4 168.1,714.6 169.9,714.6 169.9,714.0 171.7,714.0 171.7,713.5 173.5,713.5 173.5,712.9 175.3,712.9 175.3,721.0 177.2,721.0 177.2,711.0 179.0,711.0 179.0,711.0 180.8,711.0 180.8,711.0 182.6,711.0 182.6,711.0 184.4,711.0 184.4,711.0 186.2,711.0 186.2,711.0 188.0,711.0 188.0,711.0 189.8,711.0 189.8,711.0 191.6,711.0 191.6,711.0 193.4,711.0 193.4,711.0 195.2,711.0 195.2,711.0 197.0,711.0 197.0,711.0 198.8,711.0 198.8,711.0 200.6,711.0 200.6,711.0 202.4,711.0 202.4,711.0 204.2,711.0 204.2,716.5 206.0,716.5 206.0,720.8 207.8,720.8 207.8,723.3 209.6,723.3 209.6,722.6 211.4,722.6 211.4,719.0 213.2,719.0 213.2,711.0 215.0,711.0 215.0,711.0 216.8,711.0 216.8,711.0 218.6,711.0 218.6,711.0 220.4,711.0 220.4,711.0 222.2,711.0 222.2,711.0 224.0,711.0 224.0,719.2 225.8,719.2 225.8,711.0 227.6,711.0 227.6,711.0 229.4,711.0 229.4,711.0 231.2,711.0 231.2,711.0 233.0,711.0 233.0,711.0 234.8,711.0 234.8,711.0 236.6,711.0 236.6,711.0 238.4,711.0 238.4,711.0 240.2,711.0 240.2,711.0 242.0,711.0 242.0,711.0 243.8,711.0 243.8,711.0 245.6,711.0 245.6,711.0 247.4,711.0 247.4,711.0 249.2,711.0 249.2,711.0 251.0,711.0 251.0,711.0 252.8,711.0 252.8,711.0 254.6,711.0 254.6,711.0 256.4,711.0 256.4,711.0 258.2,711.0 258.2,711.0 260.1,711.0 260.1,711.0 261.9,711.0 261.9,711.0 263.7,711.0 263.7,711.0 265.5,711.0 265.5,711.0 267.3,711.0 267.3,711.0 269.1,711.0 269.1,711.0 270.9,711.0 270.9,711.0 272.7,711.0 272.7,711.0 274.5,711.0 274.5,711.0 276.3,711.0 276.3,711.0 278.1,711.0 278.1,711.0 279.9,711.0 279.9,711.0 281.7,711.0 281.7,711.0 283.5,711.0 283.5,711.0 285.3,711.0 285.3,711.0 287.1,711.0 287.1,711.0 288.9,711.0 288.9,711.0 290.7,711.0 290.7,711.0 292.5,711.0 292.5,711.0 294.3,711.0 294.3,711.0 296.1,711.0 296.1,711.0 297.9,711.0 297.9,711.0 299.7,711.0 299.7,711.0 301.5,711.0 301.5,711.0 303.3,711.0 303.3,711.0 305.1,711.0 305.1,711.0 306.9,711.0 306.9,711.0 308.7,711.0 308.7,711.0 310.5,711.0 310.5,711.0 312.3,711.0 312.3,711.0 314.1,711.0 314.1,711.0 315.9,711.0 315.9,711.0 317.7,711.0 317.7,711.0 319.5,711.0 319.5,711.0 321.3,711.0 321.3,711.0 323.1,711.0 323.1,711.0 324.9,711.0 324.9,711.0 326.7,711.0 326.7,711.0 328.5,711.0 328.5,711.0 330.3,711.0 330.3,711.0 332.1,711.0 332.1,711.0 333.9,711.0 333.9,711.0 335.7,711.0 335.7,711.0 337.5,711.0 337.5,711.0 339.3,711.0 339.3,711.0 341.1,711.0 341.1,711.0 342.9,711.0 342.9,711.0 344.8,711.0 344.8,711.0 346.6,711.0 346.6,711.0 348.4,711.0 348.4,711.0 350.2,711.0 350.2,711.0 352.0,711.0 352.0,711.0 353.8,711.0 353.8,711.0 355.6,711.0 355.6,711.0 357.4,711.0 357.4,711.0 359.2,711.0 359.2,711.0 361.0,711.0 361.0,711.0 362.8,711.0 362.8,711.0 364.6,711.0 364.6,711.0 366.4,711.0 366.4,711.0 368.2,711.0 368.2,711.0 370.0,711.0 370.0,711.0 371.8,711.0 371.8,711.1 373.6,711.1 373.6,711.4 375.4,711.4 375.4,711.2 377.2,711.2 377.2,711.4 379.0,711.4 379.0,711.2 380.8,711.2 380.8,711.4 382.6,711.4 382.6,711.4 384.4,711.4 384.4,711.5 386.2,711.5 386.2,711.4 388.0,711.4 388.0,711.4 389.8,711.4 389.8,711.2 391.6,711.2 391.6,711.2 393.4,711.2 393.4,711.3 395.2,711.3 395.2,711.3 397.0,711.3 397.0,711.1 398.8,711.1 398.8,711.3 400.6,711.3 400.6,711.4 402.4,711.4 402.4,711.3 404.2,711.3 404.2,711.3 406.0,711.3 406.0,711.4 407.8,711.4 407.8,711.4 409.6,711.4 409.6,711.2 411.4,711.2 411.4,711.2 413.2,711.2 413.2,711.2 415.0,711.2 415.0,711.3 416.8,711.3 416.8,711.3 418.6,711.3 418.6,711.3 420.4,711.3 420.4,711.4 422.2,711.4 422.2,711.5 424.0,711.5 424.0,711.2 425.8,711.2 425.8,711.4 427.7,711.4 427.7,711.5 429.5,711.5 429.5,711.2 431.3,711.2 431.3,711.4 433.1,711.4 433.1,711.4 434.9,711.4 434.9,711.0 436.7,711.0 436.7,711.0 438.5,711.0 438.5,711.3 440.3,711.3 440.3,711.2 442.1,711.2 442.1,711.3 443.9,711.3 443.9,711.4 445.7,711.4 445.7,711.2 447.5,711.2 447.5,711.4 449.3,711.4 449.3,711.1 451.1,711.1 451.1,711.4 452.9,711.4 452.9,711.3 454.7,711.3 454.7,711.3 456.5,711.3 456.5,711.2 458.3,711.2 458.3,711.2 460.1,711.2 460.1,711.2 461.9,711.2 461.9,711.3 463.7,711.3 463.7,711.4 465.5,711.4 465.5,711.4 467.3,711.4 467.3,711.5 469.1,711.5 469.1,711.5 470.9,711.5 470.9,711.5 472.7,711.5 472.7,711.2 474.5,711.2 474.5,711.3 476.3,711.3 476.3,711.4 478.1,711.4 478.1,711.3 479.9,711.3 479.9,711.5 481.7,711.5 481.7,711.4 483.5,711.4 483.5,711.5 485.3,711.5 485.3,711.3 487.1,711.3 487.1,711.2 488.9,711.2 488.9,711.4 490.7,711.4 490.7,714.9 492.5,714.9 492.5,711.5 494.3,711.5 494.3,711.2 496.1,711.2 496.1,711.4 497.9,711.4 497.9,711.5 499.7,711.5 499.7,711.2 501.5,711.2 501.5,711.4 503.3,711.4 503.3,711.4 505.1,711.4 505.1,711.3 506.9,711.3 506.9,711.4 508.7,711.4 508.7,711.4 510.6,711.4 510.6,711.5 512.4,711.5 512.4,711.5 514.2,711.5 514.2,711.2 516.0,711.2 516.0,713.2 517.8,713.2 517.8,711.4 519.6,711.4 519.6,711.2 521.4,711.2 521.4,711.5 523.2,711.5 523.2,711.4 525.0,711.4 525.0,711.2 526.8,711.2 526.8,711.4 528.6,711.4 528.6,711.4 530.4,711.4 530.4,711.2 532.2,711.2 532.2,711.2 534.0,711.2 534.0,711.4 535.8,711.4 535.8,711.3 537.6,711.3 537.6,711.4 539.4,711.4 539.4,712.4 541.2,712.4 541.2,711.2 543.0,711.2 543.0,711.3 544.8,711.3 544.8,711.2 546.6,711.2 546.6,711.4 548.4,711.4 548.4,711.2 550.2,711.2 550.2,711.2 552.0,711.2 552,763" fill="#69B83D"/>
<polygon points="51,763 51.0,763.0 52.8,763.0 52.8,763.0 54.6,763.0 54.6,763.0 56.4,763.0 56.4,763.0 58.2,763.0 58.2,763.0 60.0,763.0 60.0,763.0 61.8,763.0 61.8,763.0 63.6,763.0 63.6,763.0 65.4,763.0 65.4,763.0 67.2,763.0 67.2,763.0 69.0,763.0 69.0,763.0 70.8,763.0 70.8,763.0 72.6,763.0 72.6,763.0 74.4,763.0 74.4,763.0 76.2,763.0 76.2,763.0 78.0,763.0 78.0,763.0 79.8,763.0 79.8,763.0 81.6,763.0 81.6,763.0 83.4,763.0 83.4,763.0 85.2,763.0 85.2,763.0 87.0,763.0 87.0,763.0 88.8,763.0 88.8,763.0 90.6,763.0 90.6,763.0 92.4,763.0 92.4,763.0 94.3,763.0 94.3,763.0 96.1,763.0 96.1,762.0 97.9,762.0 97.9,762.0 99.7,762.0 99.7,762.0 101.5,762.0 101.5,761.8 103.3,761.8 103.3,761.9 105.1,761.9 105.1,762.0 106.9,762.0 106.9,752.7 108.7,752.7 108.7,747.1 110.5,747.1 110.5,751.4 112.3,751.4 112.3,752.3 114.1,752.3 114.1,754.4 115.9,754.4 115.9,747.0 117.7,747.0 117.7,758.3 119.5,758.3 119.5,751.2 121.3,751.2 121.3,757.9 123.1,757.9 123.1,758.8 124.9,758.8 124.9,756.9 126.7,756.9 126.7,737.7 128.5,737.7 128.5,734.6 130.3,734.6 130.3,734.8 132.1,734.8 132.1,751.5 133.9,751.5 133.9,754.8 135.7,754.8 135.7,753.5 137.5,753.5 137.5,756.1 139.3,756.1 139.3,753.0 141.1,753.0 141.1,750.6 142.9,750.6 142.9,745.8 144.7,745.8 144.7,756.5 146.5,756.5 146.5,751.3 148.3,751.3 148.3,753.7 150.1,753.7 150.1,761.6 151.9,761.6 151.9,761.5 153.7,761.5 153.7,752.7 155.5,752.7 155.5,760.8 157.3,760.8 157.3,760.8 159.1,760.8 159.1,761.7 160.9,761.7 160.9,761.1 162.7,761.1 162.7,725.0 164.5,725.0 164.5,734.1 166.3,734.1 166.3,760.1 168.1,760.1 168.1,737.2 169.9,737.2 169.9,747.7 171.7,747.7 171.7,750.4 173.5,750.4 173.5,750.6 175.3,750.6 175.3,745.5 177.2,745.5 177.2,736.9 179.0,736.9 179.0,739.4 180.8,739.4 180.8,737.5 182.6,737.5 182.6,738.0 184.4,738.0 184.4,737.7 186.2,737.7 186.2,735.7 188.0,735.7 188.0,739.3 189.8,739.3 189.8,739.9 191.6,739.9 191.6,734.8 193.4,734.8 193.4,736.4 195.2,736.4 195.2,738.3 197.0,738.3 197.0,739.3 198.8,739.3 198.8,740.3 200.6,740.3 200.6,737.1 202.4,737.1 202.4,734.7 204.2,734.7 204.2,763.0 206.0,763.0 206.0,763.0 207.8,763.0 207.8,763.0 209.6,763.0 209.6,763.0 211.4,763.0 211.4,763.0 213.2,763.0 213.2,755.9 215.0,755.9 215.0,753.4 216.8,753.4 216.8,748.2 218.6,748.2 218.6,755.0 220.4,755.0 220.4,756.3 222.2,756.3 222.2,757.6 224.0,757.6 224.0,763.0 225.8,763.0 225.8,747.5 227.6,747.5 227.6,747.1 229.4,747.1 229.4,750.8 231.2,750.8 231.2,750.2 233.0,750.2 233.0,743.7 234.8,743.7 234.8,748.4 236.6,748.4 236.6,745.3 238.4,745.3 238.4,763.0 240.2,763.0 240.2,763.0 242.0,763.0 242.0,763.0 243.8,763.0 243.8,742.5 245.6,742.5 245.6,744.6 247.4,744.6 247.4,744.0 249.2,744.0 249.2,739.7 251.0,739.7 251.0,756.9 252.8,756.9 252.8,757.5 254.6,757.5 254.6,757.6 256.4,757.6 256.4,757.2 258.2,757.2 258.2,757.6 260.1,757.6 260.1,746.7 261.9,746.7 261.9,744.6 263.7,744.6 263.7,746.4 265.5,746.4 265.5,746.9 267.3,746.9 267.3,742.5 269.1,742.5 269.1,741.9 270.9,741.9 270.9,750.9 272.7,750.9 272.7,749.4 274.5,749.4 274.5,755.6 276.3,755.6 276.3,756.2 278.1,756.2 278.1,754.4 279.9,754.4 279.9,763.0 281.7,763.0 281.7,763.0 283.5,763.0 283.5,763.0 285.3,763.0 285.3,763.0 287.1,763.0 287.1,763.0 288.9,763.0 288.9,763.0 290.7,763.0 290.7,754.1 292.5,754.1 292.5,752.5 294.3,752.5 294.3,763.0 296.1,763.0 296.1,763.0 297.9,763.0 297.9,763.0 299.7,763.0 299.7,763.0 301.5,763.0 301.5,763.0 303.3,763.0 303.3,763.0 305.1,763.0 305.1,722.8 306.9,722.8 306.9,726.5 308.7,726.5 308.7,722.6 310.5,722.6 310.5,723.6 312.3,723.6 312.3,724.3 314.1,724.3 314.1,723.2 315.9,723.2 315.9,722.8 317.7,722.8 317.7,740.6 319.5,740.6 319.5,722.2 321.3,722.2 321.3,719.7 323.1,719.7 323.1,737.8 324.9,737.8 324.9,718.8 326.7,718.8 326.7,720.1 328.5,720.1 328.5,718.1 330.3,718.1 330.3,717.2 332.1,717.2 332.1,717.4 333.9,717.4 333.9,716.2 335.7,716.2 335.7,716.3 337.5,716.3 337.5,718.7 339.3,718.7 339.3,715.7 341.1,715.7 341.1,717.5 342.9,717.5 342.9,715.3 344.8,715.3 344.8,715.7 346.6,715.7 346.6,715.7 348.4,715.7 348.4,716.6 350.2,716.6 350.2,715.1 352.0,715.1 352.0,714.9 353.8,714.9 353.8,715.2 355.6,715.2 355.6,716.3 357.4,716.3 357.4,714.6 359.2,714.6 359.2,716.0 361.0,716.0 361.0,714.9 362.8,714.9 362.8,714.6 364.6,714.6 364.6,713.5 366.4,713.5 366.4,714.7 368.2,714.7 368.2,714.0 370.0,714.0 370.0,713.4 371.8,713.4 371.8,712.4 373.6,712.4 373.6,712.3 375.4,712.3 375.4,711.9 377.2,711.9 377.2,712.9 379.0,712.9 379.0,711.9 380.8,711.9 380.8,711.9 382.6,711.9 382.6,711.9 384.4,711.9 384.4,712.5 386.2,712.5 386.2,712.9 388.0,712.9 388.0,713.0 389.8,713.0 389.8,712.3 391.6,712.3 391.6,712.0 393.4,712.0 393.4,712.3 395.2,712.3 395.2,711.8 397.0,711.8 397.0,712.6 398.8,712.6 398.8,712.6 400.6,712.6 400.6,711.9 402.4,711.9 402.4,712.5 404.2,712.5 404.2,712.1 406.0,712.1 406.0,712.1 407.8,712.1 407.8,713.0 409.6,713.0 409.6,712.6 411.4,712.6 411.4,712.5 413.2,712.5 413.2,712.6 415.0,712.6 415.0,711.9 416.8,711.9 416.8,712.9 418.6,712.9 418.6,712.6 420.4,712.6 420.4,712.9 422.2,712.9 422.2,712.9 424.0,712.9 424.0,712.0 425.8,712.0 425.8,712.5 427.7,712.5 427.7,712.1 429.5,712.1 429.5,712.0 431.3,712.0 431.3,713.0 433.1,713.0 433.1,712.0 434.9,712.0 434.9,718.0 436.7,718.0 436.7,718.3 438.5,718.3 438.5,712.1 440.3,712.1 440.3,711.7 442.1,711.7 442.1,712.4 443.9,712.4 443.9,713.0 445.7,713.0 445.7,711.8 447.5,711.8 447.5,712.2 449.3,712.2 449.3,712.2 451.1,712.2 451.1,713.0 452.9,713.0 452.9,712.5 454.7,712.5 454.7,712.1 456.5,712.1 456.5,712.1 458.3,712.1 458.3,712.0 460.1,712.0 460.1,711.6 461.9,711.6 461.9,712.4 463.7,712.4 463.7,712.7 465.5,712.7 465.5,713.1 467.3,713.1 467.3,712.4 469.1,712.4 469.1,712.5 470.9,712.5 470.9,711.9 472.7,711.9 472.7,712.4 474.5,712.4 474.5,711.8 476.3,711.8 476.3,712.3 478.1,712.3 478.1,712.0 479.9,712.0 479.9,712.0 481.7,712.0 481.7,712.9 483.5,712.9 483.5,712.8 485.3,712.8 485.3,712.7 487.1,712.7 487.1,711.7 488.9,711.7 488.9,711.9 490.7,711.9 490.7,715.7 492.5,715.7 492.5,712.3 494.3,712.3 494.3,712.2 496.1,712.2 496.1,713.0 497.9,713.0 497.9,712.5 499.7,712.5 499.7,711.9 501.5,711.9 501.5,711.9 503.3,711.9 503.3,712.9 505.1,712.9 505.1,712.6 506.9,712.6 506.9,712.1 508.7,712.1 508.7,712.0 510.6,712.0 510.6,712.3 512.4,712.3 512.4,712.2 514.2,712.2 514.2,711.9 516.0,711.9 516.0,714.2 517.8,714.2 517.8,712.2 519.6,712.2 519.6,712.0 521.4,712.0 521.4,712.6 523.2,712.6 523.2,711.9 525.0,711.9 525.0,712.8 526.8,712.8 526.8,712.6 528.6,712.6 528.6,712.5 530.4,712.5 530.4,712.3 532.2,712.3 532.2,711.8 534.0,711.8 534.0,712.8 535.8,712.8 535.8,712.4 537.6,712.4 537.6,711.9 539.4,711.9 539.4,713.9 541.2,713.9 541.2,712.2 543.0,712.2 543.0,711.8 544.8,711.8 544.8,712.6 546.6,712.6 546.6,711.8 548.4,711.8 548.4,711.9 550.2,711.9 550.2,711.8 552.0,711.8 552,763" fill="#8D4B98"/>
<rect x="51" y="763" width="501" height="52" fill="#69B83D"/>
<polygon points="51,815 51.0,763.0 52.8,763.0 52.8,763.0 54.6,763.0 54.6,763.0 56.4,763.0 56.4,763.0 58.2,763.0 58.2,763.0 60.0,763.0 60.0,763.0 61.8,763.0 61.8,763.0 63.6,763.0 63.6,763.0 65.4,763.0 65.4,763.0 67.2,763.0 67.2,763.0 69.0,763.0 69.0,763.0 70.8,763.0 70.8,763.0 72.6,763.0 72.6,763.0 74.4,763.0 74.4,763.0 76.2,763.0 76.2,763.0 78.0,763.0 78.0,763.0 79.8,763.0 79.8,763.0 81.6,763.0 81.6,763.0 83.4,763.0 83.4,763.0 85.2,763.0 85.2,763.0 87.0,763.0 87.0,763.0 88.8,763.0 88.8,763.0 90.6,763.0 90.6,763.0 92.4,763.0 92.4,763.0 94.3,763.0 94.3,763.0 96.1,763.0 96.1,776.8 97.9,776.8 97.9,789.4 99.7,789.4 99.7,782.0 101.5,782.0 101.5,792.9 103.3,792.9 103.3,786.5 105.1,786.5 105.1,794.4 106.9,794.4 106.9,770.5 108.7,770.5 108.7,775.1 110.5,775.1 110.5,765.3 112.3,765.3 112.3,766.4 114.1,766.4 114.1,769.8 115.9,769.8 115.9,776.0 117.7,776.0 117.7,794.8 119.5,794.8 119.5,793.0 121.3,793.0 121.3,791.6 123.1,791.6 123.1,795.9 124.9,795.9 124.9,776.1 126.7,776.1 126.7,783.3 128.5,783.3 128.5,782.9 130.3,782.9 130.3,781.3 132.1,781.3 132.1,783.5 133.9,783.5 133.9,773.4 135.7,773.4 135.7,791.9 137.5,791.9 137.5,788.5 139.3,788.5 139.3,795.8 141.1,795.8 141.1,794.2 142.9,794.2 142.9,794.7 144.7,794.7 144.7,795.8 146.5,795.8 146.5,793.1 148.3,793.1 148.3,794.0 150.1,794.0 150.1,812.3 151.9,812.3 151.9,813.2 153.7,813.2 153.7,813.6 155.5,813.6 155.5,813.1 157.3,813.1 157.3,813.6 159.1,813.6 159.1,804.4 160.9,804.4 160.9,812.9 162.7,812.9 162.7,812.4 164.5,812.4 164.5,813.3 166.3,813.3 166.3,812.2 168.1,812.2 168.1,813.3 169.9,813.3 169.9,812.8 171.7,812.8 171.7,813.4 173.5,813.4 173.5,799.7 175.3,799.7 175.3,774.2 177.2,774.2 177.2,773.7 179.0,773.7 179.0,772.2 180.8,772.2 180.8,774.4 182.6,774.4 182.6,767.5 184.4,767.5 184.4,771.0 186.2,771.0 186.2,768.9 188.0,768.9 188.0,775.2 189.8,775.2 189.8,768.6 191.6,768.6 191.6,771.1 193.4,771.1 193.4,763.0 195.2,763.0 195.2,769.6 197.0,769.6 197.0,773.0 198.8,773.0 198.8,768.4 200.6,768.4 200.6,767.9 202.4,767.9 202.4,768.9 204.2,768.9 204.2,784.3 206.0,784.3 206.0,780.8 207.8,780.8 207.8,781.0 209.6,781.0 209.6,780.5 211.4,780.5 211.4,782.9 213.2,782.9 213.2,785.8 215.0,785.8 215.0,763.0 216.8,763.0 216.8,766.2 218.6,766.2 218.6,773.6 220.4,773.6 220.4,765.1 222.2,765.1 222.2,784.0 224.0,784.0 224.0,763.0 225.8,763.0 225.8,763.0 227.6,763.0 227.6,763.0 229.4,763.0 229.4,763.0 231.2,763.0 231.2,770.1 233.0,770.1 233.0,777.1 234.8,777.1 234.8,769.7 236.6,769.7 236.6,763.0 238.4,763.0 238.4,770.1 240.2,770.1 240.2,768.5 242.0,768.5 242.0,763.0 243.8,763.0 243.8,763.0 245.6,763.0 245.6,772.0 247.4,772.0 247.4,770.8 249.2,770.8 249.2,768.1 251.0,768.1 251.0,781.9 252.8,781.9 252.8,778.0 254.6,778.0 254.6,774.4 256.4,774.4 256.4,774.5 258.2,774.5 258.2,763.0 260.1,763.0 260.1,767.1 261.9,767.1 261.9,766.5 263.7,766.5 263.7,769.5 265.5,769.5 265.5,769.3 267.3,769.3 267.3,763.0 269.1,763.0 269.1,766.6 270.9,766.6 270.9,763.0 272.7,763.0 272.7,763.0 274.5,763.0 274.5,763.0 276.3,763.0 276.3,765.0 278.1,765.0 278.1,765.6 279.9,765.6 279.9,763.0 281.7,763.0 281.7,763.0 283.5,763.0 283.5,763.0 285.3,763.0 285.3,763.0 287.1,763.0 287.1,763.0 288.9,763.0 288.9,763.0 290.7,763.0 290.7,763.0 292.5,763.0 292.5,763.0 294.3,763.0 294.3,763.0 296.1,763.0 296.1,763.0 297.9,763.0 297.9,763.0 299.7,763.0 299.7,763.0 301.5,763.0 301.5,763.0 303.3,763.0 303.3,763.0 305.1,763.0 305.1,763.0 306.9,763.0 306.9,763.0 308.7,763.0 308.7,763.0 310.5,763.0 310.5,763.0 312.3,763.0 312.3,763.0 314.1,763.0 314.1,763.0 315.9,763.0 315.9,763.0 317.7,763.0 317.7,763.0 319.5,763.0 319.5,763.0 321.3,763.0 321.3,763.0 323.1,763.0 323.1,763.0 324.9,763.0 324.9,763.0 326.7,763.0 326.7,763.0 328.5,763.0 328.5,763.0 330.3,763.0 330.3,763.0 332.1,763.0 332.1,763.0 333.9,763.0 333.9,763.0 335.7,763.0 335.7,763.0 337.5,763.0 337.5,763.0 339.3,763.0 339.3,763.0 341.1,763.0 341.1,763.0 342.9,763.0 342.9,763.0 344.8,763.0 344.8,763.0 346.6,763.0 346.6,763.0 348.4,763.0 348.4,763.0 350.2,763.0 350.2,763.0 352.0,763.0 352.0,763.0 353.8,763.0 353.8,763.0 355.6,763.0 355.6,763.0 357.4,763.0 357.4,763.0 359.2,763.0 359.2,763.0 361.0,763.0 361.0,763.0 362.8,763.0 362.8,763.0 364.6,763.0 364.6,763.0 366.4,763.0 366.4,763.0 368.2,763.0 368.2,763.0 370.0,763.0 370.0,763.0 371.8,763.0 371.8,763.0 373.6,763.0 373.6,763.0 375.4,763.0 375.4,763.0 377.2,763.0 377.2,763.0 379.0,763.0 379.0,763.0 380.8,763.0 380.8,763.0 382.6,763.0 382.6,763.0 384.4,763.0 384.4,763.0 386.2,763.0 386.2,763.0 388.0,763.0 388.0,763.0 389.8,763.0 389.8,763.0 391.6,763.0 391.6,763.0 393.4,763.0 393.4,763.0 395.2,763.0 395.2,763.0 397.0,763.0 397.0,763.0 398.8,763.0 398.8,763.0 400.6,763.0 400.6,763.0 402.4,763.0 402.4,763.0 404.2,763.0 404.2,763.0 406.0,763.0 406.0,763.0 407.8,763.0 407.8,763.0 409.6,763.0 409.6,763.0 411.4,763.0 411.4,763.0 413.2,763.0 413.2,763.0 415.0,763.0 415.0,763.0 416.8,763.0 416.8,763.0 418.6,763.0 418.6,763.0 420.4,763.0 420.4,763.0 422.2,763.0 422.2,763.0 424.0,763.0 424.0,763.0 425.8,763.0 425.8,763.0 427.7,763.0 427.7,763.0 429.5,763.0 429.5,763.0 431.3,763.0 431.3,763.0 433.1,763.0 433.1,763.0 434.9,763.0 434.9,763.0 436.7,763.0 436.7,763.0 438.5,763.0 438.5,763.0 440.3,763.0 440.3,763.0 442.1,763.0 442.1,763.0 443.9,763.0 443.9,763.0 445.7,763.0 445.7,763.0 447.5,763.0 447.5,763.0 449.3,763.0 449.3,763.0 451.1,763.0 451.1,763.0 452.9,763.0 452.9,763.0 454.7,763.0 454.7,763.0 456.5,763.0 456.5,763.0 458.3,763.0 458.3,763.0 460.1,763.0 460.1,763.0 461.9,763.0 461.9,763.0 463.7,763.0 463.7,763.0 465.5,763.0 465.5,763.0 467.3,763.0 467.3,763.0 469.1,763.0 469.1,763.0 470.9,763.0 470.9,763.0 472.7,763.0 472.7,763.0 474.5,763.0 474.5,763.0 476.3,763.0 476.3,763.0 478.1,763.0 478.1,763.0 479.9,763.0 479.9,763.0 481.7,763.0 481.7,763.0 483.5,763.0 483.5,763.0 485.3,763.0 485.3,763.0 487.1,763.0 487.1,763.0 488.9,763.0 488.9,763.0 490.7,763.0 490.7,763.0 492.5,763.0 492.5,763.0 494.3,763.0 494.3,763.0 496.1,763.0 496.1,763.0 497.9,763.0 497.9,763.0 499.7,763.0 499.7,763.0 501.5,763.0 501.5,763.0 503.3,763.0 503.3,763.0 505.1,763.0 505.1,763.0 506.9,763.0 506.9,763.0 508.7,763.0 508.7,763.0 510.6,763.0 510.6,763.0 512.4,763.0 512.4,763.0 514.2,763.0 514.2,763.0 516.0,763.0 516.0,763.0 517.8,763.0 517.8,763.0 519.6,763.0 519.6,763.0 521.4,763.0 521.4,763.0 523.2,763.0 523.2,763.0 525.0,763.0 525.0,763.0 526.8,763.0 526.8,763.0 528.6,763.0 528.6,763.0 530.4,763.0 530.4,763.0 532.2,763.0 532.2,763.0 534.0,763.0 534.0,763.0 535.8,763.0 535.8,763.0 537.6,763.0 537.6,763.0 539.4,763.0 539.4,763.0 541.2,763.0 541.2,763.0 543.0,763.0 543.0,763.0 544.8,763.0 544.8,763.0 546.6,763.0 546.6,763.0 548.4,763.0 548.4,763.0 550.2,763.0 550.2,763.0 552.0,763.0 552,815" fill="#F5B43A"/>
<polygon points="51,815 51.0,815.0 52.8,815.0 52.8,815.0 54.6,815.0 54.6,815.0 56.4,815.0 56.4,815.0 58.2,815.0 58.2,815.0 60.0,815.0 60.0,815.0 61.8,815.0 61.8,815.0 63.6,815.0 63.6,815.0 65.4,815.0 65.4,815.0 67.2,815.0 67.2,815.0 69.0,815.0 69.0,815.0 70.8,815.0 70.8,815.0 72.6,815.0 72.6,815.0 74.4,815.0 74.4,815.0 76.2,815.0 76.2,815.0 78.0,815.0 78.0,815.0 79.8,815.0 79.8,815.0 81.6,815.0 81.6,815.0 83.4,815.0 83.4,815.0 85.2,815.0 85.2,815.0 87.0,815.0 87.0,815.0 88.8,815.0 88.8,815.0 90.6,815.0 90.6,815.0 92.4,815.0 92.4,815.0 94.3,815.0 94.3,815.0 96.1,815.0 96.1,815.0 97.9,815.0 97.9,815.0 99.7,815.0 99.7,814.0 101.5,814.0 101.5,813.9 103.3,813.9 103.3,814.8 105.1,814.8 105.1,814.0 106.9,814.0 106.9,789.0 108.7,789.0 108.7,794.9 110.5,794.9 110.5,790.7 112.3,790.7 112.3,794.1 114.1,794.1 114.1,792.9 115.9,792.9 115.9,797.6 117.7,797.6 117.7,806.7 119.5,806.7 119.5,808.9 121.3,808.9 121.3,805.2 123.1,805.2 123.1,806.7 124.9,806.7 124.9,798.7 126.7,798.7 126.7,787.3 128.5,787.3 128.5,787.5 130.3,787.5 130.3,790.8 132.1,790.8 132.1,795.2 133.9,795.2 133.9,785.3 135.7,785.3 135.7,795.4 137.5,795.4 137.5,790.6 139.3,790.6 139.3,797.5 141.1,797.5 141.1,797.1 142.9,797.1 142.9,798.6 144.7,798.6 144.7,797.9 146.5,797.9 146.5,795.1 148.3,795.1 148.3,796.3 150.1,796.3 150.1,812.3 151.9,812.3 151.9,813.2 153.7,813.2 153.7,813.6 155.5,813.6 155.5,813.1 157.3,813.1 157.3,813.6 159.1,813.6 159.1,804.4 160.9,804.4 160.9,812.9 162.7,812.9 162.7,812.4 164.5,812.4 164.5,813.3 166.3,813.3 166.3,812.2 168.1,812.2 168.1,813.3 169.9,813.3 169.9,812.8 171.7,812.8 171.7,813.4 173.5,813.4 173.5,799.7 175.3,799.7 175.3,774.2 177.2,774.2 177.2,773.7 179.0,773.7 179.0,772.2 180.8,772.2 180.8,774.4 182.6,774.4 182.6,767.5 184.4,767.5 184.4,771.0 186.2,771.0 186.2,768.9 188.0,768.9 188.0,775.2 189.8,775.2 189.8,768.6 191.6,768.6 191.6,771.1 193.4,771.1 193.4,763.0 195.2,763.0 195.2,769.6 197.0,769.6 197.0,773.0 198.8,773.0 198.8,768.4 200.6,768.4 200.6,767.9 202.4,767.9 202.4,768.9 204.2,768.9 204.2,786.2 206.0,786.2 206.0,786.0 207.8,786.0 207.8,787.8 209.6,787.8 209.6,786.7 211.4,786.7 211.4,787.2 213.2,787.2 213.2,787.3 215.0,787.3 215.0,763.0 216.8,763.0 216.8,766.2 218.6,766.2 218.6,773.6 220.4,773.6 220.4,765.1 222.2,765.1 222.2,784.0 224.0,784.0 224.0,763.0 225.8,763.0 225.8,763.0 227.6,763.0 227.6,763.0 229.4,763.0 229.4,763.0 231.2,763.0 231.2,770.1 233.0,770.1 233.0,777.1 234.8,777.1 234.8,769.7 236.6,769.7 236.6,763.0 238.4,763.0 238.4,770.1 240.2,770.1 240.2,768.5 242.0,768.5 242.0,763.0 243.8,763.0 243.8,763.0 245.6,763.0 245.6,772.0 247.4,772.0 247.4,770.8 249.2,770.8 249.2,768.1 251.0,768.1 251.0,781.9 252.8,781.9 252.8,778.0 254.6,778.0 254.6,774.4 256.4,774.4 256.4,774.5 258.2,774.5 258.2,763.0 260.1,763.0 260.1,767.1 261.9,767.1 261.9,766.5 263.7,766.5 263.7,769.5 265.5,769.5 265.5,769.3 267.3,769.3 267.3,763.0 269.1,763.0 269.1,766.6 270.9,766.6 270.9,763.0 272.7,763.0 272.7,763.0 274.5,763.0 274.5,763.0 276.3,763.0 276.3,765.0 278.1,765.0 278.1,765.6 279.9,765.6 279.9,763.0 281.7,763.0 281.7,763.0 283.5,763.0 283.5,763.0 285.3,763.0 285.3,763.0 287.1,763.0 287.1,763.0 288.9,763.0 288.9,763.0 290.7,763.0 290.7,763.0 292.5,763.0 292.5,763.0 294.3,763.0 294.3,763.0 296.1,763.0 296.1,763.0 297.9,763.0 297.9,763.0 299.7,763.0 299.7,763.0 301.5,763.0 301.5,763.0 303.3,763.0 303.3,763.0 305.1,763.0 305.1,763.0 306.9,763.0 306.9,763.0 308.7,763.0 308.7,763.0 310.5,763.0 310.5,763.0 312.3,763.0 312.3,763.0 314.1,763.0 314.1,763.0 315.9,763.0 315.9,763.0 317.7,763.0 317.7,763.0 319.5,763.0 319.5,763.0 321.3,763.0 321.3,763.0 323.1,763.0 323.1,763.0 324.9,763.0 324.9,763.0 326.7,763.0 326.7,763.0 328.5,763.0 328.5,763.0 330.3,763.0 330.3,763.0 332.1,763.0 332.1,763.0 333.9,763.0 333.9,763.0 335.7,763.0 335.7,763.0 337.5,763.0 337.5,763.0 339.3,763.0 339.3,763.0 341.1,763.0 341.1,763.0 342.9,763.0 342.9,763.0 344.8,763.0 344.8,763.0 346.6,763.0 346.6,763.0 348.4,763.0 348.4,763.0 350.2,763.0 350.2,763.0 352.0,763.0 352.0,763.0 353.8,763.0 353.8,763.0 355.6,763.0 355.6,763.0 357.4,763.0 357.4,763.0 359.2,763.0 359.2,763.0 361.0,763.0 361.0,763.0 362.8,763.0 362.8,763.0 364.6,763.0 364.6,763.0 366.4,763.0 366.4,763.0 368.2,763.0 368.2,763.0 370.0,763.0 370.0,763.0 371.8,763.0 371.8,763.0 373.6,763.0 373.6,763.0 375.4,763.0 375.4,763.0 377.2,763.0 377.2,763.0 379.0,763.0 379.0,763.0 380.8,763.0 380.8,763.0 382.6,763.0 382.6,763.0 384.4,763.0 384.4,763.0 386.2,763.0 386.2,763.0 388.0,763.0 388.0,763.0 389.8,763.0 389.8,763.0 391.6,763.0 391.6,763.0 393.4,763.0 393.4,763.0 395.2,763.0 395.2,763.0 397.0,763.0 397.0,763.0 398.8,763.0 398.8,763.0 400.6,763.0 400.6,763.0 402.4,763.0 402.4,763.0 404.2,763.0 404.2,763.0 406.0,763.0 406.0,763.0 407.8,763.0 407.8,763.0 409.6,763.0 409.6,763.0 411.4,763.0 411.4,763.0 413.2,763.0 413.2,763.0 415.0,763.0 415.0,763.0 416.8,763.0 416.8,763.0 418.6,763.0 418.6,763.0 420.4,763.0 420.4,763.0 422.2,763.0 422.2,763.0 424.0,763.0 424.0,763.0 425.8,763.0 425.8,763.0 427.7,763.0 427.7,763.0 429.5,763.0 429.5,763.0 431.3,763.0 431.3,763.0 433.1,763.0 433.1,763.0 434.9,763.0 434.9,763.0 436.7,763.0 436.7,763.0 438.5,763.0 438.5,763.0 440.3,763.0 440.3,763.0 442.1,763.0 442.1,763.0 443.9,763.0 443.9,763.0 445.7,763.0 445.7,763.0 447.5,763.0 447.5,763.0 449.3,763.0 449.3,763.0 451.1,763.0 451.1,763.0 452.9,763.0 452.9,763.0 454.7,763.0 454.7,763.0 456.5,763.0 456.5,763.0 458.3,763.0 458.3,763.0 460.1,763.0 460.1,763.0 461.9,763.0 461.9,763.0 463.7,763.0 463.7,763.0 465.5,763.0 465.5,763.0 467.3,763.0 467.3,763.0 469.1,763.0 469.1,763.0 470.9,763.0 470.9,763.0 472.7,763.0 472.7,763.0 474.5,763.0 474.5,763.0 476.3,763.0 476.3,763.0 478.1,763.0 478.1,763.0 479.9,763.0 479.9,763.0 481.7,763.0 481.7,763.0 483.5,763.0 483.5,763.0 485.3,763.0 485.3,763.0 487.1,763.0 487.1,763.0 488.9,763.0 488.9,763.0 490.7,763.0 490.7,763.0 492.5,763.0 492.5,763.0 494.3,763.0 494.3,763.0 496.1,763.0 496.1,763.0 497.9,763.0 497.9,763.0 499.7,763.0 499.7,763.0 501.5,763.0 501.5,763.0 503.3,763.0 503.3,763.0 505.1,763.0 505.1,763.0 506.9,763.0 506.9,763.0 508.7,763.0 508.7,763.0 510.6,763.0 510.6,763.0 512.4,763.0 512.4,763.0 514.2,763.0 514.2,763.0 516.0,763.0 516.0,763.0 517.8,763.0 517.8,763.0 519.6,763.0 519.6,763.0 521.4,763.0 521.4,763.0 523.2,763.0 523.2,763.0 525.0,763.0 525.0,763.0 526.8,763.0 526.8,763.0 528.6,763.0 528.6,763.0 530.4,763.0 530.4,763.0 532.2,763.0 532.2,763.0 534.0,763.0 534.0,763.0 535.8,763.0 535.8,763.0 537.6,763.0 537.6,763.0 539.4,763.0 539.4,763.0 541.2,763.0 541.2,763.0 543.0,763.0 543.0,763.0 544.8,763.0 544.8,763.0 546.6,763.0 546.6,763.0 548.4,763.0 548.4,763.0 550.2,763.0 550.2,763.0 552.0,763.0 552,815" fill="#6BBCEB"/>
<polygon points="51,815 51.0,815.0 52.8,815.0 52.8,815.0 54.6,815.0 54.6,815.0 56.4,815.0 56.4,815.0 58.2,815.0 58.2,815.0 60.0,815.0 60.0,815.0 61.8,815.0 61.8,815.0 63.6,815.0 63.6,815.0 65.4,815.0 65.4,815.0 67.2,815.0 67.2,815.0 69.0,815.0 69.0,815.0 70.8,815.0 70.8,815.0 72.6,815.0 72.6,815.0 74.4,815.0 74.4,815.0 76.2,815.0 76.2,815.0 78.0,815.0 78.0,815.0 79.8,815.0 79.8,815.0 81.6,815.0 81.6,815.0 83.4,815.0 83.4,815.0 85.2,815.0 85.2,815.0 87.0,815.0 87.0,815.0 88.8,815.0 88.8,815.0 90.6,815.0 90.6,815.0 92.4,815.0 92.4,815.0 94.3,815.0 94.3,815.0 96.1,815.0 96.1,815.0 97.9,815.0 97.9,815.0 99.7,815.0 99.7,814.0 101.5,814.0 101.5,813.9 103.3,813.9 103.3,814.8 105.1,814.8 105.1,814.0 106.9,814.0 106.9,797.5 108.7,797.5 108.7,804.4 110.5,804.4 110.5,799.4 112.3,799.4 112.3,801.2 114.1,801.2 114.1,799.4 115.9,799.4 115.9,804.7 117.7,804.7 117.7,808.9 119.5,808.9 119.5,810.5 121.3,810.5 121.3,807.6 123.1,807.6 123.1,810.5 124.9,810.5 124.9,801.3 126.7,801.3 126.7,792.9 128.5,792.9 128.5,792.0 130.3,792.0 130.3,809.0 132.1,809.0 132.1,808.9 133.9,808.9 133.9,806.8 135.7,806.8 135.7,807.6 137.5,807.6 137.5,801.2 139.3,801.2 139.3,806.9 141.1,806.9 141.1,806.7 142.9,806.7 142.9,804.0 144.7,804.0 144.7,809.2 146.5,809.2 146.5,809.6 148.3,809.6 148.3,807.9 150.1,807.9 150.1,813.5 151.9,813.5 151.9,814.1 153.7,814.1 153.7,813.6 155.5,813.6 155.5,814.0 157.3,814.0 157.3,814.3 159.1,814.3 159.1,805.4 160.9,805.4 160.9,814.0 162.7,814.0 162.7,813.9 164.5,813.9 164.5,814.1 166.3,814.1 166.3,813.8 168.1,813.8 168.1,814.3 169.9,814.3 169.9,814.1 171.7,814.1 171.7,814.2 173.5,814.2 173.5,815.0 175.3,815.0 175.3,791.1 177.2,791.1 177.2,790.7 179.0,790.7 179.0,787.9 180.8,787.9 180.8,790.0 182.6,790.0 182.6,785.9 184.4,785.9 184.4,788.6 186.2,788.6 186.2,785.5 188.0,785.5 188.0,790.1 189.8,790.1 189.8,784.4 191.6,784.4 191.6,788.6 193.4,788.6 193.4,778.6 195.2,778.6 195.2,786.1 197.0,786.1 197.0,791.8 198.8,791.8 198.8,789.5 200.6,789.5 200.6,788.8 202.4,788.8 202.4,788.9 204.2,788.9 204.2,815.0 206.0,815.0 206.0,815.0 207.8,815.0 207.8,815.0 209.6,815.0 209.6,815.0 211.4,815.0 211.4,815.0 213.2,815.0 213.2,815.0 215.0,815.0 215.0,807.4 216.8,807.4 216.8,808.8 218.6,808.8 218.6,807.2 220.4,807.2 220.4,805.8 222.2,805.8 222.2,806.7 224.0,806.7 224.0,810.5 225.8,810.5 225.8,804.4 227.6,804.4 227.6,800.1 229.4,800.1 229.4,800.3 231.2,800.3 231.2,804.3 233.0,804.3 233.0,803.1 234.8,803.1 234.8,803.3 236.6,803.3 236.6,799.6 238.4,799.6 238.4,815.0 240.2,815.0 240.2,815.0 242.0,815.0 242.0,815.0 243.8,815.0 243.8,792.0 245.6,792.0 245.6,799.1 247.4,799.1 247.4,800.7 249.2,800.7 249.2,795.8 251.0,795.8 251.0,809.1 252.8,809.1 252.8,809.2 254.6,809.2 254.6,808.5 256.4,808.5 256.4,808.0 258.2,808.0 258.2,808.3 260.1,808.3 260.1,798.1 261.9,798.1 261.9,796.1 263.7,796.1 263.7,803.0 265.5,803.0 265.5,797.9 267.3,797.9 267.3,799.0 269.1,799.0 269.1,801.5 270.9,801.5 270.9,805.7 272.7,805.7 272.7,806.2 274.5,806.2 274.5,805.3 276.3,805.3 276.3,808.4 278.1,808.4 278.1,807.5 279.9,807.5 279.9,815.0 281.7,815.0 281.7,815.0 283.5,815.0 283.5,815.0 285.3,815.0 285.3,815.0 287.1,815.0 287.1,815.0 288.9,815.0 288.9,815.0 290.7,815.0 290.7,815.0 292.5,815.0 292.5,815.0 294.3,815.0 294.3,815.0 296.1,815.0 296.1,815.0 297.9,815.0 297.9,815.0 299.7,815.0 299.7,815.0 301.5,815.0 301.5,815.0 303.3,815.0 303.3,815.0 305.1,815.0 305.1,770.5 306.9,770.5 306.9,774.0 308.7,774.0 308.7,774.1 310.5,774.1 310.5,772.2 312.3,772.2 312.3,770.1 314.1,770.1 314.1,778.6 315.9,778.6 315.9,772.3 317.7,772.3 317.7,788.3 319.5,788.3 319.5,771.8 321.3,771.8 321.3,770.3 323.1,770.3 323.1,788.7 324.9,788.7 324.9,769.2 326.7,769.2 326.7,767.8 328.5,767.8 328.5,770.8 330.3,770.8 330.3,767.8 332.1,767.8 332.1,768.7 333.9,768.7 333.9,769.4 335.7,769.4 335.7,767.3 337.5,767.3 337.5,767.6 339.3,767.6 339.3,769.7 341.1,769.7 341.1,767.3 342.9,767.3 342.9,768.9 344.8,768.9 344.8,767.4 346.6,767.4 346.6,767.2 348.4,767.2 348.4,768.2 350.2,768.2 350.2,766.5 352.0,766.5 352.0,767.2 353.8,767.2 353.8,766.2 355.6,766.2 355.6,767.3 357.4,767.3 357.4,766.1 359.2,766.1 359.2,767.1 361.0,767.1 361.0,766.2 362.8,766.2 362.8,766.2 364.6,766.2 364.6,766.4 366.4,766.4 366.4,766.6 368.2,766.6 368.2,765.8 370.0,765.8 370.0,766.4 371.8,766.4 371.8,764.9 373.6,764.9 373.6,764.7 375.4,764.7 375.4,765.3 377.2,765.3 377.2,765.2 379.0,765.2 379.0,764.5 380.8,764.5 380.8,764.3 382.6,764.3 382.6,764.7 384.4,764.7 384.4,763.7 386.2,763.7 386.2,764.2 388.0,764.2 388.0,765.4 389.8,765.4 389.8,764.9 391.6,764.9 391.6,764.1 393.4,764.1 393.4,763.9 395.2,763.9 395.2,764.1 397.0,764.1 397.0,764.3 398.8,764.3 398.8,765.2 400.6,765.2 400.6,764.6 402.4,764.6 402.4,765.3 404.2,765.3 404.2,764.3 406.0,764.3 406.0,765.0 407.8,765.0 407.8,764.3 409.6,764.3 409.6,767.1 411.4,767.1 411.4,764.5 413.2,764.5 413.2,764.5 415.0,764.5 415.0,764.9 416.8,764.9 416.8,765.4 418.6,765.4 418.6,765.5 420.4,765.5 420.4,765.2 422.2,765.2 422.2,764.9 424.0,764.9 424.0,763.7 425.8,763.7 425.8,764.4 427.7,764.4 427.7,764.0 429.5,764.0 429.5,764.0 431.3,764.0 431.3,763.9 433.1,763.9 433.1,765.0 434.9,765.0 434.9,770.0 436.7,770.0 436.7,770.4 438.5,770.4 438.5,764.1 440.3,764.1 440.3,765.0 442.1,765.0 442.1,763.8 443.9,763.8 443.9,763.7 445.7,763.7 445.7,765.4 447.5,765.4 447.5,763.7 449.3,763.7 449.3,764.6 451.1,764.6 451.1,763.8 452.9,763.8 452.9,764.2 454.7,764.2 454.7,763.9 456.5,763.9 456.5,763.9 458.3,763.9 458.3,764.6 460.1,764.6 460.1,765.1 461.9,765.1 461.9,764.0 463.7,764.0 463.7,764.5 465.5,764.5 465.5,764.5 467.3,764.5 467.3,763.8 469.1,763.8 469.1,763.9 470.9,763.9 470.9,764.6 472.7,764.6 472.7,764.8 474.5,764.8 474.5,765.4 476.3,765.4 476.3,763.6 478.1,763.6 478.1,765.2 479.9,765.2 479.9,765.0 481.7,765.0 481.7,763.6 483.5,763.6 483.5,764.2 485.3,764.2 485.3,764.8 487.1,764.8 487.1,763.7 488.9,763.7 488.9,763.8 490.7,763.8 490.7,763.8 492.5,763.8 492.5,764.2 494.3,764.2 494.3,764.8 496.1,764.8 496.1,765.4 497.9,765.4 497.9,764.6 499.7,764.6 499.7,764.4 501.5,764.4 501.5,765.0 503.3,765.0 503.3,764.3 505.1,764.3 505.1,764.5 506.9,764.5 506.9,764.4 508.7,764.4 508.7,763.7 510.6,763.7 510.6,763.7 512.4,763.7 512.4,764.6 514.2,764.6 514.2,764.0 516.0,764.0 516.0,764.3 517.8,764.3 517.8,764.5 519.6,764.5 519.6,765.0 521.4,765.0 521.4,763.6 523.2,763.6 523.2,767.0 525.0,767.0 525.0,765.4 526.8,765.4 526.8,764.7 528.6,764.7 528.6,764.2 530.4,764.2 530.4,764.7 532.2,764.7 532.2,764.6 534.0,764.6 534.0,764.0 535.8,764.0 535.8,764.1 537.6,764.1 537.6,765.1 539.4,765.1 539.4,765.2 541.2,765.2 541.2,764.2 543.0,764.2 543.0,763.8 544.8,763.8 544.8,765.2 546.6,765.2 546.6,764.2 548.4,764.2 548.4,765.1 550.2,765.1 550.2,763.7 552.0,763.7 552,815" fill="#8D4B98"/>
<rect x="51" y="815" width="501" height="52" fill="#69B83D"/>
<polygon points="51,867 51.0,815.0 52.8,815.0 52.8,815.0 54.6,815.0 54.6,815.0 56.4,815.0 56.4,815.0 58.2,815.0 58.2,815.0 60.0,815.0 60.0,815.0 61.8,815.0 61.8,815.0 63.6,815.0 63.6,815.0 65.4,815.0 65.4,815.0 67.2,815.0 67.2,815.0 69.0,815.0 69.0,815.0 70.8,815.0 70.8,815.0 72.6,815.0 72.6,815.0 74.4,815.0 74.4,815.0 76.2,815.0 76.2,815.0 78.0,815.0 78.0,815.0 79.8,815.0 79.8,815.0 81.6,815.0 81.6,815.0 83.4,815.0 83.4,815.0 85.2,815.0 85.2,815.0 87.0,815.0 87.0,815.0 88.8,815.0 88.8,815.0 90.6,815.0 90.6,815.0 92.4,815.0 92.4,815.0 94.3,815.0 94.3,815.0 96.1,815.0 96.1,841.6 97.9,841.6 97.9,836.3 99.7,836.3 99.7,826.3 101.5,826.3 101.5,835.8 103.3,835.8 103.3,845.0 105.1,845.0 105.1,841.4 106.9,841.4 106.9,825.4 108.7,825.4 108.7,828.2 110.5,828.2 110.5,833.2 112.3,833.2 112.3,829.1 114.1,829.1 114.1,824.6 115.9,824.6 115.9,830.9 117.7,830.9 117.7,840.8 119.5,840.8 119.5,847.3 121.3,847.3 121.3,848.3 123.1,848.3 123.1,846.1 124.9,846.1 124.9,839.7 126.7,839.7 126.7,815.0 128.5,815.0 128.5,830.6 130.3,830.6 130.3,824.1 132.1,824.1 132.1,825.8 133.9,825.8 133.9,822.3 135.7,822.3 135.7,844.4 137.5,844.4 137.5,843.0 139.3,843.0 139.3,829.7 141.1,829.7 141.1,842.6 142.9,842.6 142.9,839.4 144.7,839.4 144.7,838.1 146.5,838.1 146.5,835.3 148.3,835.3 148.3,845.5 150.1,845.5 150.1,862.8 151.9,862.8 151.9,863.3 153.7,863.3 153.7,855.6 155.5,855.6 155.5,848.2 157.3,848.2 157.3,864.6 159.1,864.6 159.1,863.0 160.9,863.0 160.9,864.1 162.7,864.1 162.7,865.0 164.5,865.0 164.5,863.3 166.3,863.3 166.3,863.4 168.1,863.4 168.1,848.8 169.9,848.8 169.9,863.9 171.7,863.9 171.7,847.3 173.5,847.3 173.5,862.9 175.3,862.9 175.3,815.0 177.2,815.0 177.2,815.0 179.0,815.0 179.0,815.0 180.8,815.0 180.8,817.1 182.6,817.1 182.6,816.2 184.4,816.2 184.4,821.7 186.2,821.7 186.2,818.9 188.0,818.9 188.0,820.2 189.8,820.2 189.8,822.5 191.6,822.5 191.6,826.9 193.4,826.9 193.4,819.1 195.2,819.1 195.2,822.9 197.0,822.9 197.0,820.9 198.8,820.9 198.8,816.6 200.6,816.6 200.6,817.8 202.4,817.8 202.4,815.0 204.2,815.0 204.2,838.5 206.0,838.5 206.0,838.8 207.8,838.8 207.8,837.2 209.6,837.2 209.6,836.3 211.4,836.3 211.4,840.1 213.2,840.1 213.2,838.0 215.0,838.0 215.0,820.6 216.8,820.6 216.8,815.0 218.6,815.0 218.6,815.0 220.4,815.0 220.4,823.0 222.2,823.0 222.2,815.0 224.0,815.0 224.0,823.8 225.8,823.8 225.8,824.5 227.6,824.5 227.6,815.0 229.4,815.0 229.4,819.6 231.2,819.6 231.2,815.0 233.0,815.0 233.0,823.2 234.8,823.2 234.8,815.0 236.6,815.0 236.6,815.0 238.4,815.0 238.4,815.0 240.2,815.0 240.2,815.0 242.0,815.0 242.0,815.0 243.8,815.0 243.8,815.1 245.6,815.1 245.6,830.0 247.4,830.0 247.4,817.9 249.2,817.9 249.2,815.0 251.0,815.0 251.0,820.0 252.8,820.0 252.8,823.5 254.6,823.5 254.6,815.0 256.4,815.0 256.4,815.0 258.2,815.0 258.2,834.5 260.1,834.5 260.1,815.0 261.9,815.0 261.9,827.4 263.7,827.4 263.7,815.0 265.5,815.0 265.5,815.0 267.3,815.0 267.3,815.0 269.1,815.0 269.1,815.0 270.9,815.0 270.9,815.0 272.7,815.0 272.7,818.7 274.5,818.7 274.5,815.0 276.3,815.0 276.3,815.0 278.1,815.0 278.1,815.0 279.9,815.0 279.9,815.0 281.7,815.0 281.7,815.0 283.5,815.0 283.5,815.0 285.3,815.0 285.3,815.9 287.1,815.9 287.1,815.0 288.9,815.0 288.9,815.0 290.7,815.0 290.7,815.0 292.5,815.0 292.5,815.0 294.3,815.0 294.3,816.1 296.1,816.1 296.1,815.0 297.9,815.0 297.9,815.0 299.7,815.0 299.7,815.0 301.5,815.0 301.5,815.0 303.3,815.0 303.3,815.0 305.1,815.0 305.1,815.0 306.9,815.0 306.9,815.0 308.7,815.0 308.7,815.0 310.5,815.0 310.5,815.0 312.3,815.0 312.3,815.0 314.1,815.0 314.1,815.0 315.9,815.0 315.9,815.0 317.7,815.0 317.7,815.0 319.5,815.0 319.5,815.0 321.3,815.0 321.3,815.0 323.1,815.0 323.1,815.0 324.9,815.0 324.9,815.0 326.7,815.0 326.7,815.0 328.5,815.0 328.5,815.0 330.3,815.0 330.3,815.0 332.1,815.0 332.1,815.0 333.9,815.0 333.9,815.0 335.7,815.0 335.7,815.0 337.5,815.0 337.5,815.0 339.3,815.0 339.3,815.0 341.1,815.0 341.1,815.0 342.9,815.0 342.9,815.0 344.8,815.0 344.8,815.0 346.6,815.0 346.6,815.0 348.4,815.0 348.4,815.0 350.2,815.0 350.2,815.0 352.0,815.0 352.0,815.0 353.8,815.0 353.8,815.0 355.6,815.0 355.6,815.0 357.4,815.0 357.4,815.0 359.2,815.0 359.2,815.0 361.0,815.0 361.0,815.0 362.8,815.0 362.8,815.0 364.6,815.0 364.6,815.0 366.4,815.0 366.4,815.0 368.2,815.0 368.2,815.0 370.0,815.0 370.0,815.0 371.8,815.0 371.8,815.0 373.6,815.0 373.6,815.0 375.4,815.0 375.4,815.0 377.2,815.0 377.2,815.0 379.0,815.0 379.0,815.0 380.8,815.0 380.8,815.0 382.6,815.0 382.6,815.0 384.4,815.0 384.4,815.0 386.2,815.0 386.2,815.0 388.0,815.0 388.0,815.0 389.8,815.0 389.8,815.0 391.6,815.0 391.6,815.0 393.4,815.0 393.4,815.0 395.2,815.0 395.2,815.0 397.0,815.0 397.0,815.0 398.8,815.0 398.8,815.0 400.6,815.0 400.6,815.0 402.4,815.0 402.4,815.0 404.2,815.0 404.2,815.0 406.0,815.0 406.0,815.0 407.8,815.0 407.8,815.0 409.6,815.0 409.6,815.0 411.4,815.0 411.4,815.0 413.2,815.0 413.2,815.0 415.0,815.0 415.0,815.0 416.8,815.0 416.8,815.0 418.6,815.0 418.6,815.0 420.4,815.0 420.4,815.0 422.2,815.0 422.2,815.0 424.0,815.0 424.0,815.0 425.8,815.0 425.8,815.0 427.7,815.0 427.7,815.0 429.5,815.0 429.5,815.0 431.3,815.0 431.3,815.0 433.1,815.0 433.1,815.0 434.9,815.0 434.9,815.0 436.7,815.0 436.7,815.0 438.5,815.0 438.5,815.0 440.3,815.0 440.3,815.0 442.1,815.0 442.1,815.0 443.9,815.0 443.9,815.0 445.7,815.0 445.7,815.0 447.5,815.0 447.5,815.0 449.3,815.0 449.3,815.0 451.1,815.0 451.1,815.0 452.9,815.0 452.9,815.0 454.7,815.0 454.7,815.0 456.5,815.0 456.5,815.0 458.3,815.0 458.3,815.0 460.1,815.0 460.1,815.0 461.9,815.0 461.9,815.0 463.7,815.0 463.7,815.0 465.5,815.0 465.5,815.0 467.3,815.0 467.3,815.0 469.1,815.0 469.1,815.0 470.9,815.0 470.9,815.0 472.7,815.0 472.7,815.0 474.5,815.0 474.5,815.0 476.3,815.0 476.3,815.0 478.1,815.0 478.1,815.0 479.9,815.0 479.9,815.0 481.7,815.0 481.7,815.0 483.5,815.0 483.5,815.0 485.3,815.0 485.3,815.0 487.1,815.0 487.1,815.0 488.9,815.0 488.9,815.0 490.7,815.0 490.7,815.0 492.5,815.0 492.5,815.0 494.3,815.0 494.3,815.0 496.1,815.0 496.1,815.0 497.9,815.0 497.9,815.0 499.7,815.0 499.7,815.0 501.5,815.0 501.5,815.0 503.3,815.0 503.3,815.0 505.1,815.0 505.1,815.0 506.9,815.0 506.9,815.0 508.7,815.0 508.7,815.0 510.6,815.0 510.6,815.0 512.4,815.0 512.4,815.0 514.2,815.0 514.2,815.0 516.0,815.0 516.0,815.0 517.8,815.0 517.8,815.0 519.6,815.0 519.6,815.0 521.4,815.0 521.4,815.0 523.2,815.0 523.2,815.0 525.0,815.0 525.0,815.0 526.8,815.0 526.8,815.0 528.6,815.0 528.6,815.0 530.4,815.0 530.4,815.0 532.2,815.0 532.2,815.0 534.0,815.0 534.0,815.0 535.8,815.0 535.8,815.0 537.6,815.0 537.6,815.0 539.4,815.0 539.4,815.0 541.2,815.0 541.2,815.0 543.0,815.0 543.0,815.0 544.8,815.0 544.8,815.0 546.6,815.0 546.6,815.0 548.4,815.0 548.4,815.0 550.2,815.0 550.2,815.0 552.0,815.0 552,867" fill="#6BBCEB"/>
<polygon points="51,867 51.0,815.0 52.8,815.0 52.8,815.0 54.6,815.0 54.6,815.0 56.4,815.0 56.4,815.0 58.2,815.0 58.2,815.0 60.0,815.0 60.0,815.0 61.8,815.0 61.8,815.0 63.6,815.0 63.6,815.0 65.4,815.0 65.4,815.0 67.2,815.0 67.2,815.0 69.0,815.0 69.0,815.0 70.8,815.0 70.8,815.0 72.6,815.0 72.6,815.0 74.4,815.0 74.4,815.0 76.2,815.0 76.2,815.0 78.0,815.0 78.0,815.0 79.8,815.0 79.8,815.0 81.6,815.0 81.6,815.0 83.4,815.0 83.4,815.0 85.2,815.0 85.2,815.0 87.0,815.0 87.0,815.0 88.8,815.0 88.8,815.0 90.6,815.0 90.6,815.0 92.4,815.0 92.4,815.0 94.3,815.0 94.3,815.0 96.1,815.0 96.1,841.6 97.9,841.6 97.9,836.3 99.7,836.3 99.7,826.3 101.5,826.3 101.5,835.8 103.3,835.8 103.3,845.0 105.1,845.0 105.1,841.4 106.9,841.4 106.9,831.1 108.7,831.1 108.7,831.8 110.5,831.8 110.5,839.6 112.3,839.6 112.3,837.2 114.1,837.2 114.1,829.6 115.9,829.6 115.9,838.6 117.7,838.6 117.7,842.6 119.5,842.6 119.5,848.4 121.3,848.4 121.3,849.9 123.1,849.9 123.1,848.1 124.9,848.1 124.9,841.0 126.7,841.0 126.7,815.9 128.5,815.9 128.5,831.7 130.3,831.7 130.3,825.2 132.1,825.2 132.1,826.6 133.9,826.6 133.9,867.0 135.7,867.0 135.7,852.2 137.5,852.2 137.5,851.1 139.3,851.1 139.3,835.4 141.1,835.4 141.1,848.3 142.9,848.3 142.9,844.3 144.7,844.3 144.7,849.7 146.5,849.7 146.5,841.9 148.3,841.9 148.3,853.7 150.1,853.7 150.1,865.0 151.9,865.0 151.9,864.1 153.7,864.1 153.7,864.7 155.5,864.7 155.5,865.6 157.3,865.6 157.3,864.6 159.1,864.6 159.1,864.3 160.9,864.3 160.9,865.7 162.7,865.7 162.7,865.0 164.5,865.0 164.5,865.1 166.3,865.1 166.3,864.5 168.1,864.5 168.1,864.9 169.9,864.9 169.9,865.3 171.7,865.3 171.7,849.3 173.5,849.3 173.5,864.8 175.3,864.8 175.3,829.4 177.2,829.4 177.2,841.4 179.0,841.4 179.0,837.1 180.8,837.1 180.8,837.3 182.6,837.3 182.6,836.5 184.4,836.5 184.4,839.3 186.2,839.3 186.2,838.0 188.0,838.0 188.0,841.1 189.8,841.1 189.8,839.9 191.6,839.9 191.6,843.8 193.4,843.8 193.4,837.6 195.2,837.6 195.2,843.2 197.0,843.2 197.0,841.0 198.8,841.0 198.8,839.9 200.6,839.9 200.6,837.2 202.4,837.2 202.4,838.4 204.2,838.4 204.2,838.5 206.0,838.5 206.0,838.8 207.8,838.8 207.8,837.2 209.6,837.2 209.6,836.3 211.4,836.3 211.4,840.1 213.2,840.1 213.2,838.0 215.0,838.0 215.0,831.1 216.8,831.1 216.8,826.9 218.6,826.9 218.6,826.1 220.4,826.1 220.4,830.4 222.2,830.4 222.2,827.5 224.0,827.5 224.0,836.6 225.8,836.6 225.8,830.0 227.6,830.0 227.6,820.4 229.4,820.4 229.4,822.3 231.2,822.3 231.2,820.7 233.0,820.7 233.0,828.9 234.8,828.9 234.8,821.0 236.6,821.0 236.6,820.1 238.4,820.1 238.4,815.0 240.2,815.0 240.2,815.0 242.0,815.0 242.0,815.0 243.8,815.0 243.8,852.4 245.6,852.4 245.6,852.2 247.4,852.2 247.4,846.8 249.2,846.8 249.2,850.2 251.0,850.2 251.0,845.0 252.8,845.0 252.8,861.3 254.6,861.3 254.6,862.8 256.4,862.8 256.4,858.3 258.2,858.3 258.2,863.9 260.1,863.9 260.1,862.6 261.9,862.6 261.9,855.8 263.7,855.8 263.7,845.2 265.5,845.2 265.5,861.2 267.3,861.2 267.3,863.3 269.1,863.3 269.1,862.7 270.9,862.7 270.9,863.6 272.7,863.6 272.7,860.9 274.5,860.9 274.5,849.9 276.3,849.9 276.3,845.5 278.1,845.5 278.1,848.1 279.9,848.1 279.9,840.8 281.7,840.8 281.7,838.0 283.5,838.0 283.5,839.0 285.3,839.0 285.3,840.0 287.1,840.0 287.1,838.5 288.9,838.5 288.9,838.0 290.7,838.0 290.7,867.0 292.5,867.0 292.5,867.0 294.3,867.0 294.3,837.2 296.1,837.2 296.1,836.2 297.9,836.2 297.9,837.7 299.7,837.7 299.7,837.4 301.5,837.4 301.5,815.0 303.3,815.0 303.3,815.0 305.1,815.0 305.1,822.5 306.9,822.5 306.9,826.7 308.7,826.7 308.7,826.5 310.5,826.5 310.5,823.0 312.3,823.0 312.3,822.0 314.1,822.0 314.1,824.5 315.9,824.5 315.9,820.7 317.7,820.7 317.7,841.9 319.5,841.9 319.5,821.5 321.3,821.5 321.3,821.3 323.1,821.3 323.1,819.2 324.9,819.2 324.9,822.2 326.7,822.2 326.7,821.4 328.5,821.4 328.5,822.1 330.3,822.1 330.3,820.2 332.1,820.2 332.1,820.6 333.9,820.6 333.9,819.4 335.7,819.4 335.7,820.8 337.5,820.8 337.5,816.7 339.3,816.7 339.3,819.4 341.1,819.4 341.1,819.7 342.9,819.7 342.9,819.7 344.8,819.7 344.8,819.5 346.6,819.5 346.6,818.7 348.4,818.7 348.4,819.1 350.2,819.1 350.2,819.9 352.0,819.9 352.0,819.0 353.8,819.0 353.8,819.2 355.6,819.2 355.6,817.9 357.4,817.9 357.4,819.1 359.2,819.1 359.2,819.4 361.0,819.4 361.0,818.4 362.8,818.4 362.8,819.3 364.6,819.3 364.6,819.1 366.4,819.1 366.4,818.7 368.2,818.7 368.2,817.0 370.0,817.0 370.0,817.1 371.8,817.1 371.8,817.0 373.6,817.0 373.6,816.7 375.4,816.7 375.4,816.4 377.2,816.4 377.2,816.2 379.0,816.2 379.0,816.6 380.8,816.6 380.8,816.2 382.6,816.2 382.6,816.0 384.4,816.0 384.4,816.1 386.2,816.1 386.2,816.5 388.0,816.5 388.0,815.6 389.8,815.6 389.8,816.0 391.6,816.0 391.6,816.4 393.4,816.4 393.4,816.5 395.2,816.5 395.2,816.8 397.0,816.8 397.0,815.3 398.8,815.3 398.8,816.8 400.6,816.8 400.6,815.1 402.4,815.1 402.4,816.3 404.2,816.3 404.2,816.0 406.0,816.0 406.0,816.8 407.8,816.8 407.8,816.5 409.6,816.5 409.6,818.3 411.4,818.3 411.4,816.1 413.2,816.1 413.2,815.9 415.0,815.9 415.0,815.8 416.8,815.8 416.8,817.0 418.6,817.0 418.6,816.0 420.4,816.0 420.4,816.6 422.2,816.6 422.2,815.8 424.0,815.8 424.0,816.0 425.8,816.0 425.8,816.6 427.7,816.6 427.7,816.6 429.5,816.6 429.5,816.1 431.3,816.1 431.3,817.3 433.1,817.3 433.1,816.1 434.9,816.1 434.9,822.0 436.7,822.0 436.7,822.6 438.5,822.6 438.5,816.0 440.3,816.0 440.3,816.4 442.1,816.4 442.1,815.8 443.9,815.8 443.9,816.3 445.7,816.3 445.7,816.4 447.5,816.4 447.5,815.8 449.3,815.8 449.3,815.6 451.1,815.6 451.1,815.6 452.9,815.6 452.9,816.2 454.7,816.2 454.7,816.5 456.5,816.5 456.5,816.7 458.3,816.7 458.3,815.6 460.1,815.6 460.1,815.8 461.9,815.8 461.9,818.6 463.7,818.6 463.7,816.1 465.5,816.1 465.5,815.6 467.3,815.6 467.3,816.5 469.1,816.5 469.1,815.6 470.9,815.6 470.9,816.0 472.7,816.0 472.7,815.7 474.5,815.7 474.5,816.5 476.3,816.5 476.3,815.8 478.1,815.8 478.1,816.1 479.9,816.1 479.9,816.4 481.7,816.4 481.7,816.1 483.5,816.1 483.5,815.6 485.3,815.6 485.3,815.8 487.1,815.8 487.1,815.5 488.9,815.5 488.9,816.4 490.7,816.4 490.7,816.4 492.5,816.4 492.5,815.7 494.3,815.7 494.3,816.6 496.1,816.6 496.1,816.6 497.9,816.6 497.9,815.6 499.7,815.6 499.7,816.0 501.5,816.0 501.5,816.7 503.3,816.7 503.3,817.0 505.1,817.0 505.1,816.1 506.9,816.1 506.9,816.7 508.7,816.7 508.7,817.0 510.6,817.0 510.6,816.9 512.4,816.9 512.4,816.5 514.2,816.5 514.2,816.9 516.0,816.9 516.0,816.9 517.8,816.9 517.8,816.8 519.6,816.8 519.6,817.0 521.4,817.0 521.4,816.1 523.2,816.1 523.2,815.7 525.0,815.7 525.0,815.6 526.8,815.6 526.8,816.0 528.6,816.0 528.6,816.5 530.4,816.5 530.4,816.2 532.2,816.2 532.2,817.1 534.0,817.1 534.0,816.1 535.8,816.1 535.8,815.8 537.6,815.8 537.6,815.8 539.4,815.8 539.4,815.0 541.2,815.0 541.2,815.5 543.0,815.5 543.0,815.9 544.8,815.9 544.8,816.5 546.6,816.5 546.6,816.6 548.4,816.6 548.4,816.3 550.2,816.3 550.2,816.9 552.0,816.9 552,867" fill="#F5B43A"/>
<polygon points="51,867 51.0,867.0 52.8,867.0 52.8,867.0 54.6,867.0 54.6,867.0 56.4,867.0 56.4,867.0 58.2,867.0 58.2,867.0 60.0,867.0 60.0,867.0 61.8,867.0 61.8,867.0 63.6,867.0 63.6,867.0 65.4,867.0 65.4,867.0 67.2,867.0 67.2,867.0 69.0,867.0 69.0,867.0 70.8,867.0 70.8,867.0 72.6,867.0 72.6,867.0 74.4,867.0 74.4,867.0 76.2,867.0 76.2,867.0 78.0,867.0 78.0,867.0 79.8,867.0 79.8,867.0 81.6,867.0 81.6,867.0 83.4,867.0 83.4,867.0 85.2,867.0 85.2,867.0 87.0,867.0 87.0,867.0 88.8,867.0 88.8,867.0 90.6,867.0 90.6,867.0 92.4,867.0 92.4,867.0 94.3,867.0 94.3,867.0 96.1,867.0 96.1,867.0 97.9,867.0 97.9,867.0 99.7,867.0 99.7,867.0 101.5,867.0 101.5,867.0 103.3,867.0 103.3,867.0 105.1,867.0 105.1,867.0 106.9,867.0 106.9,848.5 108.7,848.5 108.7,854.3 110.5,854.3 110.5,854.1 112.3,854.1 112.3,853.8 114.1,853.8 114.1,843.5 115.9,843.5 115.9,855.4 117.7,855.4 117.7,864.2 119.5,864.2 119.5,864.9 121.3,864.9 121.3,864.7 123.1,864.7 123.1,863.5 124.9,863.5 124.9,857.5 126.7,857.5 126.7,832.9 128.5,832.9 128.5,838.4 130.3,838.4 130.3,833.0 132.1,833.0 132.1,833.9 133.9,833.9 133.9,867.0 135.7,867.0 135.7,854.3 137.5,854.3 137.5,853.8 139.3,853.8 139.3,837.7 141.1,837.7 141.1,851.0 142.9,851.0 142.9,845.8 144.7,845.8 144.7,855.4 146.5,855.4 146.5,843.7 148.3,843.7 148.3,855.2 150.1,855.2 150.1,865.0 151.9,865.0 151.9,864.1 153.7,864.1 153.7,864.7 155.5,864.7 155.5,865.6 157.3,865.6 157.3,864.6 159.1,864.6 159.1,864.3 160.9,864.3 160.9,865.7 162.7,865.7 162.7,865.0 164.5,865.0 164.5,865.1 166.3,865.1 166.3,864.5 168.1,864.5 168.1,864.9 169.9,864.9 169.9,865.3 171.7,865.3 171.7,849.3 173.5,849.3 173.5,864.8 175.3,864.8 175.3,829.4 177.2,829.4 177.2,841.4 179.0,841.4 179.0,837.1 180.8,837.1 180.8,837.3 182.6,837.3 182.6,836.5 184.4,836.5 184.4,839.3 186.2,839.3 186.2,838.0 188.0,838.0 188.0,841.1 189.8,841.1 189.8,839.9 191.6,839.9 191.6,843.8 193.4,843.8 193.4,837.6 195.2,837.6 195.2,843.2 197.0,843.2 197.0,841.0 198.8,841.0 198.8,839.9 200.6,839.9 200.6,837.2 202.4,837.2 202.4,838.4 204.2,838.4 204.2,839.9 206.0,839.9 206.0,842.3 207.8,842.3 207.8,841.5 209.6,841.5 209.6,838.5 211.4,838.5 211.4,840.1 213.2,840.1 213.2,838.0 215.0,838.0 215.0,831.1 216.8,831.1 216.8,826.9 218.6,826.9 218.6,826.1 220.4,826.1 220.4,830.4 222.2,830.4 222.2,827.5 224.0,827.5 224.0,836.6 225.8,836.6 225.8,830.0 227.6,830.0 227.6,820.4 229.4,820.4 229.4,822.3 231.2,822.3 231.2,820.7 233.0,820.7 233.0,828.9 234.8,828.9 234.8,821.0 236.6,821.0 236.6,820.1 238.4,820.1 238.4,815.0 240.2,815.0 240.2,815.0 242.0,815.0 242.0,815.0 243.8,815.0 243.8,852.4 245.6,852.4 245.6,852.2 247.4,852.2 247.4,846.8 249.2,846.8 249.2,850.2 251.0,850.2 251.0,845.0 252.8,845.0 252.8,861.3 254.6,861.3 254.6,862.8 256.4,862.8 256.4,858.3 258.2,858.3 258.2,863.9 260.1,863.9 260.1,862.6 261.9,862.6 261.9,855.8 263.7,855.8 263.7,845.2 265.5,845.2 265.5,861.2 267.3,861.2 267.3,863.3 269.1,863.3 269.1,862.7 270.9,862.7 270.9,863.6 272.7,863.6 272.7,860.9 274.5,860.9 274.5,849.9 276.3,849.9 276.3,845.5 278.1,845.5 278.1,848.1 279.9,848.1 279.9,840.8 281.7,840.8 281.7,838.0 283.5,838.0 283.5,839.0 285.3,839.0 285.3,840.0 287.1,840.0 287.1,838.5 288.9,838.5 288.9,838.0 290.7,838.0 290.7,867.0 292.5,867.0 292.5,867.0 294.3,867.0 294.3,837.2 296.1,837.2 296.1,836.2 297.9,836.2 297.9,837.7 299.7,837.7 299.7,837.4 301.5,837.4 301.5,815.0 303.3,815.0 303.3,815.0 305.1,815.0 305.1,822.5 306.9,822.5 306.9,826.7 308.7,826.7 308.7,826.5 310.5,826.5 310.5,823.0 312.3,823.0 312.3,822.0 314.1,822.0 314.1,824.5 315.9,824.5 315.9,820.7 317.7,820.7 317.7,841.9 319.5,841.9 319.5,821.5 321.3,821.5 321.3,821.3 323.1,821.3 323.1,819.2 324.9,819.2 324.9,822.2 326.7,822.2 326.7,821.4 328.5,821.4 328.5,822.1 330.3,822.1 330.3,820.2 332.1,820.2 332.1,820.6 333.9,820.6 333.9,819.4 335.7,819.4 335.7,820.8 337.5,820.8 337.5,816.7 339.3,816.7 339.3,819.4 341.1,819.4 341.1,819.7 342.9,819.7 342.9,819.7 344.8,819.7 344.8,819.5 346.6,819.5 346.6,818.7 348.4,818.7 348.4,819.1 350.2,819.1 350.2,819.9 352.0,819.9 352.0,819.0 353.8,819.0 353.8,819.2 355.6,819.2 355.6,817.9 357.4,817.9 357.4,819.1 359.2,819.1 359.2,819.4 361.0,819.4 361.0,818.4 362.8,818.4 362.8,819.3 364.6,819.3 364.6,819.1 366.4,819.1 366.4,818.7 368.2,818.7 368.2,817.0 370.0,817.0 370.0,817.1 371.8,817.1 371.8,817.0 373.6,817.0 373.6,816.7 375.4,816.7 375.4,816.4 377.2,816.4 377.2,816.2 379.0,816.2 379.0,816.6 380.8,816.6 380.8,816.2 382.6,816.2 382.6,816.0 384.4,816.0 384.4,816.1 386.2,816.1 386.2,816.5 388.0,816.5 388.0,815.6 389.8,815.6 389.8,816.0 391.6,816.0 391.6,816.4 393.4,816.4 393.4,816.5 395.2,816.5 395.2,816.8 397.0,816.8 397.0,815.3 398.8,815.3 398.8,816.8 400.6,816.8 400.6,815.1 402.4,815.1 402.4,816.3 404.2,816.3 404.2,816.0 406.0,816.0 406.0,816.8 407.8,816.8 407.8,816.5 409.6,816.5 409.6,818.3 411.4,818.3 411.4,816.1 413.2,816.1 413.2,815.9 415.0,815.9 415.0,815.8 416.8,815.8 416.8,817.0 418.6,817.0 418.6,816.0 420.4,816.0 420.4,816.6 422.2,816.6 422.2,815.8 424.0,815.8 424.0,816.0 425.8,816.0 425.8,816.6 427.7,816.6 427.7,816.6 429.5,816.6 429.5,816.1 431.3,816.1 431.3,817.3 433.1,817.3 433.1,816.1 434.9,816.1 434.9,822.0 436.7,822.0 436.7,822.6 438.5,822.6 438.5,816.0 440.3,816.0 440.3,816.4 442.1,816.4 442.1,815.8 443.9,815.8 443.9,816.3 445.7,816.3 445.7,816.4 447.5,816.4 447.5,815.8 449.3,815.8 449.3,815.6 451.1,815.6 451.1,815.6 452.9,815.6 452.9,816.2 454.7,816.2 454.7,816.5 456.5,816.5 456.5,816.7 458.3,816.7 458.3,815.6 460.1,815.6 460.1,815.8 461.9,815.8 461.9,818.6 463.7,818.6 463.7,816.1 465.5,816.1 465.5,815.6 467.3,815.6 467.3,816.5 469.1,816.5 469.1,815.6 470.9,815.6 470.9,816.0 472.7,816.0 472.7,815.7 474.5,815.7 474.5,816.5 476.3,816.5 476.3,815.8 478.1,815.8 478.1,816.1 479.9,816.1 479.9,816.4 481.7,816.4 481.7,816.1 483.5,816.1 483.5,815.6 485.3,815.6 485.3,815.8 487.1,815.8 487.1,815.5 488.9,815.5 488.9,816.4 490.7,816.4 490.7,816.4 492.5,816.4 492.5,815.7 494.3,815.7 494.3,816.6 496.1,816.6 496.1,816.6 497.9,816.6 497.9,815.6 499.7,815.6 499.7,816.0 501.5,816.0 501.5,816.7 503.3,816.7 503.3,817.0 505.1,817.0 505.1,816.1 506.9,816.1 506.9,816.7 508.7,816.7 508.7,817.0 510.6,817.0 510.6,816.9 512.4,816.9 512.4,816.5 514.2,816.5 514.2,816.9 516.0,816.9 516.0,816.9 517.8,816.9 517.8,816.8 519.6,816.8 519.6,817.0 521.4,817.0 521.4,816.1 523.2,816.1 523.2,815.7 525.0,815.7 525.0,815.6 526.8,815.6 526.8,816.0 528.6,816.0 528.6,816.5 530.4,816.5 530.4,816.2 532.2,816.2 532.2,817.1 534.0,817.1 534.0,816.1 535.8,816.1 535.8,815.8 537.6,815.8 537.6,815.8 539.4,815.8 539.4,815.0 541.2,815.0 541.2,815.5 543.0,815.5 543.0,815.9 544.8,815.9 544.8,816.5 546.6,816.5 546.6,816.6 548.4,816.6 548.4,816.3 550.2,816.3 550.2,816.9 552.0,816.9 552,867" fill="#3256A5"/>
<polygon points="51,867 51.0,867.0 52.8,867.0 52.8,867.0 54.6,867.0 54.6,867.0 56.4,867.0 56.4,867.0 58.2,867.0 58.2,867.0 60.0,867.0 60.0,867.0 61.8,867.0 61.8,867.0 63.6,867.0 63.6,867.0 65.4,867.0 65.4,867.0 67.2,867.0 67.2,867.0 69.0,867.0 69.0,867.0 70.8,867.0 70.8,867.0 72.6,867.0 72.6,867.0 74.4,867.0 74.4,867.0 76.2,867.0 76.2,867.0 78.0,867.0 78.0,867.0 79.8,867.0 79.8,867.0 81.6,867.0 81.6,867.0 83.4,867.0 83.4,867.0 85.2,867.0 85.2,867.0 87.0,867.0 87.0,867.0 88.8,867.0 88.8,867.0 90.6,867.0 90.6,867.0 92.4,867.0 92.4,867.0 94.3,867.0 94.3,867.0 96.1,867.0 96.1,867.0 97.9,867.0 97.9,867.0 99.7,867.0 99.7,867.0 101.5,867.0 101.5,867.0 103.3,867.0 103.3,867.0 105.1,867.0 105.1,867.0 106.9,867.0 106.9,849.6 108.7,849.6 108.7,854.3 110.5,854.3 110.5,855.7 112.3,855.7 112.3,857.4 114.1,857.4 114.1,852.3 115.9,852.3 115.9,857.1 117.7,857.1 117.7,864.2 119.5,864.2 119.5,864.9 121.3,864.9 121.3,864.7 123.1,864.7 123.1,863.5 124.9,863.5 124.9,857.5 126.7,857.5 126.7,832.9 128.5,832.9 128.5,838.4 130.3,838.4 130.3,833.0 132.1,833.0 132.1,833.9 133.9,833.9 133.9,867.0 135.7,867.0 135.7,858.4 137.5,858.4 137.5,859.4 139.3,859.4 139.3,850.8 141.1,850.8 141.1,857.0 142.9,857.0 142.9,860.0 144.7,860.0 144.7,857.7 146.5,857.7 146.5,851.5 148.3,851.5 148.3,859.0 150.1,859.0 150.1,865.9 151.9,865.9 151.9,865.5 153.7,865.5 153.7,865.9 155.5,865.9 155.5,867.0 157.3,867.0 157.3,865.8 159.1,865.8 159.1,865.7 160.9,865.7 160.9,866.5 162.7,866.5 162.7,865.8 164.5,865.8 164.5,866.0 166.3,866.0 166.3,865.9 168.1,865.9 168.1,866.1 169.9,866.1 169.9,866.2 171.7,866.2 171.7,865.5 173.5,865.5 173.5,865.7 175.3,865.7 175.3,841.8 177.2,841.8 177.2,843.9 179.0,843.9 179.0,839.4 180.8,839.4 180.8,839.3 182.6,839.3 182.6,843.5 184.4,843.5 184.4,840.6 186.2,840.6 186.2,840.6 188.0,840.6 188.0,844.1 189.8,844.1 189.8,842.8 191.6,842.8 191.6,846.1 193.4,846.1 193.4,840.4 195.2,840.4 195.2,845.9 197.0,845.9 197.0,843.9 198.8,843.9 198.8,842.9 200.6,842.9 200.6,839.8 202.4,839.8 202.4,841.1 204.2,841.1 204.2,864.7 206.0,864.7 206.0,864.4 207.8,864.4 207.8,864.3 209.6,864.3 209.6,864.0 211.4,864.0 211.4,864.1 213.2,864.1 213.2,864.4 215.0,864.4 215.0,859.2 216.8,859.2 216.8,861.3 218.6,861.3 218.6,859.1 220.4,859.1 220.4,857.7 222.2,857.7 222.2,860.3 224.0,860.3 224.0,861.2 225.8,861.2 225.8,851.2 227.6,851.2 227.6,840.8 229.4,840.8 229.4,844.1 231.2,844.1 231.2,845.7 233.0,845.7 233.0,850.0 234.8,850.0 234.8,851.0 236.6,851.0 236.6,844.9 238.4,844.9 238.4,867.0 240.2,867.0 240.2,867.0 242.0,867.0 242.0,867.0 243.8,867.0 243.8,858.8 245.6,858.8 245.6,857.1 247.4,857.1 247.4,853.7 249.2,853.7 249.2,854.5 251.0,854.5 251.0,853.4 252.8,853.4 252.8,863.1 254.6,863.1 254.6,865.4 256.4,865.4 256.4,865.0 258.2,865.0 258.2,867.0 260.1,867.0 260.1,864.6 261.9,864.6 261.9,865.6 263.7,865.6 263.7,847.3 265.5,847.3 265.5,863.0 267.3,863.0 267.3,865.0 269.1,865.0 269.1,865.0 270.9,865.0 270.9,865.4 272.7,865.4 272.7,864.7 274.5,864.7 274.5,852.3 276.3,852.3 276.3,847.6 278.1,847.6 278.1,865.7 279.9,865.7 279.9,867.0 281.7,867.0 281.7,867.0 283.5,867.0 283.5,867.0 285.3,867.0 285.3,867.0 287.1,867.0 287.1,867.0 288.9,867.0 288.9,867.0 290.7,867.0 290.7,867.0 292.5,867.0 292.5,867.0 294.3,867.0 294.3,867.0 296.1,867.0 296.1,867.0 297.9,867.0 297.9,867.0 299.7,867.0 299.7,867.0 301.5,867.0 301.5,867.0 303.3,867.0 303.3,867.0 305.1,867.0 305.1,822.8 306.9,822.8 306.9,826.9 308.7,826.9 308.7,826.7 310.5,826.7 310.5,823.3 312.3,823.3 312.3,822.3 314.1,822.3 314.1,824.7 315.9,824.7 315.9,820.9 317.7,820.9 317.7,841.9 319.5,841.9 319.5,821.8 321.3,821.8 321.3,821.5 323.1,821.5 323.1,840.7 324.9,840.7 324.9,822.5 326.7,822.5 326.7,821.7 328.5,821.7 328.5,822.4 330.3,822.4 330.3,820.4 332.1,820.4 332.1,820.9 333.9,820.9 333.9,830.0 335.7,830.0 335.7,821.0 337.5,821.0 337.5,817.0 339.3,817.0 339.3,819.6 341.1,819.6 341.1,820.0 342.9,820.0 342.9,819.9 344.8,819.9 344.8,819.7 346.6,819.7 346.6,819.0 348.4,819.0 348.4,819.4 350.2,819.4 350.2,820.2 352.0,820.2 352.0,819.3 353.8,819.3 353.8,819.5 355.6,819.5 355.6,818.2 357.4,818.2 357.4,819.3 359.2,819.3 359.2,819.6 361.0,819.6 361.0,818.7 362.8,818.7 362.8,819.6 364.6,819.6 364.6,819.1 366.4,819.1 366.4,818.9 368.2,818.9 368.2,835.4 370.0,835.4 370.0,817.3 371.8,817.3 371.8,817.0 373.6,817.0 373.6,816.7 375.4,816.7 375.4,816.4 377.2,816.4 377.2,816.2 379.0,816.2 379.0,816.6 380.8,816.6 380.8,816.2 382.6,816.2 382.6,816.0 384.4,816.0 384.4,816.1 386.2,816.1 386.2,816.5 388.0,816.5 388.0,815.6 389.8,815.6 389.8,816.0 391.6,816.0 391.6,816.4 393.4,816.4 393.4,816.5 395.2,816.5 395.2,816.8 397.0,816.8 397.0,815.3 398.8,815.3 398.8,816.8 400.6,816.8 400.6,815.1 402.4,815.1 402.4,816.3 404.2,816.3 404.2,816.0 406.0,816.0 406.0,816.8 407.8,816.8 407.8,816.5 409.6,816.5 409.6,818.3 411.4,818.3 411.4,816.1 413.2,816.1 413.2,815.9 415.0,815.9 415.0,815.8 416.8,815.8 416.8,817.0 418.6,817.0 418.6,816.0 420.4,816.0 420.4,816.6 422.2,816.6 422.2,815.8 424.0,815.8 424.0,816.0 425.8,816.0 425.8,816.6 427.7,816.6 427.7,816.6 429.5,816.6 429.5,816.1 431.3,816.1 431.3,817.3 433.1,817.3 433.1,816.1 434.9,816.1 434.9,822.0 436.7,822.0 436.7,822.6 438.5,822.6 438.5,816.0 440.3,816.0 440.3,816.4 442.1,816.4 442.1,815.8 443.9,815.8 443.9,816.3 445.7,816.3 445.7,816.4 447.5,816.4 447.5,815.8 449.3,815.8 449.3,815.6 451.1,815.6 451.1,815.6 452.9,815.6 452.9,816.2 454.7,816.2 454.7,816.5 456.5,816.5 456.5,816.7 458.3,816.7 458.3,815.6 460.1,815.6 460.1,815.8 461.9,815.8 461.9,818.6 463.7,818.6 463.7,816.1 465.5,816.1 465.5,815.6 467.3,815.6 467.3,816.5 469.1,816.5 469.1,815.6 470.9,815.6 470.9,816.0 472.7,816.0 472.7,815.7 474.5,815.7 474.5,816.5 476.3,816.5 476.3,815.8 478.1,815.8 478.1,816.1 479.9,816.1 479.9,816.4 481.7,816.4 481.7,816.1 483.5,816.1 483.5,815.6 485.3,815.6 485.3,815.8 487.1,815.8 487.1,815.5 488.9,815.5 488.9,816.4 490.7,816.4 490.7,816.4 492.5,816.4 492.5,815.7 494.3,815.7 494.3,816.6 496.1,816.6 496.1,816.6 497.9,816.6 497.9,815.6 499.7,815.6 499.7,816.0 501.5,816.0 501.5,816.7 503.3,816.7 503.3,817.0 505.1,817.0 505.1,816.1 506.9,816.1 506.9,816.7 508.7,816.7 508.7,817.0 510.6,817.0 510.6,816.9 512.4,816.9 512.4,816.5 514.2,816.5 514.2,816.9 516.0,816.9 516.0,816.9 517.8,816.9 517.8,816.8 519.6,816.8 519.6,817.0 521.4,817.0 521.4,816.1 523.2,816.1 523.2,815.7 525.0,815.7 525.0,815.6 526.8,815.6 526.8,816.0 528.6,816.0 528.6,816.5 530.4,816.5 530.4,816.2 532.2,816.2 532.2,817.1 534.0,817.1 534.0,816.1 535.8,816.1 535.8,815.8 537.6,815.8 537.6,815.8 539.4,815.8 539.4,815.0 541.2,815.0 541.2,815.5 543.0,815.5 543.0,815.9 544.8,815.9 544.8,816.5 546.6,816.5 546.6,816.6 548.4,816.6 548.4,816.3 550.2,816.3 550.2,816.9 552.0,816.9 552,867" fill="#8D4B98"/>
<rect x="51" y="867" width="501" height="52" fill="#69B83D"/>
<polygon points="51,919 51.0,867.0 52.8,867.0 52.8,867.0 54.6,867.0 54.6,867.0 56.4,867.0 56.4,867.0 58.2,867.0 58.2,867.0 60.0,867.0 60.0,867.0 61.8,867.0 61.8,867.0 63.6,867.0 63.6,867.0 65.4,867.0 65.4,867.0 67.2,867.0 67.2,867.0 69.0,867.0 69.0,867.0 70.8,867.0 70.8,867.0 72.6,867.0 72.6,867.0 74.4,867.0 74.4,867.0 76.2,867.0 76.2,867.0 78.0,867.0 78.0,867.0 79.8,867.0 79.8,867.0 81.6,867.0 81.6,867.0 83.4,867.0 83.4,867.0 85.2,867.0 85.2,867.0 87.0,867.0 87.0,867.0 88.8,867.0 88.8,867.0 90.6,867.0 90.6,867.0 92.4,867.0 92.4,867.0 94.3,867.0 94.3,867.0 96.1,867.0 96.1,892.3 97.9,892.3 97.9,888.8 99.7,888.8 99.7,888.7 101.5,888.7 101.5,893.4 103.3,893.4 103.3,892.2 105.1,892.2 105.1,896.1 106.9,896.1 106.9,872.8 108.7,872.8 108.7,877.0 110.5,877.0 110.5,867.0 112.3,867.0 112.3,879.7 114.1,879.7 114.1,875.5 115.9,875.5 115.9,883.5 117.7,883.5 117.7,883.0 119.5,883.0 119.5,886.2 121.3,886.2 121.3,869.0 123.1,869.0 123.1,888.1 124.9,888.1 124.9,884.2 126.7,884.2 126.7,891.5 128.5,891.5 128.5,876.1 130.3,876.1 130.3,867.3 132.1,867.3 132.1,867.0 133.9,867.0 133.9,874.5 135.7,874.5 135.7,880.5 137.5,880.5 137.5,881.8 139.3,881.8 139.3,875.7 141.1,875.7 141.1,894.2 142.9,894.2 142.9,897.9 144.7,897.9 144.7,896.4 146.5,896.4 146.5,891.5 148.3,891.5 148.3,890.9 150.1,890.9 150.1,911.9 151.9,911.9 151.9,890.8 153.7,890.8 153.7,903.2 155.5,903.2 155.5,911.9 157.3,911.9 157.3,888.5 159.1,888.5 159.1,893.0 160.9,893.0 160.9,913.6 162.7,913.6 162.7,912.2 164.5,912.2 164.5,914.4 166.3,914.4 166.3,909.1 168.1,909.1 168.1,914.3 169.9,914.3 169.9,910.7 171.7,910.7 171.7,910.8 173.5,910.8 173.5,887.0 175.3,887.0 175.3,911.8 177.2,911.8 177.2,867.0 179.0,867.0 179.0,883.7 180.8,883.7 180.8,873.6 182.6,873.6 182.6,877.4 184.4,877.4 184.4,877.5 186.2,877.5 186.2,867.0 188.0,867.0 188.0,867.0 189.8,867.0 189.8,867.0 191.6,867.0 191.6,867.0 193.4,867.0 193.4,867.0 195.2,867.0 195.2,867.0 197.0,867.0 197.0,867.0 198.8,867.0 198.8,867.0 200.6,867.0 200.6,867.0 202.4,867.0 202.4,867.0 204.2,867.0 204.2,884.9 206.0,884.9 206.0,884.9 207.8,884.9 207.8,887.2 209.6,887.2 209.6,891.4 211.4,891.4 211.4,888.9 213.2,888.9 213.2,890.6 215.0,890.6 215.0,868.8 216.8,868.8 216.8,867.0 218.6,867.0 218.6,867.0 220.4,867.0 220.4,867.0 222.2,867.0 222.2,867.0 224.0,867.0 224.0,867.0 225.8,867.0 225.8,871.2 227.6,871.2 227.6,867.9 229.4,867.9 229.4,870.8 231.2,870.8 231.2,867.9 233.0,867.9 233.0,867.0 234.8,867.0 234.8,867.0 236.6,867.0 236.6,867.0 238.4,867.0 238.4,867.0 240.2,867.0 240.2,867.0 242.0,867.0 242.0,867.0 243.8,867.0 243.8,867.0 245.6,867.0 245.6,867.0 247.4,867.0 247.4,869.1 249.2,869.1 249.2,867.3 251.0,867.3 251.0,872.7 252.8,872.7 252.8,873.5 254.6,873.5 254.6,880.2 256.4,880.2 256.4,867.0 258.2,867.0 258.2,880.4 260.1,880.4 260.1,867.0 261.9,867.0 261.9,868.7 263.7,868.7 263.7,867.0 265.5,867.0 265.5,867.0 267.3,867.0 267.3,867.0 269.1,867.0 269.1,868.9 270.9,868.9 270.9,867.0 272.7,867.0 272.7,867.0 274.5,867.0 274.5,867.0 276.3,867.0 276.3,887.4 278.1,887.4 278.1,881.8 279.9,881.8 279.9,867.0 281.7,867.0 281.7,867.0 283.5,867.0 283.5,867.4 285.3,867.4 285.3,868.7 287.1,868.7 287.1,869.5 288.9,869.5 288.9,869.9 290.7,869.9 290.7,867.0 292.5,867.0 292.5,867.0 294.3,867.0 294.3,867.0 296.1,867.0 296.1,867.0 297.9,867.0 297.9,867.0 299.7,867.0 299.7,867.0 301.5,867.0 301.5,867.0 303.3,867.0 303.3,871.1 305.1,871.1 305.1,867.0 306.9,867.0 306.9,867.0 308.7,867.0 308.7,867.0 310.5,867.0 310.5,867.0 312.3,867.0 312.3,867.0 314.1,867.0 314.1,867.0 315.9,867.0 315.9,867.0 317.7,867.0 317.7,867.0 319.5,867.0 319.5,867.0 321.3,867.0 321.3,867.0 323.1,867.0 323.1,867.0 324.9,867.0 324.9,867.0 326.7,867.0 326.7,867.0 328.5,867.0 328.5,867.0 330.3,867.0 330.3,867.0 332.1,867.0 332.1,867.0 333.9,867.0 333.9,867.0 335.7,867.0 335.7,867.0 337.5,867.0 337.5,867.0 339.3,867.0 339.3,867.0 341.1,867.0 341.1,867.0 342.9,867.0 342.9,867.0 344.8,867.0 344.8,867.0 346.6,867.0 346.6,867.0 348.4,867.0 348.4,867.0 350.2,867.0 350.2,867.0 352.0,867.0 352.0,867.0 353.8,867.0 353.8,867.0 355.6,867.0 355.6,867.0 357.4,867.0 357.4,867.0 359.2,867.0 359.2,867.0 361.0,867.0 361.0,867.0 362.8,867.0 362.8,867.0 364.6,867.0 364.6,867.0 366.4,867.0 366.4,867.0 368.2,867.0 368.2,867.0 370.0,867.0 370.0,867.0 371.8,867.0 371.8,867.0 373.6,867.0 373.6,867.0 375.4,867.0 375.4,867.0 377.2,867.0 377.2,867.0 379.0,867.0 379.0,867.0 380.8,867.0 380.8,867.0 382.6,867.0 382.6,867.0 384.4,867.0 384.4,867.0 386.2,867.0 386.2,867.0 388.0,867.0 388.0,867.0 389.8,867.0 389.8,867.0 391.6,867.0 391.6,867.0 393.4,867.0 393.4,867.0 395.2,867.0 395.2,867.0 397.0,867.0 397.0,867.0 398.8,867.0 398.8,867.0 400.6,867.0 400.6,867.0 402.4,867.0 402.4,867.0 404.2,867.0 404.2,867.0 406.0,867.0 406.0,867.0 407.8,867.0 407.8,867.0 409.6,867.0 409.6,867.0 411.4,867.0 411.4,867.0 413.2,867.0 413.2,867.0 415.0,867.0 415.0,867.0 416.8,867.0 416.8,867.0 418.6,867.0 418.6,867.0 420.4,867.0 420.4,867.0 422.2,867.0 422.2,867.0 424.0,867.0 424.0,867.0 425.8,867.0 425.8,867.0 427.7,867.0 427.7,867.0 429.5,867.0 429.5,867.0 431.3,867.0 431.3,867.0 433.1,867.0 433.1,867.0 434.9,867.0 434.9,867.0 436.7,867.0 436.7,867.0 438.5,867.0 438.5,867.0 440.3,867.0 440.3,867.0 442.1,867.0 442.1,867.0 443.9,867.0 443.9,867.0 445.7,867.0 445.7,867.0 447.5,867.0 447.5,867.0 449.3,867.0 449.3,867.0 451.1,867.0 451.1,867.0 452.9,867.0 452.9,867.0 454.7,867.0 454.7,867.0 456.5,867.0 456.5,867.0 458.3,867.0 458.3,867.0 460.1,867.0 460.1,867.0 461.9,867.0 461.9,867.0 463.7,867.0 463.7,867.0 465.5,867.0 465.5,867.0 467.3,867.0 467.3,867.0 469.1,867.0 469.1,867.0 470.9,867.0 470.9,867.0 472.7,867.0 472.7,867.0 474.5,867.0 474.5,867.0 476.3,867.0 476.3,867.0 478.1,867.0 478.1,867.0 479.9,867.0 479.9,867.0 481.7,867.0 481.7,867.0 483.5,867.0 483.5,867.0 485.3,867.0 485.3,867.0 487.1,867.0 487.1,867.0 488.9,867.0 488.9,867.0 490.7,867.0 490.7,867.0 492.5,867.0 492.5,867.0 494.3,867.0 494.3,867.0 496.1,867.0 496.1,867.0 497.9,867.0 497.9,867.0 499.7,867.0 499.7,867.0 501.5,867.0 501.5,867.0 503.3,867.0 503.3,867.0 505.1,867.0 505.1,867.0 506.9,867.0 506.9,867.0 508.7,867.0 508.7,867.0 510.6,867.0 510.6,867.0 512.4,867.0 512.4,867.0 514.2,867.0 514.2,867.0 516.0,867.0 516.0,867.0 517.8,867.0 517.8,867.0 519.6,867.0 519.6,867.0 521.4,867.0 521.4,867.0 523.2,867.0 523.2,867.0 525.0,867.0 525.0,867.0 526.8,867.0 526.8,867.0 528.6,867.0 528.6,867.0 530.4,867.0 530.4,867.0 532.2,867.0 532.2,867.0 534.0,867.0 534.0,867.0 535.8,867.0 535.8,867.0 537.6,867.0 537.6,867.0 539.4,867.0 539.4,867.0 541.2,867.0 541.2,867.0 543.0,867.0 543.0,867.0 544.8,867.0 544.8,867.0 546.6,867.0 546.6,867.0 548.4,867.0 548.4,867.0 550.2,867.0 550.2,867.0 552.0,867.0 552,919" fill="#6BBCEB"/>
<polygon points="51,919 51.0,867.0 52.8,867.0 52.8,867.0 54.6,867.0 54.6,867.0 56.4,867.0 56.4,867.0 58.2,867.0 58.2,867.0 60.0,867.0 60.0,867.0 61.8,867.0 61.8,867.0 63.6,867.0 63.6,867.0 65.4,867.0 65.4,867.0 67.2,867.0 67.2,867.0 69.0,867.0 69.0,867.0 70.8,867.0 70.8,867.0 72.6,867.0 72.6,867.0 74.4,867.0 74.4,867.0 76.2,867.0 76.2,867.0 78.0,867.0 78.0,867.0 79.8,867.0 79.8,867.0 81.6,867.0 81.6,867.0 83.4,867.0 83.4,867.0 85.2,867.0 85.2,867.0 87.0,867.0 87.0,867.0 88.8,867.0 88.8,867.0 90.6,867.0 90.6,867.0 92.4,867.0 92.4,867.0 94.3,867.0 94.3,867.0 96.1,867.0 96.1,892.3 97.9,892.3 97.9,888.8 99.7,888.8 99.7,888.7 101.5,888.7 101.5,893.4 103.3,893.4 103.3,892.2 105.1,892.2 105.1,896.1 106.9,896.1 106.9,873.6 108.7,873.6 108.7,878.0 110.5,878.0 110.5,867.9 112.3,867.9 112.3,880.6 114.1,880.6 114.1,878.3 115.9,878.3 115.9,884.4 117.7,884.4 117.7,890.1 119.5,890.1 119.5,887.3 121.3,887.3 121.3,879.9 123.1,879.9 123.1,888.8 124.9,888.8 124.9,885.1 126.7,885.1 126.7,892.4 128.5,892.4 128.5,881.8 130.3,881.8 130.3,871.9 132.1,871.9 132.1,873.2 133.9,873.2 133.9,881.3 135.7,881.3 135.7,887.0 137.5,887.0 137.5,899.6 139.3,899.6 139.3,897.4 141.1,897.4 141.1,894.2 142.9,894.2 142.9,897.9 144.7,897.9 144.7,896.4 146.5,896.4 146.5,891.5 148.3,891.5 148.3,890.9 150.1,890.9 150.1,913.5 151.9,913.5 151.9,892.3 153.7,892.3 153.7,904.1 155.5,904.1 155.5,913.5 157.3,913.5 157.3,915.2 159.1,915.2 159.1,895.1 160.9,895.1 160.9,914.6 162.7,914.6 162.7,913.8 164.5,913.8 164.5,915.8 166.3,915.8 166.3,910.4 168.1,910.4 168.1,916.3 169.9,916.3 169.9,912.0 171.7,912.0 171.7,912.5 173.5,912.5 173.5,888.5 175.3,888.5 175.3,913.0 177.2,913.0 177.2,881.6 179.0,881.6 179.0,895.9 180.8,895.9 180.8,885.7 182.6,885.7 182.6,899.3 184.4,899.3 184.4,892.7 186.2,892.7 186.2,867.0 188.0,867.0 188.0,867.0 189.8,867.0 189.8,867.0 191.6,867.0 191.6,867.0 193.4,867.0 193.4,867.0 195.2,867.0 195.2,867.0 197.0,867.0 197.0,867.0 198.8,867.0 198.8,867.0 200.6,867.0 200.6,867.0 202.4,867.0 202.4,867.0 204.2,867.0 204.2,884.9 206.0,884.9 206.0,884.9 207.8,884.9 207.8,887.2 209.6,887.2 209.6,891.4 211.4,891.4 211.4,888.9 213.2,888.9 213.2,890.6 215.0,890.6 215.0,880.9 216.8,880.9 216.8,878.1 218.6,878.1 218.6,875.0 220.4,875.0 220.4,877.0 222.2,877.0 222.2,874.4 224.0,874.4 224.0,879.1 225.8,879.1 225.8,878.8 227.6,878.8 227.6,875.8 229.4,875.8 229.4,882.9 231.2,882.9 231.2,879.1 233.0,879.1 233.0,880.2 234.8,880.2 234.8,873.5 236.6,873.5 236.6,876.7 238.4,876.7 238.4,876.4 240.2,876.4 240.2,874.3 242.0,874.3 242.0,876.5 243.8,876.5 243.8,899.8 245.6,899.8 245.6,896.0 247.4,896.0 247.4,896.7 249.2,896.7 249.2,885.7 251.0,885.7 251.0,890.9 252.8,890.9 252.8,910.6 254.6,910.6 254.6,908.1 256.4,908.1 256.4,898.2 258.2,898.2 258.2,905.0 260.1,905.0 260.1,900.6 261.9,900.6 261.9,905.8 263.7,905.8 263.7,901.9 265.5,901.9 265.5,897.7 267.3,897.7 267.3,893.6 269.1,893.6 269.1,903.7 270.9,903.7 270.9,884.1 272.7,884.1 272.7,896.7 274.5,896.7 274.5,908.3 276.3,908.3 276.3,910.2 278.1,910.2 278.1,911.1 279.9,911.1 279.9,894.6 281.7,894.6 281.7,896.1 283.5,896.1 283.5,891.7 285.3,891.7 285.3,895.3 287.1,895.3 287.1,894.1 288.9,894.1 288.9,895.5 290.7,895.5 290.7,919.0 292.5,919.0 292.5,891.1 294.3,891.1 294.3,894.0 296.1,894.0 296.1,893.0 297.9,893.0 297.9,893.3 299.7,893.3 299.7,889.2 301.5,889.2 301.5,878.2 303.3,878.2 303.3,884.4 305.1,884.4 305.1,872.7 306.9,872.7 306.9,875.1 308.7,875.1 308.7,873.6 310.5,873.6 310.5,873.9 312.3,873.9 312.3,872.8 314.1,872.8 314.1,878.7 315.9,878.7 315.9,874.9 317.7,874.9 317.7,891.5 319.5,891.5 319.5,870.1 321.3,870.1 321.3,873.4 323.1,873.4 323.1,872.2 324.9,872.2 324.9,871.7 326.7,871.7 326.7,871.3 328.5,871.3 328.5,872.5 330.3,872.5 330.3,873.2 332.1,873.2 332.1,872.1 333.9,872.1 333.9,873.0 335.7,873.0 335.7,872.9 337.5,872.9 337.5,872.8 339.3,872.8 339.3,870.6 341.1,870.6 341.1,872.2 342.9,872.2 342.9,877.3 344.8,877.3 344.8,870.4 346.6,870.4 346.6,870.2 348.4,870.2 348.4,871.1 350.2,871.1 350.2,870.3 352.0,870.3 352.0,869.6 353.8,869.6 353.8,871.2 355.6,871.2 355.6,870.2 357.4,870.2 357.4,875.7 359.2,875.7 359.2,869.3 361.0,869.3 361.0,870.5 362.8,870.5 362.8,869.5 364.6,869.5 364.6,869.8 366.4,869.8 366.4,869.6 368.2,869.6 368.2,872.7 370.0,872.7 370.0,869.5 371.8,869.5 371.8,867.9 373.6,867.9 373.6,868.4 375.4,868.4 375.4,868.1 377.2,868.1 377.2,867.8 379.0,867.8 379.0,868.2 380.8,868.2 380.8,868.1 382.6,868.1 382.6,868.2 384.4,868.2 384.4,867.7 386.2,867.7 386.2,867.9 388.0,867.9 388.0,867.8 389.8,867.8 389.8,867.9 391.6,867.9 391.6,868.1 393.4,868.1 393.4,868.1 395.2,868.1 395.2,868.0 397.0,868.0 397.0,868.1 398.8,868.1 398.8,868.3 400.6,868.3 400.6,868.2 402.4,868.2 402.4,868.4 404.2,868.4 404.2,867.9 406.0,867.9 406.0,868.2 407.8,868.2 407.8,868.2 409.6,868.2 409.6,868.2 411.4,868.2 411.4,868.2 413.2,868.2 413.2,867.8 415.0,867.8 415.0,868.4 416.8,868.4 416.8,868.1 418.6,868.1 418.6,867.6 420.4,867.6 420.4,868.2 422.2,868.2 422.2,868.0 424.0,868.0 424.0,868.0 425.8,868.0 425.8,867.9 427.7,867.9 427.7,868.1 429.5,868.1 429.5,868.0 431.3,868.0 431.3,868.0 433.1,868.0 433.1,868.1 434.9,868.1 434.9,867.8 436.7,867.8 436.7,867.8 438.5,867.8 438.5,867.8 440.3,867.8 440.3,868.0 442.1,868.0 442.1,868.1 443.9,868.1 443.9,867.7 445.7,867.7 445.7,867.1 447.5,867.1 447.5,867.6 449.3,867.6 449.3,868.0 451.1,868.0 451.1,868.1 452.9,868.1 452.9,867.9 454.7,867.9 454.7,868.0 456.5,868.0 456.5,867.9 458.3,867.9 458.3,867.8 460.1,867.8 460.1,868.2 461.9,868.2 461.9,867.9 463.7,867.9 463.7,867.8 465.5,867.8 465.5,867.7 467.3,867.7 467.3,867.8 469.1,867.8 469.1,868.2 470.9,868.2 470.9,868.1 472.7,868.1 472.7,867.8 474.5,867.8 474.5,868.0 476.3,868.0 476.3,868.4 478.1,868.4 478.1,868.0 479.9,868.0 479.9,867.7 481.7,867.7 481.7,867.9 483.5,867.9 483.5,869.4 485.3,869.4 485.3,868.2 487.1,868.2 487.1,868.1 488.9,868.1 488.9,868.3 490.7,868.3 490.7,867.8 492.5,867.8 492.5,868.2 494.3,868.2 494.3,867.8 496.1,867.8 496.1,868.4 497.9,868.4 497.9,871.1 499.7,871.1 499.7,868.3 501.5,868.3 501.5,868.3 503.3,868.3 503.3,867.7 505.1,867.7 505.1,868.0 506.9,868.0 506.9,868.0 508.7,868.0 508.7,868.4 510.6,868.4 510.6,868.1 512.4,868.1 512.4,867.8 514.2,867.8 514.2,868.0 516.0,868.0 516.0,868.4 517.8,868.4 517.8,868.0 519.6,868.0 519.6,868.3 521.4,868.3 521.4,868.0 523.2,868.0 523.2,868.0 525.0,868.0 525.0,867.6 526.8,867.6 526.8,867.7 528.6,867.7 528.6,871.5 530.4,871.5 530.4,868.4 532.2,868.4 532.2,867.8 534.0,867.8 534.0,868.0 535.8,868.0 535.8,867.7 537.6,867.7 537.6,868.1 539.4,868.1 539.4,868.2 541.2,868.2 541.2,867.9 543.0,867.9 543.0,872.2 544.8,872.2 544.8,868.3 546.6,868.3 546.6,867.8 548.4,867.8 548.4,868.1 550.2,868.1 550.2,867.6 552.0,867.6 552,919" fill="#8D4B98"/>
<polygon points="51,919 51.0,867.0 52.8,867.0 52.8,867.0 54.6,867.0 54.6,867.0 56.4,867.0 56.4,867.0 58.2,867.0 58.2,867.0 60.0,867.0 60.0,867.0 61.8,867.0 61.8,867.0 63.6,867.0 63.6,867.0 65.4,867.0 65.4,867.0 67.2,867.0 67.2,867.0 69.0,867.0 69.0,867.0 70.8,867.0 70.8,867.0 72.6,867.0 72.6,867.0 74.4,867.0 74.4,867.0 76.2,867.0 76.2,867.0 78.0,867.0 78.0,867.0 79.8,867.0 79.8,867.0 81.6,867.0 81.6,867.0 83.4,867.0 83.4,867.0 85.2,867.0 85.2,867.0 87.0,867.0 87.0,867.0 88.8,867.0 88.8,867.0 90.6,867.0 90.6,867.0 92.4,867.0 92.4,867.0 94.3,867.0 94.3,867.0 96.1,867.0 96.1,893.8 97.9,893.8 97.9,890.5 99.7,890.5 99.7,890.1 101.5,890.1 101.5,894.7 103.3,894.7 103.3,892.2 105.1,892.2 105.1,897.8 106.9,897.8 106.9,875.6 108.7,875.6 108.7,880.9 110.5,880.9 110.5,873.1 112.3,873.1 112.3,883.9 114.1,883.9 114.1,880.9 115.9,880.9 115.9,887.4 117.7,887.4 117.7,895.6 119.5,895.6 119.5,892.8 121.3,892.8 121.3,890.3 123.1,890.3 123.1,893.8 124.9,893.8 124.9,894.4 126.7,894.4 126.7,900.2 128.5,900.2 128.5,896.0 130.3,896.0 130.3,886.4 132.1,886.4 132.1,890.1 133.9,890.1 133.9,897.0 135.7,897.0 135.7,895.1 137.5,895.1 137.5,911.5 139.3,911.5 139.3,905.4 141.1,905.4 141.1,897.2 142.9,897.2 142.9,900.0 144.7,900.0 144.7,898.6 146.5,898.6 146.5,894.7 148.3,894.7 148.3,893.9 150.1,893.9 150.1,916.7 151.9,916.7 151.9,894.4 153.7,894.4 153.7,916.5 155.5,916.5 155.5,916.5 157.3,916.5 157.3,917.0 159.1,917.0 159.1,915.5 160.9,915.5 160.9,918.2 162.7,918.2 162.7,916.2 164.5,916.2 164.5,915.8 166.3,915.8 166.3,911.8 168.1,911.8 168.1,916.3 169.9,916.3 169.9,915.3 171.7,915.3 171.7,915.9 173.5,915.9 173.5,890.1 175.3,890.1 175.3,915.1 177.2,915.1 177.2,889.9 179.0,889.9 179.0,903.3 180.8,903.3 180.8,892.7 182.6,892.7 182.6,901.9 184.4,901.9 184.4,897.6 186.2,897.6 186.2,867.0 188.0,867.0 188.0,867.0 189.8,867.0 189.8,867.0 191.6,867.0 191.6,867.0 193.4,867.0 193.4,867.0 195.2,867.0 195.2,867.0 197.0,867.0 197.0,867.0 198.8,867.0 198.8,893.2 200.6,893.2 200.6,892.2 202.4,892.2 202.4,890.8 204.2,890.8 204.2,884.9 206.0,884.9 206.0,884.9 207.8,884.9 207.8,887.2 209.6,887.2 209.6,891.4 211.4,891.4 211.4,888.9 213.2,888.9 213.2,890.6 215.0,890.6 215.0,880.9 216.8,880.9 216.8,878.1 218.6,878.1 218.6,875.0 220.4,875.0 220.4,877.0 222.2,877.0 222.2,874.4 224.0,874.4 224.0,879.1 225.8,879.1 225.8,878.8 227.6,878.8 227.6,875.8 229.4,875.8 229.4,882.9 231.2,882.9 231.2,879.1 233.0,879.1 233.0,880.2 234.8,880.2 234.8,873.5 236.6,873.5 236.6,876.7 238.4,876.7 238.4,876.4 240.2,876.4 240.2,874.3 242.0,874.3 242.0,876.5 243.8,876.5 243.8,899.8 245.6,899.8 245.6,896.0 247.4,896.0 247.4,896.7 249.2,896.7 249.2,885.7 251.0,885.7 251.0,890.9 252.8,890.9 252.8,910.6 254.6,910.6 254.6,908.1 256.4,908.1 256.4,898.2 258.2,898.2 258.2,905.0 260.1,905.0 260.1,900.6 261.9,900.6 261.9,905.8 263.7,905.8 263.7,901.9 265.5,901.9 265.5,897.7 267.3,897.7 267.3,893.6 269.1,893.6 269.1,903.7 270.9,903.7 270.9,884.1 272.7,884.1 272.7,896.7 274.5,896.7 274.5,908.3 276.3,908.3 276.3,910.2 278.1,910.2 278.1,911.1 279.9,911.1 279.9,894.6 281.7,894.6 281.7,896.1 283.5,896.1 283.5,891.7 285.3,891.7 285.3,895.3 287.1,895.3 287.1,894.1 288.9,894.1 288.9,895.5 290.7,895.5 290.7,919.0 292.5,919.0 292.5,891.1 294.3,891.1 294.3,894.0 296.1,894.0 296.1,893.0 297.9,893.0 297.9,893.3 299.7,893.3 299.7,889.2 301.5,889.2 301.5,878.2 303.3,878.2 303.3,884.4 305.1,884.4 305.1,902.8 306.9,902.8 306.9,907.4 308.7,907.4 308.7,902.1 310.5,902.1 310.5,908.3 312.3,908.3 312.3,902.1 314.1,902.1 314.1,905.7 315.9,905.7 315.9,908.7 317.7,908.7 317.7,908.2 319.5,908.2 319.5,905.3 321.3,905.3 321.3,909.5 323.1,909.5 323.1,895.0 324.9,895.0 324.9,906.1 326.7,906.1 326.7,910.1 328.5,910.1 328.5,907.5 330.3,907.5 330.3,907.1 332.1,907.1 332.1,904.1 333.9,904.1 333.9,910.4 335.7,910.4 335.7,908.5 337.5,908.5 337.5,904.7 339.3,904.7 339.3,911.8 341.1,911.8 341.1,912.3 342.9,912.3 342.9,909.4 344.8,909.4 344.8,910.8 346.6,910.8 346.6,913.1 348.4,913.1 348.4,913.0 350.2,913.0 350.2,911.8 352.0,911.8 352.0,912.0 353.8,912.0 353.8,912.8 355.6,912.8 355.6,910.4 357.4,910.4 357.4,914.0 359.2,914.0 359.2,912.4 361.0,912.4 361.0,914.4 362.8,914.4 362.8,914.6 364.6,914.6 364.6,914.9 366.4,914.9 366.4,914.9 368.2,914.9 368.2,914.6 370.0,914.6 370.0,915.7 371.8,915.7 371.8,915.9 373.6,915.9 373.6,915.7 375.4,915.7 375.4,915.5 377.2,915.5 377.2,916.7 379.0,916.7 379.0,915.6 380.8,915.6 380.8,916.5 382.6,916.5 382.6,916.2 384.4,916.2 384.4,916.3 386.2,916.3 386.2,915.6 388.0,915.6 388.0,916.4 389.8,916.4 389.8,917.3 391.6,917.3 391.6,917.0 393.4,917.0 393.4,916.1 395.2,916.1 395.2,916.2 397.0,916.2 397.0,917.0 398.8,917.0 398.8,916.2 400.6,916.2 400.6,916.7 402.4,916.7 402.4,917.1 404.2,917.1 404.2,915.4 406.0,915.4 406.0,917.4 407.8,917.4 407.8,915.8 409.6,915.8 409.6,916.1 411.4,916.1 411.4,917.3 413.2,917.3 413.2,915.4 415.0,915.4 415.0,916.7 416.8,916.7 416.8,916.0 418.6,916.0 418.6,917.3 420.4,917.3 420.4,915.6 422.2,915.6 422.2,917.1 424.0,917.1 424.0,917.2 425.8,917.2 425.8,915.8 427.7,915.8 427.7,916.2 429.5,916.2 429.5,917.3 431.3,917.3 431.3,917.1 433.1,917.1 433.1,916.2 434.9,916.2 434.9,915.8 436.7,915.8 436.7,916.3 438.5,916.3 438.5,916.5 440.3,916.5 440.3,916.9 442.1,916.9 442.1,916.2 443.9,916.2 443.9,915.5 445.7,915.5 445.7,914.2 447.5,914.2 447.5,916.4 449.3,916.4 449.3,917.3 451.1,917.3 451.1,916.1 452.9,916.1 452.9,916.0 454.7,916.0 454.7,917.2 456.5,917.2 456.5,916.4 458.3,916.4 458.3,917.2 460.1,917.2 460.1,916.0 461.9,916.0 461.9,915.9 463.7,915.9 463.7,916.5 465.5,916.5 465.5,916.1 467.3,916.1 467.3,916.3 469.1,916.3 469.1,916.5 470.9,916.5 470.9,916.1 472.7,916.1 472.7,915.7 474.5,915.7 474.5,917.2 476.3,917.2 476.3,916.3 478.1,916.3 478.1,915.7 479.9,915.7 479.9,916.4 481.7,916.4 481.7,915.5 483.5,915.5 483.5,916.7 485.3,916.7 485.3,916.4 487.1,916.4 487.1,916.6 488.9,916.6 488.9,916.0 490.7,916.0 490.7,917.2 492.5,917.2 492.5,915.5 494.3,915.5 494.3,916.1 496.1,916.1 496.1,917.4 497.9,917.4 497.9,917.4 499.7,917.4 499.7,917.3 501.5,917.3 501.5,917.0 503.3,917.0 503.3,916.3 505.1,916.3 505.1,916.3 506.9,916.3 506.9,916.3 508.7,916.3 508.7,916.3 510.6,916.3 510.6,915.8 512.4,915.8 512.4,917.2 514.2,917.2 514.2,916.3 516.0,916.3 516.0,916.8 517.8,916.8 517.8,916.8 519.6,916.8 519.6,915.9 521.4,915.9 521.4,915.4 523.2,915.4 523.2,916.8 525.0,916.8 525.0,916.4 526.8,916.4 526.8,916.4 528.6,916.4 528.6,915.4 530.4,915.4 530.4,917.3 532.2,917.3 532.2,915.7 534.0,915.7 534.0,917.2 535.8,917.2 535.8,916.8 537.6,916.8 537.6,917.3 539.4,917.3 539.4,916.6 541.2,916.6 541.2,915.6 543.0,915.6 543.0,916.2 544.8,916.2 544.8,916.5 546.6,916.5 546.6,915.7 548.4,915.7 548.4,916.5 550.2,916.5 550.2,916.9 552.0,916.9 552,919" fill="#3256A5"/>
<polygon points="51,919 51.0,867.0 52.8,867.0 52.8,867.0 54.6,867.0 54.6,867.0 56.4,867.0 56.4,867.0 58.2,867.0 58.2,867.0 60.0,867.0 60.0,867.0 61.8,867.0 61.8,867.0 63.6,867.0 63.6,867.0 65.4,867.0 65.4,867.0 67.2,867.0 67.2,867.0 69.0,867.0 69.0,867.0 70.8,867.0 70.8,867.0 72.6,867.0 72.6,867.0 74.4,867.0 74.4,867.0 76.2,867.0 76.2,867.0 78.0,867.0 78.0,867.0 79.8,867.0 79.8,867.0 81.6,867.0 81.6,867.0 83.4,867.0 83.4,867.0 85.2,867.0 85.2,867.0 87.0,867.0 87.0,867.0 88.8,867.0 88.8,867.0 90.6,867.0 90.6,867.0 92.4,867.0 92.4,867.0 94.3,867.0 94.3,867.0 96.1,867.0 96.1,893.8 97.9,893.8 97.9,890.5 99.7,890.5 99.7,890.1 101.5,890.1 101.5,894.7 103.3,894.7 103.3,892.2 105.1,892.2 105.1,897.8 106.9,897.8 106.9,876.4 108.7,876.4 108.7,881.8 110.5,881.8 110.5,874.2 112.3,874.2 112.3,885.0 114.1,885.0 114.1,881.9 115.9,881.9 115.9,888.4 117.7,888.4 117.7,896.7 119.5,896.7 119.5,893.7 121.3,893.7 121.3,891.3 123.1,891.3 123.1,895.1 124.9,895.1 124.9,895.3 126.7,895.3 126.7,900.9 128.5,900.9 128.5,899.0 130.3,899.0 130.3,888.8 132.1,888.8 132.1,892.7 133.9,892.7 133.9,898.7 135.7,898.7 135.7,897.2 137.5,897.2 137.5,911.5 139.3,911.5 139.3,905.4 141.1,905.4 141.1,897.2 142.9,897.2 142.9,900.0 144.7,900.0 144.7,898.6 146.5,898.6 146.5,894.7 148.3,894.7 148.3,893.9 150.1,893.9 150.1,917.6 151.9,917.6 151.9,919.0 153.7,919.0 153.7,917.4 155.5,917.4 155.5,917.8 157.3,917.8 157.3,917.0 159.1,917.0 159.1,916.2 160.9,916.2 160.9,919.0 162.7,919.0 162.7,917.5 164.5,917.5 164.5,917.0 166.3,917.0 166.3,913.3 168.1,913.3 168.1,917.7 169.9,917.7 169.9,916.5 171.7,916.5 171.7,917.2 173.5,917.2 173.5,890.8 175.3,890.8 175.3,916.5 177.2,916.5 177.2,889.9 179.0,889.9 179.0,903.3 180.8,903.3 180.8,892.7 182.6,892.7 182.6,901.9 184.4,901.9 184.4,897.6 186.2,897.6 186.2,867.0 188.0,867.0 188.0,867.0 189.8,867.0 189.8,867.0 191.6,867.0 191.6,867.0 193.4,867.0 193.4,867.0 195.2,867.0 195.2,867.0 197.0,867.0 197.0,867.0 198.8,867.0 198.8,893.2 200.6,893.2 200.6,892.2 202.4,892.2 202.4,890.8 204.2,890.8 204.2,918.3 206.0,918.3 206.0,915.9 207.8,915.9 207.8,916.2 209.6,916.2 209.6,918.4 211.4,918.4 211.4,919.0 213.2,919.0 213.2,919.0 215.0,919.0 215.0,908.0 216.8,908.0 216.8,909.3 218.6,909.3 218.6,900.4 220.4,900.4 220.4,901.3 222.2,901.3 222.2,902.3 224.0,902.3 224.0,905.3 225.8,905.3 225.8,910.6 227.6,910.6 227.6,911.3 229.4,911.3 229.4,911.8 231.2,911.8 231.2,912.1 233.0,912.1 233.0,905.8 234.8,905.8 234.8,906.2 236.6,906.2 236.6,907.5 238.4,907.5 238.4,911.9 240.2,911.9 240.2,909.5 242.0,909.5 242.0,918.9 243.8,918.9 243.8,904.8 245.6,904.8 245.6,901.5 247.4,901.5 247.4,904.5 249.2,904.5 249.2,893.8 251.0,893.8 251.0,897.6 252.8,897.6 252.8,912.3 254.6,912.3 254.6,910.6 256.4,910.6 256.4,899.0 258.2,899.0 258.2,906.3 260.1,906.3 260.1,908.6 261.9,908.6 261.9,907.1 263.7,907.1 263.7,901.9 265.5,901.9 265.5,898.8 267.3,898.8 267.3,911.6 269.1,911.6 269.1,905.4 270.9,905.4 270.9,902.5 272.7,902.5 272.7,897.4 274.5,897.4 274.5,910.0 276.3,910.0 276.3,912.3 278.1,912.3 278.1,913.0 279.9,913.0 279.9,919.0 281.7,919.0 281.7,919.0 283.5,919.0 283.5,919.0 285.3,919.0 285.3,919.0 287.1,919.0 287.1,919.0 288.9,919.0 288.9,919.0 290.7,919.0 290.7,919.0 292.5,919.0 292.5,919.0 294.3,919.0 294.3,919.0 296.1,919.0 296.1,919.0 297.9,919.0 297.9,919.0 299.7,919.0 299.7,919.0 301.5,919.0 301.5,919.0 303.3,919.0 303.3,919.0 305.1,919.0 305.1,902.8 306.9,902.8 306.9,907.4 308.7,907.4 308.7,902.1 310.5,902.1 310.5,908.3 312.3,908.3 312.3,902.1 314.1,902.1 314.1,905.7 315.9,905.7 315.9,908.7 317.7,908.7 317.7,908.2 319.5,908.2 319.5,905.3 321.3,905.3 321.3,909.5 323.1,909.5 323.1,910.0 324.9,910.0 324.9,906.1 326.7,906.1 326.7,910.1 328.5,910.1 328.5,907.5 330.3,907.5 330.3,907.1 332.1,907.1 332.1,904.1 333.9,904.1 333.9,910.4 335.7,910.4 335.7,908.5 337.5,908.5 337.5,904.7 339.3,904.7 339.3,911.8 341.1,911.8 341.1,912.3 342.9,912.3 342.9,909.4 344.8,909.4 344.8,910.8 346.6,910.8 346.6,913.1 348.4,913.1 348.4,913.0 350.2,913.0 350.2,911.8 352.0,911.8 352.0,912.0 353.8,912.0 353.8,912.8 355.6,912.8 355.6,910.4 357.4,910.4 357.4,914.0 359.2,914.0 359.2,912.4 361.0,912.4 361.0,914.4 362.8,914.4 362.8,914.6 364.6,914.6 364.6,914.9 366.4,914.9 366.4,914.9 368.2,914.9 368.2,914.6 370.0,914.6 370.0,915.7 371.8,915.7 371.8,915.9 373.6,915.9 373.6,915.7 375.4,915.7 375.4,915.5 377.2,915.5 377.2,916.7 379.0,916.7 379.0,915.6 380.8,915.6 380.8,916.5 382.6,916.5 382.6,916.2 384.4,916.2 384.4,916.3 386.2,916.3 386.2,915.6 388.0,915.6 388.0,916.4 389.8,916.4 389.8,917.3 391.6,917.3 391.6,917.0 393.4,917.0 393.4,916.1 395.2,916.1 395.2,916.2 397.0,916.2 397.0,917.0 398.8,917.0 398.8,916.2 400.6,916.2 400.6,916.7 402.4,916.7 402.4,917.1 404.2,917.1 404.2,915.4 406.0,915.4 406.0,917.4 407.8,917.4 407.8,915.8 409.6,915.8 409.6,916.1 411.4,916.1 411.4,917.3 413.2,917.3 413.2,915.4 415.0,915.4 415.0,916.7 416.8,916.7 416.8,916.0 418.6,916.0 418.6,917.3 420.4,917.3 420.4,915.6 422.2,915.6 422.2,917.1 424.0,917.1 424.0,917.2 425.8,917.2 425.8,915.8 427.7,915.8 427.7,916.2 429.5,916.2 429.5,917.3 431.3,917.3 431.3,917.1 433.1,917.1 433.1,916.2 434.9,916.2 434.9,915.8 436.7,915.8 436.7,916.3 438.5,916.3 438.5,916.5 440.3,916.5 440.3,916.9 442.1,916.9 442.1,916.2 443.9,916.2 443.9,915.5 445.7,915.5 445.7,914.2 447.5,914.2 447.5,916.4 449.3,916.4 449.3,917.3 451.1,917.3 451.1,916.1 452.9,916.1 452.9,916.0 454.7,916.0 454.7,917.2 456.5,917.2 456.5,916.4 458.3,916.4 458.3,917.2 460.1,917.2 460.1,916.0 461.9,916.0 461.9,915.9 463.7,915.9 463.7,916.5 465.5,916.5 465.5,916.1 467.3,916.1 467.3,916.3 469.1,916.3 469.1,916.5 470.9,916.5 470.9,916.1 472.7,916.1 472.7,915.7 474.5,915.7 474.5,917.2 476.3,917.2 476.3,916.3 478.1,916.3 478.1,915.7 479.9,915.7 479.9,916.4 481.7,916.4 481.7,915.5 483.5,915.5 483.5,916.7 485.3,916.7 485.3,916.4 487.1,916.4 487.1,916.6 488.9,916.6 488.9,916.0 490.7,916.0 490.7,917.2 492.5,917.2 492.5,915.5 494.3,915.5 494.3,916.1 496.1,916.1 496.1,917.4 497.9,917.4 497.9,917.4 499.7,917.4 499.7,917.3 501.5,917.3 501.5,917.0 503.3,917.0 503.3,916.3 505.1,916.3 505.1,916.3 506.9,916.3 506.9,916.3 508.7,916.3 508.7,916.3 510.6,916.3 510.6,915.8 512.4,915.8 512.4,917.2 514.2,917.2 514.2,916.3 516.0,916.3 516.0,916.8 517.8,916.8 517.8,916.8 519.6,916.8 519.6,915.9 521.4,915.9 521.4,915.4 523.2,915.4 523.2,916.8 525.0,916.8 525.0,916.4 526.8,916.4 526.8,916.4 528.6,916.4 528.6,915.4 530.4,915.4 530.4,917.3 532.2,917.3 532.2,915.7 534.0,915.7 534.0,917.2 535.8,917.2 535.8,916.8 537.6,916.8 537.6,917.3 539.4,917.3 539.4,916.6 541.2,916.6 541.2,915.6 543.0,915.6 543.0,916.2 544.8,916.2 544.8,916.5 546.6,916.5 546.6,915.7 548.4,915.7 548.4,916.5 550.2,916.5 550.2,916.9 552.0,916.9 552,919" fill="#E37AC2"/>
<polygon points="51,919 51.0,867.0 52.8,867.0 52.8,867.0 54.6,867.0 54.6,867.0 56.4,867.0 56.4,867.0 58.2,867.0 58.2,867.0 60.0,867.0 60.0,867.0 61.8,867.0 61.8,867.0 63.6,867.0 63.6,867.0 65.4,867.0 65.4,867.0 67.2,867.0 67.2,867.0 69.0,867.0 69.0,867.0 70.8,867.0 70.8,867.0 72.6,867.0 72.6,867.0 74.4,867.0 74.4,867.0 76.2,867.0 76.2,867.0 78.0,867.0 78.0,867.0 79.8,867.0 79.8,867.0 81.6,867.0 81.6,867.0 83.4,867.0 83.4,867.0 85.2,867.0 85.2,867.0 87.0,867.0 87.0,867.0 88.8,867.0 88.8,867.0 90.6,867.0 90.6,867.0 92.4,867.0 92.4,867.0 94.3,867.0 94.3,867.0 96.1,867.0 96.1,893.8 97.9,893.8 97.9,890.5 99.7,890.5 99.7,890.1 101.5,890.1 101.5,894.7 103.3,894.7 103.3,892.2 105.1,892.2 105.1,897.8 106.9,897.8 106.9,898.8 108.7,898.8 108.7,902.9 110.5,902.9 110.5,896.2 112.3,896.2 112.3,899.1 114.1,899.1 114.1,899.2 115.9,899.2 115.9,903.4 117.7,903.4 117.7,898.6 119.5,898.6 119.5,907.0 121.3,907.0 121.3,898.4 123.1,898.4 123.1,897.8 124.9,897.8 124.9,897.8 126.7,897.8 126.7,900.9 128.5,900.9 128.5,907.4 130.3,907.4 130.3,897.5 132.1,897.5 132.1,901.7 133.9,901.7 133.9,907.4 135.7,907.4 135.7,903.7 137.5,903.7 137.5,911.5 139.3,911.5 139.3,905.4 141.1,905.4 141.1,919.0 142.9,919.0 142.9,919.0 144.7,919.0 144.7,919.0 146.5,919.0 146.5,919.0 148.3,919.0 148.3,919.0 150.1,919.0 150.1,919.0 151.9,919.0 151.9,919.0 153.7,919.0 153.7,919.0 155.5,919.0 155.5,919.0 157.3,919.0 157.3,919.0 159.1,919.0 159.1,919.0 160.9,919.0 160.9,919.0 162.7,919.0 162.7,919.0 164.5,919.0 164.5,919.0 166.3,919.0 166.3,919.0 168.1,919.0 168.1,919.0 169.9,919.0 169.9,919.0 171.7,919.0 171.7,919.0 173.5,919.0 173.5,919.0 175.3,919.0 175.3,919.0 177.2,919.0 177.2,919.0 179.0,919.0 179.0,919.0 180.8,919.0 180.8,919.0 182.6,919.0 182.6,919.0 184.4,919.0 184.4,919.0 186.2,919.0 186.2,919.0 188.0,919.0 188.0,919.0 189.8,919.0 189.8,919.0 191.6,919.0 191.6,919.0 193.4,919.0 193.4,919.0 195.2,919.0 195.2,919.0 197.0,919.0 197.0,919.0 198.8,919.0 198.8,919.0 200.6,919.0 200.6,919.0 202.4,919.0 202.4,919.0 204.2,919.0 204.2,918.3 206.0,918.3 206.0,915.9 207.8,915.9 207.8,916.2 209.6,916.2 209.6,918.4 211.4,918.4 211.4,919.0 213.2,919.0 213.2,919.0 215.0,919.0 215.0,919.0 216.8,919.0 216.8,919.0 218.6,919.0 218.6,919.0 220.4,919.0 220.4,919.0 222.2,919.0 222.2,919.0 224.0,919.0 224.0,919.0 225.8,919.0 225.8,919.0 227.6,919.0 227.6,919.0 229.4,919.0 229.4,919.0 231.2,919.0 231.2,919.0 233.0,919.0 233.0,919.0 234.8,919.0 234.8,919.0 236.6,919.0 236.6,919.0 238.4,919.0 238.4,919.0 240.2,919.0 240.2,919.0 242.0,919.0 242.0,919.0 243.8,919.0 243.8,919.0 245.6,919.0 245.6,919.0 247.4,919.0 247.4,919.0 249.2,919.0 249.2,919.0 251.0,919.0 251.0,919.0 252.8,919.0 252.8,919.0 254.6,919.0 254.6,919.0 256.4,919.0 256.4,919.0 258.2,919.0 258.2,919.0 260.1,919.0 260.1,919.0 261.9,919.0 261.9,919.0 263.7,919.0 263.7,919.0 265.5,919.0 265.5,919.0 267.3,919.0 267.3,919.0 269.1,919.0 269.1,919.0 270.9,919.0 270.9,919.0 272.7,919.0 272.7,919.0 274.5,919.0 274.5,919.0 276.3,919.0 276.3,919.0 278.1,919.0 278.1,919.0 279.9,919.0 279.9,919.0 281.7,919.0 281.7,919.0 283.5,919.0 283.5,919.0 285.3,919.0 285.3,919.0 287.1,919.0 287.1,919.0 288.9,919.0 288.9,919.0 290.7,919.0 290.7,919.0 292.5,919.0 292.5,919.0 294.3,919.0 294.3,919.0 296.1,919.0 296.1,919.0 297.9,919.0 297.9,919.0 299.7,919.0 299.7,919.0 301.5,919.0 301.5,919.0 303.3,919.0 303.3,919.0 305.1,919.0 305.1,919.0 306.9,919.0 306.9,919.0 308.7,919.0 308.7,919.0 310.5,919.0 310.5,919.0 312.3,919.0 312.3,919.0 314.1,919.0 314.1,919.0 315.9,919.0 315.9,919.0 317.7,919.0 317.7,919.0 319.5,919.0 319.5,919.0 321.3,919.0 321.3,919.0 323.1,919.0 323.1,919.0 324.9,919.0 324.9,919.0 326.7,919.0 326.7,919.0 328.5,919.0 328.5,919.0 330.3,919.0 330.3,919.0 332.1,919.0 332.1,919.0 333.9,919.0 333.9,919.0 335.7,919.0 335.7,919.0 337.5,919.0 337.5,919.0 339.3,919.0 339.3,919.0 341.1,919.0 341.1,919.0 342.9,919.0 342.9,919.0 344.8,919.0 344.8,919.0 346.6,919.0 346.6,919.0 348.4,919.0 348.4,919.0 350.2,919.0 350.2,919.0 352.0,919.0 352.0,919.0 353.8,919.0 353.8,919.0 355.6,919.0 355.6,919.0 357.4,919.0 357.4,919.0 359.2,919.0 359.2,919.0 361.0,919.0 361.0,919.0 362.8,919.0 362.8,919.0 364.6,919.0 364.6,919.0 366.4,919.0 366.4,919.0 368.2,919.0 368.2,919.0 370.0,919.0 370.0,919.0 371.8,919.0 371.8,919.0 373.6,919.0 373.6,919.0 375.4,919.0 375.4,919.0 377.2,919.0 377.2,919.0 379.0,919.0 379.0,919.0 380.8,919.0 380.8,919.0 382.6,919.0 382.6,919.0 384.4,919.0 384.4,919.0 386.2,919.0 386.2,919.0 388.0,919.0 388.0,919.0 389.8,919.0 389.8,919.0 391.6,919.0 391.6,919.0 393.4,919.0 393.4,919.0 395.2,919.0 395.2,919.0 397.0,919.0 397.0,919.0 398.8,919.0 398.8,919.0 400.6,919.0 400.6,919.0 402.4,919.0 402.4,919.0 404.2,919.0 404.2,919.0 406.0,919.0 406.0,919.0 407.8,919.0 407.8,919.0 409.6,919.0 409.6,919.0 411.4,919.0 411.4,919.0 413.2,919.0 413.2,919.0 415.0,919.0 415.0,919.0 416.8,919.0 416.8,919.0 418.6,919.0 418.6,919.0 420.4,919.0 420.4,919.0 422.2,919.0 422.2,919.0 424.0,919.0 424.0,919.0 425.8,919.0 425.8,919.0 427.7,919.0 427.7,919.0 429.5,919.0 429.5,919.0 431.3,919.0 431.3,919.0 433.1,919.0 433.1,919.0 434.9,919.0 434.9,919.0 436.7,919.0 436.7,919.0 438.5,919.0 438.5,919.0 440.3,919.0 440.3,919.0 442.1,919.0 442.1,919.0 443.9,919.0 443.9,919.0 445.7,919.0 445.7,919.0 447.5,919.0 447.5,919.0 449.3,919.0 449.3,919.0 451.1,919.0 451.1,919.0 452.9,919.0 452.9,919.0 454.7,919.0 454.7,919.0 456.5,919.0 456.5,919.0 458.3,919.0 458.3,919.0 460.1,919.0 460.1,919.0 461.9,919.0 461.9,919.0 463.7,919.0 463.7,919.0 465.5,919.0 465.5,919.0 467.3,919.0 467.3,919.0 469.1,919.0 469.1,919.0 470.9,919.0 470.9,919.0 472.7,919.0 472.7,919.0 474.5,919.0 474.5,919.0 476.3,919.0 476.3,919.0 478.1,919.0 478.1,919.0 479.9,919.0 479.9,919.0 481.7,919.0 481.7,919.0 483.5,919.0 483.5,919.0 485.3,919.0 485.3,919.0 487.1,919.0 487.1,919.0 488.9,919.0 488.9,919.0 490.7,919.0 490.7,919.0 492.5,919.0 492.5,919.0 494.3,919.0 494.3,919.0 496.1,919.0 496.1,919.0 497.9,919.0 497.9,919.0 499.7,919.0 499.7,919.0 501.5,919.0 501.5,919.0 503.3,919.0 503.3,919.0 505.1,919.0 505.1,919.0 506.9,919.0 506.9,919.0 508.7,919.0 508.7,919.0 510.6,919.0 510.6,919.0 512.4,919.0 512.4,919.0 514.2,919.0 514.2,919.0 516.0,919.0 516.0,919.0 517.8,919.0 517.8,919.0 519.6,919.0 519.6,919.0 521.4,919.0 521.4,919.0 523.2,919.0 523.2,919.0 525.0,919.0 525.0,919.0 526.8,919.0 526.8,919.0 528.6,919.0 528.6,919.0 530.4,919.0 530.4,919.0 532.2,919.0 532.2,919.0 534.0,919.0 534.0,919.0 535.8,919.0 535.8,919.0 537.6,919.0 537.6,919.0 539.4,919.0 539.4,919.0 541.2,919.0 541.2,919.0 543.0,919.0 543.0,919.0 544.8,919.0 544.8,919.0 546.6,919.0 546.6,919.0 548.4,919.0 548.4,919.0 550.2,919.0 550.2,919.0 552.0,919.0 552,919" fill="#F5B43A"/>
<line x1="51" y1="711" x2="552" y2="711" stroke="#fde6b0" stroke-width="0.8" opacity="0.9"/>
<line x1="51" y1="763" x2="552" y2="763" stroke="#7a6a5a" stroke-width="0.6" opacity="0.55"/>
<line x1="51" y1="815" x2="552" y2="815" stroke="#7a6a5a" stroke-width="0.6" opacity="0.55"/>
<line x1="51" y1="867" x2="552" y2="867" stroke="#7a6a5a" stroke-width="0.6" opacity="0.55"/>
<line x1="51" y1="655" x2="111" y2="655" stroke="#E2B04F" stroke-width="2.4"/>
<text x="81.0" y="653" font-size="11" fill="#333" text-anchor="middle" >YNG</text>
<line x1="111" y1="652.8" x2="183" y2="652.8" stroke="#6CB744" stroke-width="2.4"/>
<text x="147.0" y="650.5" font-size="11" fill="#333" text-anchor="middle" >FGG1</text>
<line x1="183" y1="655.6" x2="302" y2="655.6" stroke="#2B9FC6" stroke-width="2.4"/>
<text x="242.5" y="653" font-size="11" fill="#333" text-anchor="middle" >FGG2</text>
<line x1="302" y1="653.5" x2="552" y2="653.5" stroke="#8A4898" stroke-width="2.4"/>
<text x="427.0" y="649.5" font-size="11" fill="#333" text-anchor="middle" >HNG</text>
<text x="559.5" y="691" font-size="17" fill="#222" text-anchor="middle" >2</text>
<text x="559.5" y="743" font-size="17" fill="#222" text-anchor="middle" >3</text>
<text x="559.5" y="795" font-size="17" fill="#222" text-anchor="middle" >4</text>
<text x="559.5" y="847" font-size="17" fill="#222" text-anchor="middle" >5</text>
<text x="559.5" y="899" font-size="17" fill="#222" text-anchor="middle" >6</text>
<defs><linearGradient id="wallL" x1="0" y1="0" x2="0" y2="1"><stop offset="0" stop-color="#fafafa"/><stop offset="1" stop-color="#e2e2e2"/></linearGradient><linearGradient id="wallR" x1="0" y1="0" x2="0" y2="1"><stop offset="0" stop-color="#f8f8f8"/><stop offset="1" stop-color="#dedede"/></linearGradient><linearGradient id="floorG" x1="0" y1="0" x2="0.3" y2="1"><stop offset="0" stop-color="#dcdcdc"/><stop offset="1" stop-color="#f8f8f8"/></linearGradient><radialGradient id="sO" cx="0.35" cy="0.3" r="0.7"><stop offset="0" stop-color="#ffd9a0"/><stop offset="0.45" stop-color="#e8961e"/><stop offset="1" stop-color="#a8620a"/></radialGradient><radialGradient id="sG" cx="0.35" cy="0.3" r="0.7"><stop offset="0" stop-color="#b8ffb0"/><stop offset="0.45" stop-color="#33cc22"/><stop offset="1" stop-color="#1a8a10"/></radialGradient><radialGradient id="sC" cx="0.35" cy="0.3" r="0.7"><stop offset="0" stop-color="#d8ffff"/><stop offset="0.45" stop-color="#22d8e6"/><stop offset="1" stop-color="#0a9aa8"/></radialGradient><radialGradient id="sP" cx="0.35" cy="0.3" r="0.7"><stop offset="0" stop-color="#e0a8ff"/><stop offset="0.45" stop-color="#8a1ed8"/><stop offset="1" stop-color="#520a90"/></radialGradient></defs>
<polygon points="629.9,667.2 775.3,642.7 777.2,786.2 646.9,807.0" fill="url(#wallL)"/>
<polygon points="775.3,642.7 881.1,689.9 860.3,846.7 777.2,786.2" fill="url(#wallR)"/>
<polygon points="646.9,807.0 777.2,786.2 860.3,846.7 711.1,905.2" fill="url(#floorG)"/>
<path d="M659.0,662.3L673.0,802.8M688.1,657.4L699.0,798.7M717.2,652.5L725.1,794.5M746.2,647.6L751.2,790.4M634.7,706.5L775.9,683.0M639.1,742.8L776.4,720.3M643.2,777.0L776.8,755.4M796.5,652.1L793.8,798.3M817.7,661.6L810.5,810.4M838.8,671.0L827.1,822.5M860.0,680.4L843.7,834.6M775.9,683.0L875.3,733.9M776.4,720.3L869.9,774.7M776.8,755.4L864.8,813.0M673.0,802.8L741.0,893.5M699.0,798.7L770.8,881.8M725.1,794.5L800.6,870.1M751.2,790.4L830.5,858.4M793.8,798.3L659.7,826.6M810.5,810.4L672.6,846.3M827.1,822.5L685.4,865.9M843.7,834.6L698.3,885.6" stroke="#d9d9d9" stroke-width="0.75" fill="none"/>
<polyline points="629.9,667.2 646.9,807.0 711.1,905.2 860.3,846.7 881.1,689.9" fill="none" stroke="#666" stroke-width="1.2"/>
<path d="M629.9,667.2L775.3,642.7L881.1,689.9M775.3,642.7L777.2,786.2L646.9,807.0M777.2,786.2L860.3,846.7" fill="none" stroke="#c8c8c8" stroke-width="0.9"/>
<line x1="626.9" y1="667.2" x2="629.9" y2="667.2" stroke="#666" stroke-width="1"/>
<line x1="631.7" y1="706.5" x2="634.7" y2="706.5" stroke="#666" stroke-width="1"/>
<line x1="636.1" y1="742.8" x2="639.1" y2="742.8" stroke="#666" stroke-width="1"/>
<line x1="640.2" y1="777.0" x2="643.2" y2="777.0" stroke="#666" stroke-width="1"/>
<line x1="643.9" y1="807.0" x2="646.9" y2="807.0" stroke="#666" stroke-width="1"/>
<text x="624" y="671.8" font-size="10" fill="#222" text-anchor="end" >0.10</text>
<text x="628.8" y="710.9" font-size="10" fill="#222" text-anchor="end" >0.05</text>
<text x="633.3" y="748.5" font-size="10" fill="#222" text-anchor="end" >0.00</text>
<text x="636.7" y="780.8" font-size="10" fill="#222" text-anchor="end" >-0.05</text>
<text x="641.7" y="810.2" font-size="10" fill="#222" text-anchor="end" >-0.10</text>
<text x="641.7" y="817.5" font-size="10" fill="#222" text-anchor="middle" >-0.20</text>
<text x="646.7" y="836.8" font-size="10" fill="#222" text-anchor="middle" >-0.125</text>
<text x="660" y="858.5" font-size="10" fill="#222" text-anchor="middle" >-0.05</text>
<text x="676.7" y="883.5" font-size="10" fill="#222" text-anchor="middle" >0.025</text>
<text x="696.7" y="911.8" font-size="10" fill="#222" text-anchor="middle" >0.100</text>
<text x="720" y="918.5" font-size="10" fill="#222" text-anchor="middle" >-0.10</text>
<text x="750" y="903.5" font-size="10" fill="#222" text-anchor="middle" >-0.05</text>
<text x="783.3" y="891.8" font-size="10" fill="#222" text-anchor="middle" >0.00</text>
<text x="813.3" y="880.2" font-size="10" fill="#222" text-anchor="middle" >0.05</text>
<text x="840" y="868.5" font-size="10" fill="#222" text-anchor="middle" >0.10</text>
<text x="868.3" y="856.8" font-size="10" fill="#222" text-anchor="middle" >0.15</text>
<text x="0" y="0" font-size="13" fill="#333" text-anchor="middle" transform="translate(597.5 747) rotate(86.7)">PC3(12.3%)</text>
<text x="0" y="0" font-size="13" fill="#333" text-anchor="middle" transform="translate(645 876.7) rotate(60)">PC1(20.6%)</text>
<text x="0" y="0" font-size="13" fill="#333" text-anchor="middle" transform="translate(808 900) rotate(-22)">PC2(14.3%)</text>
<circle cx="748.9" cy="744.7" r="4.0" fill="url(#sP)"/>
<circle cx="752.7" cy="769.2" r="4.0" fill="url(#sP)"/>
<circle cx="762.1" cy="767.3" r="4.0" fill="url(#sP)"/>
<circle cx="786.7" cy="801.3" r="4.0" fill="url(#sP)"/>
<circle cx="747.0" cy="750.3" r="4.0" fill="url(#sP)"/>
<circle cx="722.1" cy="787.0" r="4.0" fill="url(#sP)"/>
<circle cx="726.1" cy="788.0" r="4.0" fill="url(#sP)"/>
<circle cx="733.8" cy="779.0" r="4.0" fill="url(#sP)"/>
<circle cx="715.3" cy="791.8" r="4.0" fill="url(#sP)"/>
<circle cx="722.7" cy="781.8" r="4.0" fill="url(#sP)"/>
<circle cx="745.0" cy="785.7" r="4.0" fill="url(#sP)"/>
<circle cx="740.2" cy="785.8" r="4.0" fill="url(#sP)"/>
<circle cx="734.2" cy="780.4" r="4.0" fill="url(#sP)"/>
<circle cx="734.1" cy="792.3" r="4.0" fill="url(#sP)"/>
<circle cx="730.7" cy="790.2" r="4.0" fill="url(#sP)"/>
<circle cx="735.2" cy="779.0" r="4.0" fill="url(#sP)"/>
<circle cx="737.8" cy="787.7" r="4.0" fill="url(#sP)"/>
<circle cx="724.0" cy="778.4" r="4.0" fill="url(#sP)"/>
<circle cx="741.1" cy="785.8" r="4.0" fill="url(#sP)"/>
<circle cx="736.6" cy="792.5" r="4.0" fill="url(#sP)"/>
<circle cx="736.5" cy="793.2" r="4.0" fill="url(#sP)"/>
<circle cx="726.8" cy="791.2" r="4.0" fill="url(#sP)"/>
<circle cx="728.3" cy="793.5" r="4.0" fill="url(#sP)"/>
<circle cx="741.5" cy="779.5" r="4.0" fill="url(#sP)"/>
<circle cx="719.0" cy="781.5" r="4.0" fill="url(#sP)"/>
<circle cx="744.1" cy="785.2" r="4.0" fill="url(#sP)"/>
<circle cx="733.8" cy="782.9" r="4.0" fill="url(#sP)"/>
<circle cx="730.2" cy="784.3" r="4.0" fill="url(#sP)"/>
<circle cx="725.5" cy="787.6" r="4.0" fill="url(#sP)"/>
<circle cx="732.6" cy="792.9" r="4.0" fill="url(#sP)"/>
<circle cx="735.5" cy="793.4" r="4.0" fill="url(#sP)"/>
<circle cx="740.8" cy="794.4" r="4.0" fill="url(#sP)"/>
<circle cx="735.2" cy="780.6" r="4.0" fill="url(#sP)"/>
<circle cx="740.9" cy="793.9" r="4.0" fill="url(#sP)"/>
<circle cx="742.2" cy="787.4" r="4.0" fill="url(#sP)"/>
<circle cx="736.5" cy="781.4" r="4.0" fill="url(#sP)"/>
<circle cx="740.0" cy="787.4" r="4.0" fill="url(#sP)"/>
<circle cx="723.5" cy="779.0" r="4.0" fill="url(#sP)"/>
<circle cx="740.7" cy="794.4" r="4.0" fill="url(#sP)"/>
<circle cx="690.3" cy="712.6" r="4.0" fill="url(#sO)"/>
<circle cx="687.7" cy="717.5" r="4.0" fill="url(#sO)"/>
<circle cx="691.5" cy="721.2" r="4.0" fill="url(#sO)"/>
<circle cx="693.0" cy="726.5" r="4.0" fill="url(#sO)"/>
<circle cx="694.1" cy="719.0" r="4.0" fill="url(#sO)"/>
<circle cx="689.2" cy="722.8" r="4.0" fill="url(#sO)"/>
<circle cx="711.1" cy="714.4" r="4.0" fill="url(#sO)"/>
<circle cx="722.4" cy="708.8" r="4.0" fill="url(#sO)"/>
<circle cx="725.1" cy="710.7" r="4.0" fill="url(#sO)"/>
<circle cx="728.1" cy="716.3" r="4.0" fill="url(#sO)"/>
<circle cx="723.2" cy="712.6" r="4.0" fill="url(#sO)"/>
<circle cx="739.4" cy="729.6" r="4.0" fill="url(#sO)"/>
<circle cx="703.6" cy="740.9" r="4.0" fill="url(#sO)"/>
<circle cx="705.4" cy="746.6" r="4.0" fill="url(#sO)"/>
<circle cx="707.3" cy="750.3" r="4.0" fill="url(#sO)"/>
<circle cx="730.0" cy="740.1" r="4.0" fill="url(#sO)"/>
<circle cx="739.4" cy="710.7" r="4.0" fill="url(#sG)"/>
<circle cx="736.8" cy="713.7" r="4.0" fill="url(#sG)"/>
<circle cx="733.8" cy="721.2" r="4.0" fill="url(#sG)"/>
<circle cx="722.4" cy="732.6" r="4.0" fill="url(#sG)"/>
<circle cx="722.4" cy="739.0" r="4.0" fill="url(#sG)"/>
<circle cx="726.2" cy="750.3" r="4.0" fill="url(#sG)"/>
<circle cx="733.0" cy="748.4" r="4.0" fill="url(#sG)"/>
<circle cx="731.9" cy="729.6" r="4.0" fill="url(#sG)"/>
<circle cx="750.8" cy="721.2" r="4.0" fill="url(#sG)"/>
<circle cx="764.0" cy="722.0" r="4.0" fill="url(#sG)"/>
<circle cx="765.9" cy="729.6" r="4.0" fill="url(#sG)"/>
<circle cx="767.8" cy="734.1" r="4.0" fill="url(#sG)"/>
<circle cx="752.7" cy="748.4" r="4.0" fill="url(#sG)"/>
<circle cx="764.0" cy="742.8" r="4.0" fill="url(#sG)"/>
<circle cx="770.0" cy="750.3" r="4.0" fill="url(#sG)"/>
<circle cx="777.2" cy="744.7" r="4.0" fill="url(#sG)"/>
<circle cx="775.3" cy="753.0" r="4.0" fill="url(#sG)"/>
<circle cx="779.1" cy="759.0" r="4.0" fill="url(#sG)"/>
<circle cx="783.6" cy="763.6" r="4.0" fill="url(#sG)"/>
<circle cx="786.7" cy="759.8" r="4.0" fill="url(#sG)"/>
<circle cx="750.8" cy="760.5" r="4.0" fill="url(#sG)"/>
<circle cx="773.4" cy="771.1" r="4.0" fill="url(#sG)"/>
<circle cx="765.9" cy="786.2" r="4.0" fill="url(#sG)"/>
<circle cx="792.3" cy="788.1" r="4.0" fill="url(#sG)"/>
<circle cx="796.1" cy="764.3" r="4.0" fill="url(#sG)"/>
<circle cx="801.0" cy="765.4" r="4.0" fill="url(#sG)"/>
<circle cx="777.2" cy="737.9" r="4.0" fill="url(#sG)"/>
<circle cx="756.4" cy="740.9" r="4.0" fill="url(#sG)"/>
<circle cx="730.8" cy="740.1" r="4.0" fill="url(#sG)"/>
<circle cx="798.0" cy="771.1" r="4.0" fill="url(#sC)"/>
<circle cx="793.5" cy="773.0" r="4.0" fill="url(#sC)"/>
<circle cx="805.6" cy="785.1" r="4.0" fill="url(#sC)"/>
<circle cx="771.6" cy="782.4" r="4.0" fill="url(#sC)"/>
<circle cx="779.1" cy="786.2" r="4.0" fill="url(#sC)"/>
<circle cx="786.7" cy="790.8" r="4.0" fill="url(#sC)"/>
<circle cx="764.0" cy="788.1" r="4.0" fill="url(#sC)"/>
<circle cx="782.9" cy="782.4" r="4.0" fill="url(#sC)"/>
<circle cx="790.4" cy="793.8" r="4.0" fill="url(#sC)"/>
<circle cx="796.1" cy="797.6" r="4.0" fill="url(#sC)"/>
<circle cx="801.8" cy="799.4" r="4.0" fill="url(#sC)"/>
<circle cx="807.4" cy="805.1" r="4.0" fill="url(#sC)"/>
<circle cx="813.1" cy="807.0" r="4.0" fill="url(#sC)"/>
<circle cx="816.9" cy="810.8" r="4.0" fill="url(#sC)"/>
<circle cx="822.6" cy="812.7" r="4.0" fill="url(#sC)"/>
<circle cx="828.2" cy="815.7" r="4.0" fill="url(#sC)"/>
<circle cx="824.5" cy="816.4" r="4.0" fill="url(#sC)"/>
<circle cx="811.2" cy="808.9" r="4.0" fill="url(#sC)"/>
<circle cx="794.2" cy="791.9" r="4.0" fill="url(#sC)"/>
<circle cx="775.3" cy="791.9" r="4.0" fill="url(#sC)"/>
<circle cx="799.9" cy="803.2" r="4.0" fill="url(#sC)"/>
<circle cx="805.6" cy="808.9" r="4.0" fill="url(#sC)"/>
<circle cx="818.8" cy="814.6" r="4.0" fill="url(#sC)"/>
<circle cx="786.7" cy="797.6" r="4.0" fill="url(#sC)"/>
<circle cx="771.6" cy="788.1" r="4.0" fill="url(#sC)"/>
<circle cx="767.0" cy="783.2" r="4.0" fill="url(#sC)"/>
<circle cx="809.3" cy="801.3" r="4.0" fill="url(#sC)"/>
<circle cx="777.2" cy="780.6" r="4.0" fill="url(#sC)"/>
<circle cx="826.7" cy="709" r="4.3" fill="url(#sO)"/>
<text x="833.3" y="713.5" font-size="12.5" fill="#333" text-anchor="start" >YNG</text>
<circle cx="826.7" cy="721" r="4.3" fill="url(#sG)"/>
<text x="833.3" y="725.5" font-size="12.5" fill="#333" text-anchor="start" >FGG1</text>
<circle cx="826.7" cy="733.3" r="4.3" fill="url(#sC)"/>
<text x="833.3" y="737.8" font-size="12.5" fill="#333" text-anchor="start" >FGG2</text>
<circle cx="826.7" cy="746" r="4.3" fill="url(#sP)"/>
<text x="833.3" y="750.5" font-size="12.5" fill="#333" text-anchor="start" >HNG</text>
</svg></body></html>
